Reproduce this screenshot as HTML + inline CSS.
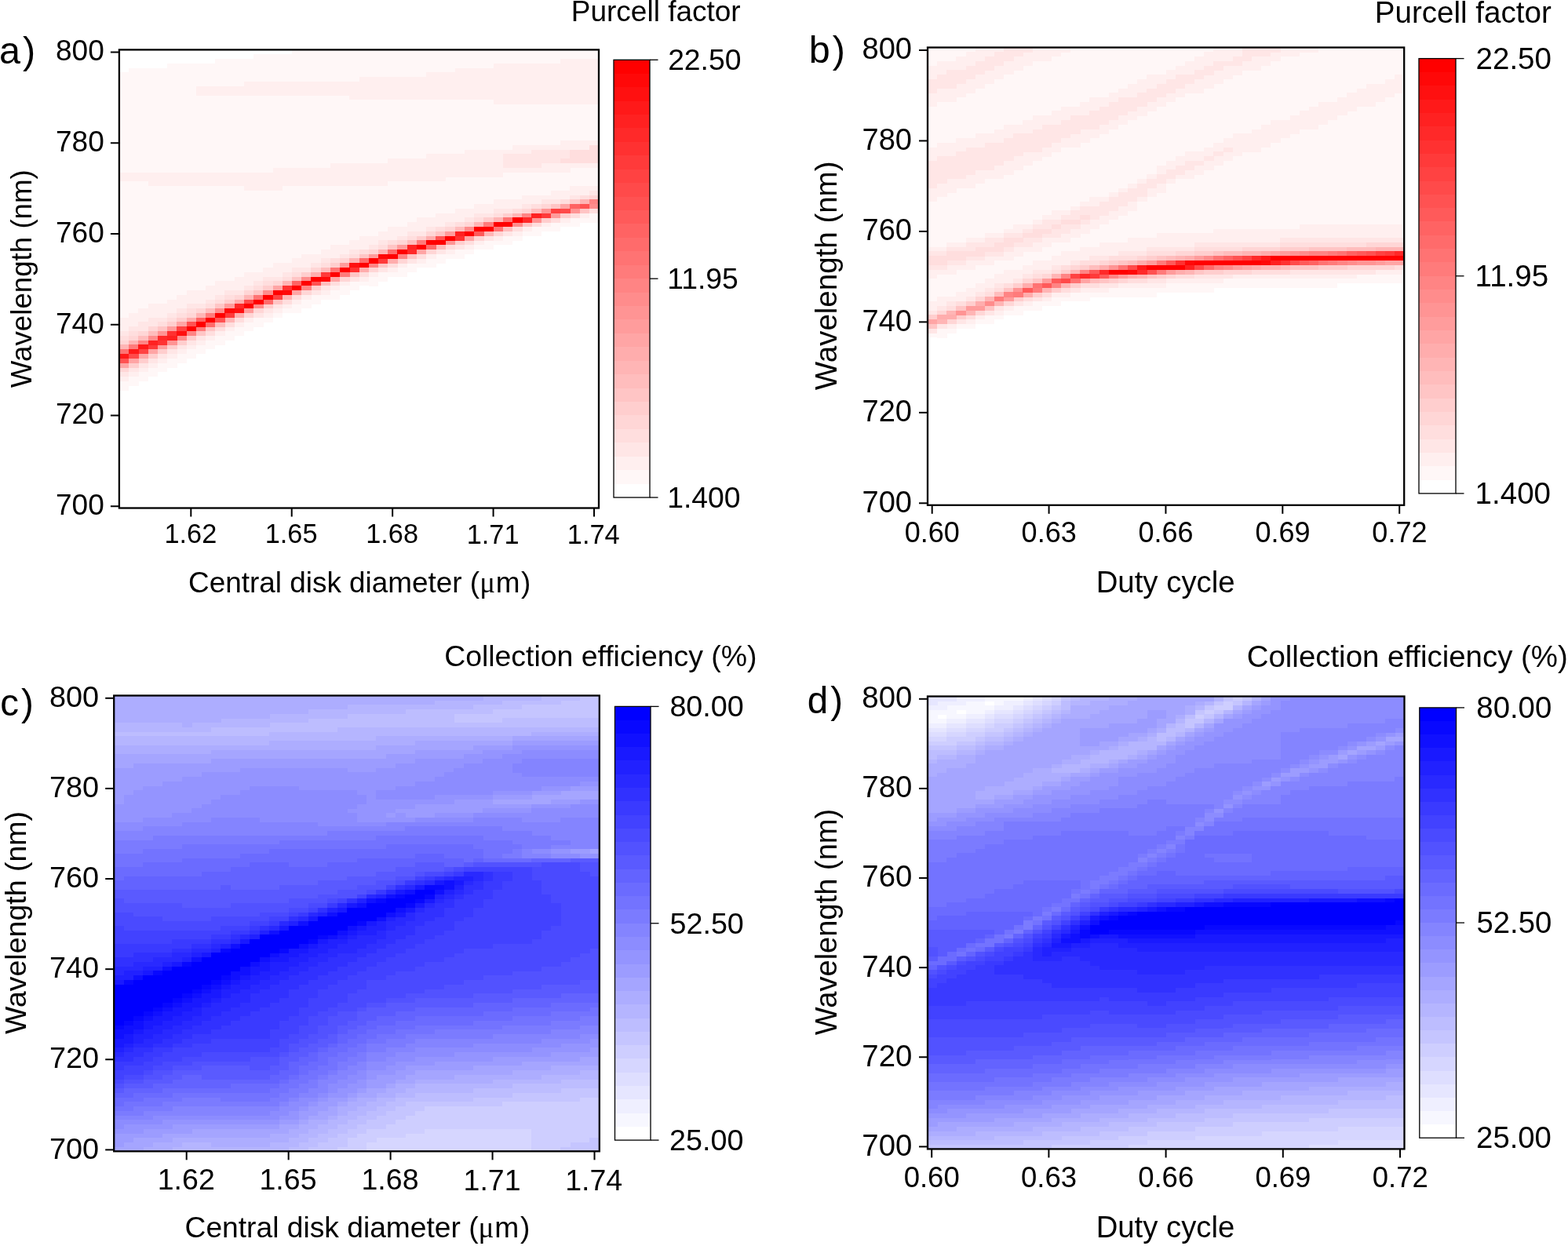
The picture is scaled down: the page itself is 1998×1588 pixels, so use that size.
<!DOCTYPE html><html><head><meta charset="utf-8"><title>Purcell factor and collection efficiency maps</title>
<style>html,body{margin:0;padding:0;background:#fff;overflow:hidden}svg{display:block}text{font-family:"Liberation Sans", Arial, Helvetica, sans-serif;fill:#000}</style></head><body>
<svg xmlns="http://www.w3.org/2000/svg" width="1998" height="1588" viewBox="0 0 1998 1588">
<rect width="1998" height="1588" fill="#fff"/>
<g shape-rendering="crispEdges">
<path fill="#fff7f7" d="M151.9 92.3h12.5v127.5h-12.5zM151.9 231.1h12.5v173.8h-12.5zM151.9 485.6h12.5v11.9h-12.5zM164.1 86.5h12.5v133.3h-12.5zM164.1 231.1h12.5v168.0h-12.5zM164.1 479.8h12.5v11.9h-12.5zM176.3 86.5h12.5v133.3h-12.5zM176.3 231.1h12.5v162.2h-12.5zM176.3 474.0h12.5v11.9h-12.5zM188.6 86.5h12.5v133.3h-12.5zM188.6 236.9h12.5v150.7h-12.5zM188.6 468.2h12.5v11.9h-12.5zM200.8 86.5h12.5v133.3h-12.5zM200.8 236.9h12.5v150.7h-12.5zM200.8 462.4h12.5v11.9h-12.5zM213.0 80.7h12.5v139.1h-12.5zM213.0 236.9h12.5v144.9h-12.5zM213.0 456.7h12.5v11.9h-12.5zM225.2 80.7h12.5v139.1h-12.5zM225.2 236.9h12.5v139.1h-12.5zM225.2 450.9h12.5v11.9h-12.5zM237.5 80.7h12.5v139.1h-12.5zM237.5 236.9h12.5v133.3h-12.5zM237.5 445.1h12.5v11.9h-12.5zM249.7 80.7h12.5v29.2h-12.5zM249.7 121.2h12.5v98.6h-12.5zM249.7 236.9h12.5v133.3h-12.5zM249.7 439.3h12.5v11.9h-12.5zM261.9 80.7h12.5v29.2h-12.5zM261.9 121.2h12.5v98.6h-12.5zM261.9 236.9h12.5v127.5h-12.5zM261.9 433.5h12.5v11.9h-12.5zM274.1 75.0h12.5v35.0h-12.5zM274.1 121.2h12.5v98.6h-12.5zM274.1 236.9h12.5v121.7h-12.5zM274.1 427.7h12.5v11.9h-12.5zM286.3 75.0h12.5v35.0h-12.5zM286.3 121.2h12.5v98.6h-12.5zM286.3 236.9h12.5v121.7h-12.5zM286.3 422.0h12.5v11.9h-12.5zM298.6 75.0h12.5v35.0h-12.5zM298.6 121.2h12.5v98.6h-12.5zM298.6 236.9h12.5v116.0h-12.5zM298.6 416.2h12.5v11.9h-12.5zM310.8 75.0h12.5v29.2h-12.5zM310.8 121.2h12.5v98.6h-12.5zM310.8 242.7h12.5v104.4h-12.5zM310.8 410.4h12.5v11.9h-12.5zM323.0 69.2h12.5v35.0h-12.5zM323.0 121.2h12.5v98.6h-12.5zM323.0 242.7h12.5v104.4h-12.5zM323.0 404.6h12.5v11.9h-12.5zM335.2 69.2h12.5v35.0h-12.5zM335.2 121.2h12.5v98.6h-12.5zM335.2 242.7h12.5v98.6h-12.5zM335.2 404.6h12.5v6.1h-12.5zM347.5 69.2h12.5v35.0h-12.5zM347.5 121.2h12.5v92.8h-12.5zM347.5 242.7h12.5v92.8h-12.5zM347.5 398.8h12.5v6.1h-12.5zM359.7 69.2h12.5v35.0h-12.5zM359.7 121.2h12.5v92.8h-12.5zM359.7 236.9h12.5v98.6h-12.5zM359.7 393.0h12.5v6.1h-12.5zM371.9 63.4h12.5v40.8h-12.5zM371.9 121.2h12.5v92.8h-12.5zM371.9 236.9h12.5v92.8h-12.5zM371.9 387.3h12.5v11.9h-12.5zM384.1 63.4h12.5v40.8h-12.5zM384.1 121.2h12.5v92.8h-12.5zM384.1 236.9h12.5v87.0h-12.5zM384.1 381.5h12.5v11.9h-12.5zM396.3 63.4h12.5v40.8h-12.5zM396.3 121.2h12.5v92.8h-12.5zM396.3 236.9h12.5v87.0h-12.5zM396.3 375.7h12.5v11.9h-12.5zM408.6 63.4h12.5v40.8h-12.5zM408.6 121.2h12.5v92.8h-12.5zM408.6 236.9h12.5v81.3h-12.5zM408.6 375.7h12.5v6.1h-12.5zM420.8 63.4h12.5v40.8h-12.5zM420.8 121.2h12.5v87.0h-12.5zM420.8 236.9h12.5v75.5h-12.5zM420.8 369.9h12.5v11.9h-12.5zM433.0 63.4h12.5v40.8h-12.5zM433.0 121.2h12.5v87.0h-12.5zM433.0 236.9h12.5v75.5h-12.5zM433.0 364.1h12.5v11.9h-12.5zM445.2 63.4h12.5v40.8h-12.5zM445.2 127.0h12.5v81.3h-12.5zM445.2 236.9h12.5v69.7h-12.5zM445.2 358.3h12.5v11.9h-12.5zM457.5 63.4h12.5v35.0h-12.5zM457.5 127.0h12.5v81.3h-12.5zM457.5 236.9h12.5v63.9h-12.5zM457.5 358.3h12.5v6.1h-12.5zM469.7 63.4h12.5v35.0h-12.5zM469.7 127.0h12.5v81.3h-12.5zM469.7 236.9h12.5v63.9h-12.5zM469.7 352.6h12.5v11.9h-12.5zM481.9 63.4h12.5v35.0h-12.5zM481.9 127.0h12.5v81.3h-12.5zM481.9 236.9h12.5v58.1h-12.5zM481.9 346.8h12.5v11.9h-12.5zM494.1 63.4h12.5v35.0h-12.5zM494.1 127.0h12.5v75.5h-12.5zM494.1 231.1h12.5v58.1h-12.5zM494.1 346.8h12.5v6.1h-12.5zM506.3 63.4h12.5v35.0h-12.5zM506.3 127.0h12.5v75.5h-12.5zM506.3 231.1h12.5v58.1h-12.5zM506.3 341.0h12.5v11.9h-12.5zM518.6 63.4h12.5v35.0h-12.5zM518.6 127.0h12.5v75.5h-12.5zM518.6 231.1h12.5v52.3h-12.5zM518.6 335.2h12.5v11.9h-12.5zM530.8 63.4h12.5v35.0h-12.5zM530.8 127.0h12.5v75.5h-12.5zM530.8 231.1h12.5v46.6h-12.5zM530.8 335.2h12.5v6.1h-12.5zM543.0 63.4h12.5v29.2h-12.5zM543.0 127.0h12.5v69.7h-12.5zM543.0 231.1h12.5v46.6h-12.5zM543.0 329.4h12.5v11.9h-12.5zM555.2 63.4h12.5v29.2h-12.5zM555.2 127.0h12.5v69.7h-12.5zM555.2 231.1h12.5v40.8h-12.5zM555.2 323.6h12.5v11.9h-12.5zM567.4 63.4h12.5v29.2h-12.5zM567.4 127.0h12.5v69.7h-12.5zM567.4 225.3h12.5v46.6h-12.5zM567.4 323.6h12.5v6.1h-12.5zM579.7 63.4h12.5v23.4h-12.5zM579.7 127.0h12.5v69.7h-12.5zM579.7 225.3h12.5v40.8h-12.5zM579.7 317.9h12.5v11.9h-12.5zM591.9 63.4h12.5v23.4h-12.5zM591.9 127.0h12.5v63.9h-12.5zM591.9 225.3h12.5v40.8h-12.5zM591.9 317.9h12.5v6.1h-12.5zM604.1 63.4h12.5v23.4h-12.5zM604.1 127.0h12.5v63.9h-12.5zM604.1 225.3h12.5v35.0h-12.5zM604.1 312.1h12.5v6.1h-12.5zM616.3 63.4h12.5v23.4h-12.5zM616.3 127.0h12.5v63.9h-12.5zM616.3 225.3h12.5v35.0h-12.5zM616.3 306.3h12.5v11.9h-12.5zM628.6 63.4h12.5v17.6h-12.5zM628.6 132.8h12.5v58.1h-12.5zM628.6 225.3h12.5v29.2h-12.5zM628.6 306.3h12.5v6.1h-12.5zM640.8 63.4h12.5v17.6h-12.5zM640.8 132.8h12.5v58.1h-12.5zM640.8 219.5h12.5v35.0h-12.5zM640.8 300.5h12.5v11.9h-12.5zM653.0 63.4h12.5v17.6h-12.5zM653.0 132.8h12.5v52.3h-12.5zM653.0 219.5h12.5v35.0h-12.5zM653.0 300.5h12.5v6.1h-12.5zM665.2 63.4h12.5v17.6h-12.5zM665.2 132.8h12.5v52.3h-12.5zM665.2 219.5h12.5v29.2h-12.5zM665.2 294.7h12.5v6.1h-12.5zM677.4 63.4h12.5v17.6h-12.5zM677.4 132.8h12.5v52.3h-12.5zM677.4 219.5h12.5v29.2h-12.5zM677.4 288.9h12.5v11.9h-12.5zM689.7 63.4h12.5v17.6h-12.5zM689.7 132.8h12.5v52.3h-12.5zM689.7 219.5h12.5v29.2h-12.5zM689.7 288.9h12.5v6.1h-12.5zM701.9 63.4h12.5v17.6h-12.5zM701.9 132.8h12.5v52.3h-12.5zM701.9 219.5h12.5v23.4h-12.5zM701.9 283.2h12.5v11.9h-12.5zM714.1 63.4h12.5v11.9h-12.5zM714.1 132.8h12.5v46.6h-12.5zM714.1 219.5h12.5v23.4h-12.5zM714.1 283.2h12.5v6.1h-12.5zM726.3 63.4h12.5v11.9h-12.5zM726.3 132.8h12.5v46.6h-12.5zM726.3 213.8h12.5v23.4h-12.5zM726.3 277.4h12.5v11.9h-12.5zM738.6 63.4h12.5v11.9h-12.5zM738.6 132.8h12.5v46.6h-12.5zM738.6 213.8h12.5v23.4h-12.5zM738.6 277.4h12.5v6.1h-12.5zM750.8 63.4h12.5v11.9h-12.5zM750.8 132.8h12.5v46.6h-12.5zM750.8 213.8h12.5v23.4h-12.5zM750.8 271.6h12.5v11.9h-12.5z"/>
<path fill="#ffefef" d="M151.9 219.5h12.5v11.9h-12.5zM151.9 404.6h12.5v17.6h-12.5zM151.9 479.8h12.5v6.1h-12.5zM164.1 219.5h12.5v11.9h-12.5zM164.1 398.8h12.5v17.6h-12.5zM164.1 474.0h12.5v6.1h-12.5zM176.3 219.5h12.5v11.9h-12.5zM176.3 393.0h12.5v17.6h-12.5zM176.3 468.2h12.5v6.1h-12.5zM188.6 219.5h12.5v17.6h-12.5zM188.6 387.3h12.5v17.6h-12.5zM188.6 462.4h12.5v6.1h-12.5zM200.8 219.5h12.5v17.6h-12.5zM200.8 387.3h12.5v17.6h-12.5zM200.8 456.7h12.5v6.1h-12.5zM213.0 219.5h12.5v17.6h-12.5zM213.0 381.5h12.5v17.6h-12.5zM213.0 450.9h12.5v6.1h-12.5zM225.2 219.5h12.5v17.6h-12.5zM225.2 375.7h12.5v17.6h-12.5zM225.2 445.1h12.5v6.1h-12.5zM237.5 219.5h12.5v17.6h-12.5zM237.5 369.9h12.5v17.6h-12.5zM237.5 439.3h12.5v6.1h-12.5zM249.7 109.7h12.5v11.9h-12.5zM249.7 219.5h12.5v17.6h-12.5zM249.7 369.9h12.5v17.6h-12.5zM249.7 433.5h12.5v6.1h-12.5zM261.9 109.7h12.5v11.9h-12.5zM261.9 219.5h12.5v17.6h-12.5zM261.9 364.1h12.5v17.6h-12.5zM261.9 427.7h12.5v6.1h-12.5zM274.1 109.7h12.5v11.9h-12.5zM274.1 219.5h12.5v17.6h-12.5zM274.1 358.3h12.5v17.6h-12.5zM274.1 422.0h12.5v6.1h-12.5zM286.3 109.7h12.5v11.9h-12.5zM286.3 219.5h12.5v17.6h-12.5zM286.3 358.3h12.5v11.9h-12.5zM286.3 416.2h12.5v6.1h-12.5zM298.6 109.7h12.5v11.9h-12.5zM298.6 219.5h12.5v17.6h-12.5zM298.6 352.6h12.5v17.6h-12.5zM298.6 410.4h12.5v6.1h-12.5zM310.8 103.9h12.5v17.6h-12.5zM310.8 219.5h12.5v23.4h-12.5zM310.8 346.8h12.5v17.6h-12.5zM310.8 404.6h12.5v6.1h-12.5zM323.0 103.9h12.5v17.6h-12.5zM323.0 219.5h12.5v23.4h-12.5zM323.0 346.8h12.5v11.9h-12.5zM335.2 103.9h12.5v17.6h-12.5zM335.2 219.5h12.5v23.4h-12.5zM335.2 341.0h12.5v11.9h-12.5zM335.2 398.8h12.5v6.1h-12.5zM347.5 103.9h12.5v17.6h-12.5zM347.5 213.8h12.5v29.2h-12.5zM347.5 335.2h12.5v17.6h-12.5zM347.5 393.0h12.5v6.1h-12.5zM359.7 103.9h12.5v17.6h-12.5zM359.7 213.8h12.5v23.4h-12.5zM359.7 335.2h12.5v11.9h-12.5zM359.7 387.3h12.5v6.1h-12.5zM371.9 103.9h12.5v17.6h-12.5zM371.9 213.8h12.5v23.4h-12.5zM371.9 329.4h12.5v11.9h-12.5zM371.9 381.5h12.5v6.1h-12.5zM384.1 103.9h12.5v17.6h-12.5zM384.1 213.8h12.5v23.4h-12.5zM384.1 323.6h12.5v17.6h-12.5zM384.1 375.7h12.5v6.1h-12.5zM396.3 103.9h12.5v17.6h-12.5zM396.3 213.8h12.5v23.4h-12.5zM396.3 323.6h12.5v11.9h-12.5zM408.6 103.9h12.5v17.6h-12.5zM408.6 213.8h12.5v23.4h-12.5zM408.6 317.9h12.5v11.9h-12.5zM408.6 369.9h12.5v6.1h-12.5zM420.8 103.9h12.5v17.6h-12.5zM420.8 208.0h12.5v29.2h-12.5zM420.8 312.1h12.5v17.6h-12.5zM420.8 364.1h12.5v6.1h-12.5zM433.0 103.9h12.5v17.6h-12.5zM433.0 208.0h12.5v29.2h-12.5zM433.0 312.1h12.5v11.9h-12.5zM433.0 358.3h12.5v6.1h-12.5zM445.2 103.9h12.5v23.4h-12.5zM445.2 208.0h12.5v29.2h-12.5zM445.2 306.3h12.5v11.9h-12.5zM457.5 98.1h12.5v29.2h-12.5zM457.5 208.0h12.5v29.2h-12.5zM457.5 300.5h12.5v17.6h-12.5zM457.5 352.6h12.5v6.1h-12.5zM469.7 98.1h12.5v29.2h-12.5zM469.7 208.0h12.5v29.2h-12.5zM469.7 300.5h12.5v11.9h-12.5zM469.7 346.8h12.5v6.1h-12.5zM481.9 98.1h12.5v29.2h-12.5zM481.9 208.0h12.5v29.2h-12.5zM481.9 294.7h12.5v11.9h-12.5zM494.1 98.1h12.5v29.2h-12.5zM494.1 202.2h12.5v29.2h-12.5zM494.1 288.9h12.5v17.6h-12.5zM494.1 341.0h12.5v6.1h-12.5zM506.3 98.1h12.5v29.2h-12.5zM506.3 202.2h12.5v29.2h-12.5zM506.3 288.9h12.5v11.9h-12.5zM506.3 335.2h12.5v6.1h-12.5zM518.6 98.1h12.5v29.2h-12.5zM518.6 202.2h12.5v29.2h-12.5zM518.6 283.2h12.5v11.9h-12.5zM530.8 98.1h12.5v29.2h-12.5zM530.8 202.2h12.5v29.2h-12.5zM530.8 277.4h12.5v17.6h-12.5zM530.8 329.4h12.5v6.1h-12.5zM543.0 92.3h12.5v35.0h-12.5zM543.0 196.4h12.5v35.0h-12.5zM543.0 277.4h12.5v11.9h-12.5zM543.0 323.6h12.5v6.1h-12.5zM555.2 92.3h12.5v35.0h-12.5zM555.2 196.4h12.5v35.0h-12.5zM555.2 271.6h12.5v17.6h-12.5zM567.4 92.3h12.5v35.0h-12.5zM567.4 196.4h12.5v29.2h-12.5zM567.4 271.6h12.5v11.9h-12.5zM567.4 317.9h12.5v6.1h-12.5zM579.7 86.5h12.5v40.8h-12.5zM579.7 196.4h12.5v29.2h-12.5zM579.7 265.8h12.5v17.6h-12.5zM591.9 86.5h12.5v40.8h-12.5zM591.9 190.6h12.5v35.0h-12.5zM591.9 265.8h12.5v11.9h-12.5zM591.9 312.1h12.5v6.1h-12.5zM604.1 86.5h12.5v40.8h-12.5zM604.1 190.6h12.5v35.0h-12.5zM604.1 260.0h12.5v11.9h-12.5zM604.1 306.3h12.5v6.1h-12.5zM616.3 86.5h12.5v40.8h-12.5zM616.3 190.6h12.5v35.0h-12.5zM616.3 260.0h12.5v11.9h-12.5zM628.6 80.7h12.5v52.3h-12.5zM628.6 190.6h12.5v35.0h-12.5zM628.6 254.2h12.5v11.9h-12.5zM628.6 300.5h12.5v6.1h-12.5zM640.8 80.7h12.5v52.3h-12.5zM640.8 190.6h12.5v6.1h-12.5zM640.8 213.8h12.5v6.1h-12.5zM640.8 254.2h12.5v11.9h-12.5zM653.0 80.7h12.5v52.3h-12.5zM653.0 184.8h12.5v11.9h-12.5zM653.0 213.8h12.5v6.1h-12.5zM653.0 254.2h12.5v11.9h-12.5zM653.0 294.7h12.5v6.1h-12.5zM665.2 80.7h12.5v52.3h-12.5zM665.2 184.8h12.5v11.9h-12.5zM665.2 213.8h12.5v6.1h-12.5zM665.2 248.5h12.5v11.9h-12.5zM665.2 288.9h12.5v6.1h-12.5zM677.4 80.7h12.5v52.3h-12.5zM677.4 184.8h12.5v6.1h-12.5zM677.4 213.8h12.5v6.1h-12.5zM677.4 248.5h12.5v11.9h-12.5zM689.7 80.7h12.5v52.3h-12.5zM689.7 184.8h12.5v6.1h-12.5zM689.7 208.0h12.5v11.9h-12.5zM689.7 248.5h12.5v6.1h-12.5zM689.7 283.2h12.5v6.1h-12.5zM701.9 80.7h12.5v52.3h-12.5zM701.9 184.8h12.5v6.1h-12.5zM701.9 208.0h12.5v11.9h-12.5zM701.9 242.7h12.5v11.9h-12.5zM714.1 75.0h12.5v58.1h-12.5zM714.1 179.1h12.5v11.9h-12.5zM714.1 208.0h12.5v11.9h-12.5zM714.1 242.7h12.5v11.9h-12.5zM714.1 277.4h12.5v6.1h-12.5zM726.3 75.0h12.5v58.1h-12.5zM726.3 179.1h12.5v11.9h-12.5zM726.3 208.0h12.5v6.1h-12.5zM726.3 236.9h12.5v11.9h-12.5zM738.6 75.0h12.5v58.1h-12.5zM738.6 179.1h12.5v11.9h-12.5zM738.6 208.0h12.5v6.1h-12.5zM738.6 236.9h12.5v11.9h-12.5zM738.6 271.6h12.5v6.1h-12.5zM750.8 75.0h12.5v58.1h-12.5zM750.8 179.1h12.5v6.1h-12.5zM750.8 208.0h12.5v6.1h-12.5zM750.8 236.9h12.5v6.1h-12.5z"/>
<path fill="#ffe6e6" d="M151.9 422.0h12.5v6.1h-12.5zM151.9 474.0h12.5v6.1h-12.5zM164.1 416.2h12.5v6.1h-12.5zM164.1 468.2h12.5v6.1h-12.5zM176.3 410.4h12.5v11.9h-12.5zM176.3 462.4h12.5v6.1h-12.5zM188.6 404.6h12.5v11.9h-12.5zM188.6 456.7h12.5v6.1h-12.5zM200.8 404.6h12.5v6.1h-12.5zM200.8 450.9h12.5v6.1h-12.5zM213.0 398.8h12.5v6.1h-12.5zM213.0 445.1h12.5v6.1h-12.5zM225.2 393.0h12.5v6.1h-12.5zM225.2 439.3h12.5v6.1h-12.5zM237.5 387.3h12.5v6.1h-12.5zM237.5 433.5h12.5v6.1h-12.5zM249.7 387.3h12.5v6.1h-12.5zM249.7 427.7h12.5v6.1h-12.5zM261.9 381.5h12.5v6.1h-12.5zM274.1 375.7h12.5v6.1h-12.5zM286.3 369.9h12.5v6.1h-12.5zM298.6 369.9h12.5v6.1h-12.5zM310.8 364.1h12.5v6.1h-12.5zM323.0 358.3h12.5v6.1h-12.5zM323.0 398.8h12.5v6.1h-12.5zM335.2 352.6h12.5v6.1h-12.5zM335.2 393.0h12.5v6.1h-12.5zM347.5 352.6h12.5v6.1h-12.5zM347.5 387.3h12.5v6.1h-12.5zM359.7 346.8h12.5v6.1h-12.5zM371.9 341.0h12.5v6.1h-12.5zM384.1 341.0h12.5v6.1h-12.5zM396.3 335.2h12.5v6.1h-12.5zM396.3 369.9h12.5v6.1h-12.5zM408.6 329.4h12.5v6.1h-12.5zM408.6 364.1h12.5v6.1h-12.5zM433.0 323.6h12.5v6.1h-12.5zM445.2 317.9h12.5v6.1h-12.5zM445.2 352.6h12.5v6.1h-12.5zM469.7 312.1h12.5v6.1h-12.5zM481.9 306.3h12.5v6.1h-12.5zM481.9 341.0h12.5v6.1h-12.5zM506.3 300.5h12.5v6.1h-12.5zM518.6 294.7h12.5v6.1h-12.5zM518.6 329.4h12.5v6.1h-12.5zM530.8 294.7h12.5v6.1h-12.5zM543.0 288.9h12.5v6.1h-12.5zM555.2 317.9h12.5v6.1h-12.5zM567.4 283.2h12.5v6.1h-12.5zM579.7 312.1h12.5v6.1h-12.5zM591.9 277.4h12.5v6.1h-12.5zM604.1 271.6h12.5v6.1h-12.5zM616.3 271.6h12.5v6.1h-12.5zM616.3 300.5h12.5v6.1h-12.5zM628.6 265.8h12.5v6.1h-12.5zM640.8 196.4h12.5v17.6h-12.5zM640.8 265.8h12.5v6.1h-12.5zM640.8 294.7h12.5v6.1h-12.5zM653.0 196.4h12.5v17.6h-12.5zM665.2 196.4h12.5v17.6h-12.5zM665.2 260.0h12.5v6.1h-12.5zM677.4 190.6h12.5v23.4h-12.5zM689.7 190.6h12.5v17.6h-12.5zM689.7 254.2h12.5v6.1h-12.5zM701.9 190.6h12.5v17.6h-12.5zM701.9 254.2h12.5v6.1h-12.5zM714.1 190.6h12.5v11.9h-12.5zM726.3 248.5h12.5v6.1h-12.5zM750.8 242.7h12.5v6.1h-12.5z"/>
<path fill="#ffdede" d="M151.9 427.7h12.5v6.1h-12.5zM164.1 422.0h12.5v6.1h-12.5zM200.8 410.4h12.5v6.1h-12.5zM213.0 404.6h12.5v6.1h-12.5zM225.2 398.8h12.5v6.1h-12.5zM237.5 393.0h12.5v6.1h-12.5zM261.9 387.3h12.5v6.1h-12.5zM261.9 422.0h12.5v6.1h-12.5zM274.1 381.5h12.5v6.1h-12.5zM274.1 416.2h12.5v6.1h-12.5zM286.3 375.7h12.5v6.1h-12.5zM286.3 410.4h12.5v6.1h-12.5zM298.6 404.6h12.5v6.1h-12.5zM323.0 364.1h12.5v6.1h-12.5zM335.2 358.3h12.5v6.1h-12.5zM359.7 352.6h12.5v6.1h-12.5zM359.7 381.5h12.5v6.1h-12.5zM371.9 346.8h12.5v6.1h-12.5zM371.9 375.7h12.5v6.1h-12.5zM408.6 335.2h12.5v6.1h-12.5zM420.8 329.4h12.5v6.1h-12.5zM420.8 358.3h12.5v6.1h-12.5zM445.2 323.6h12.5v6.1h-12.5zM457.5 317.9h12.5v6.1h-12.5zM457.5 346.8h12.5v6.1h-12.5zM481.9 312.1h12.5v6.1h-12.5zM494.1 306.3h12.5v6.1h-12.5zM494.1 335.2h12.5v6.1h-12.5zM518.6 300.5h12.5v6.1h-12.5zM530.8 323.6h12.5v6.1h-12.5zM555.2 288.9h12.5v6.1h-12.5zM567.4 312.1h12.5v6.1h-12.5zM579.7 283.2h12.5v6.1h-12.5zM591.9 306.3h12.5v6.1h-12.5zM604.1 277.4h12.5v6.1h-12.5zM628.6 271.6h12.5v6.1h-12.5zM653.0 265.8h12.5v6.1h-12.5zM653.0 288.9h12.5v6.1h-12.5zM677.4 260.0h12.5v6.1h-12.5zM677.4 283.2h12.5v6.1h-12.5zM701.9 277.4h12.5v6.1h-12.5zM714.1 202.2h12.5v6.1h-12.5zM714.1 254.2h12.5v6.1h-12.5zM726.3 190.6h12.5v17.6h-12.5zM726.3 271.6h12.5v6.1h-12.5zM738.6 190.6h12.5v17.6h-12.5zM738.6 248.5h12.5v6.1h-12.5zM750.8 184.8h12.5v23.4h-12.5zM750.8 265.8h12.5v6.1h-12.5z"/>
<path fill="#ffd6d6" d="M151.9 433.5h12.5v6.1h-12.5zM151.9 468.2h12.5v6.1h-12.5zM164.1 427.7h12.5v6.1h-12.5zM176.3 422.0h12.5v6.1h-12.5zM188.6 416.2h12.5v6.1h-12.5zM237.5 398.8h12.5v6.1h-12.5zM249.7 393.0h12.5v6.1h-12.5zM298.6 375.7h12.5v6.1h-12.5zM310.8 369.9h12.5v6.1h-12.5zM310.8 398.8h12.5v6.1h-12.5zM323.0 393.0h12.5v6.1h-12.5zM347.5 358.3h12.5v6.1h-12.5zM384.1 369.9h12.5v6.1h-12.5zM396.3 341.0h12.5v6.1h-12.5zM433.0 329.4h12.5v6.1h-12.5zM433.0 352.6h12.5v6.1h-12.5zM469.7 317.9h12.5v6.1h-12.5zM469.7 341.0h12.5v6.1h-12.5zM506.3 306.3h12.5v6.1h-12.5zM506.3 329.4h12.5v6.1h-12.5zM543.0 294.7h12.5v6.1h-12.5zM543.0 317.9h12.5v6.1h-12.5zM567.4 288.9h12.5v6.1h-12.5zM591.9 283.2h12.5v6.1h-12.5zM604.1 300.5h12.5v6.1h-12.5zM628.6 294.7h12.5v6.1h-12.5zM665.2 265.8h12.5v6.1h-12.5zM689.7 260.0h12.5v6.1h-12.5zM750.8 248.5h12.5v6.1h-12.5z"/>
<path fill="#ffcece" d="M164.1 462.4h12.5v6.1h-12.5zM176.3 456.7h12.5v6.1h-12.5zM188.6 450.9h12.5v6.1h-12.5zM200.8 445.1h12.5v6.1h-12.5zM213.0 410.4h12.5v6.1h-12.5zM213.0 439.3h12.5v6.1h-12.5zM225.2 404.6h12.5v6.1h-12.5zM225.2 433.5h12.5v6.1h-12.5zM237.5 427.7h12.5v6.1h-12.5zM286.3 381.5h12.5v6.1h-12.5zM335.2 364.1h12.5v6.1h-12.5zM335.2 387.3h12.5v6.1h-12.5zM384.1 346.8h12.5v6.1h-12.5zM396.3 364.1h12.5v6.1h-12.5zM420.8 335.2h12.5v6.1h-12.5zM530.8 300.5h12.5v6.1h-12.5zM579.7 306.3h12.5v6.1h-12.5zM616.3 277.4h12.5v6.1h-12.5zM640.8 271.6h12.5v6.1h-12.5zM689.7 277.4h12.5v6.1h-12.5zM714.1 271.6h12.5v6.1h-12.5zM726.3 254.2h12.5v6.1h-12.5z"/>
<path fill="#ffc5c5" d="M200.8 416.2h12.5v6.1h-12.5zM249.7 422.0h12.5v6.1h-12.5zM261.9 416.2h12.5v6.1h-12.5zM274.1 387.3h12.5v6.1h-12.5zM323.0 369.9h12.5v6.1h-12.5zM347.5 381.5h12.5v6.1h-12.5zM371.9 352.6h12.5v6.1h-12.5zM445.2 346.8h12.5v6.1h-12.5zM457.5 323.6h12.5v6.1h-12.5zM481.9 335.2h12.5v6.1h-12.5zM494.1 312.1h12.5v6.1h-12.5zM518.6 323.6h12.5v6.1h-12.5zM555.2 294.7h12.5v6.1h-12.5zM665.2 283.2h12.5v6.1h-12.5zM701.9 260.0h12.5v6.1h-12.5zM738.6 265.8h12.5v6.1h-12.5z"/>
<path fill="#ffbdbd" d="M176.3 427.7h12.5v6.1h-12.5zM188.6 422.0h12.5v6.1h-12.5zM261.9 393.0h12.5v6.1h-12.5zM274.1 410.4h12.5v6.1h-12.5zM408.6 341.0h12.5v6.1h-12.5zM408.6 358.3h12.5v6.1h-12.5zM518.6 306.3h12.5v6.1h-12.5zM555.2 312.1h12.5v6.1h-12.5zM579.7 288.9h12.5v6.1h-12.5zM640.8 288.9h12.5v6.1h-12.5zM677.4 265.8h12.5v6.1h-12.5z"/>
<path fill="#ffb5b5" d="M151.9 439.3h12.5v6.1h-12.5zM164.1 433.5h12.5v6.1h-12.5zM249.7 398.8h12.5v6.1h-12.5zM286.3 404.6h12.5v6.1h-12.5zM310.8 375.7h12.5v6.1h-12.5zM359.7 358.3h12.5v6.1h-12.5zM359.7 375.7h12.5v6.1h-12.5zM445.2 329.4h12.5v6.1h-12.5zM481.9 317.9h12.5v6.1h-12.5zM604.1 283.2h12.5v6.1h-12.5zM616.3 294.7h12.5v6.1h-12.5zM628.6 277.4h12.5v6.1h-12.5zM653.0 271.6h12.5v6.1h-12.5zM738.6 254.2h12.5v6.1h-12.5z"/>
<path fill="#ffadad" d="M237.5 404.6h12.5v6.1h-12.5zM298.6 381.5h12.5v6.1h-12.5zM298.6 398.8h12.5v6.1h-12.5zM396.3 346.8h12.5v6.1h-12.5zM457.5 341.0h12.5v6.1h-12.5zM494.1 329.4h12.5v6.1h-12.5zM543.0 300.5h12.5v6.1h-12.5z"/>
<path fill="#ffa5a5" d="M151.9 462.4h12.5v6.1h-12.5zM164.1 456.7h12.5v6.1h-12.5zM176.3 450.9h12.5v6.1h-12.5zM188.6 445.1h12.5v6.1h-12.5zM225.2 410.4h12.5v6.1h-12.5zM347.5 364.1h12.5v6.1h-12.5zM371.9 369.9h12.5v6.1h-12.5zM420.8 352.6h12.5v6.1h-12.5zM530.8 317.9h12.5v6.1h-12.5zM591.9 300.5h12.5v6.1h-12.5zM714.1 260.0h12.5v6.1h-12.5z"/>
<path fill="#ff9c9c" d="M200.8 439.3h12.5v6.1h-12.5zM213.0 416.2h12.5v6.1h-12.5zM286.3 387.3h12.5v6.1h-12.5zM310.8 393.0h12.5v6.1h-12.5zM433.0 335.2h12.5v6.1h-12.5zM469.7 323.6h12.5v6.1h-12.5zM506.3 312.1h12.5v6.1h-12.5zM567.4 294.7h12.5v6.1h-12.5zM701.9 271.6h12.5v6.1h-12.5z"/>
<path fill="#ff9494" d="M200.8 422.0h12.5v6.1h-12.5zM213.0 433.5h12.5v6.1h-12.5zM567.4 306.3h12.5v6.1h-12.5zM677.4 277.4h12.5v6.1h-12.5zM689.7 265.8h12.5v6.1h-12.5zM726.3 265.8h12.5v6.1h-12.5z"/>
<path fill="#ff8c8c" d="M188.6 427.7h12.5v6.1h-12.5zM225.2 427.7h12.5v6.1h-12.5zM274.1 393.0h12.5v6.1h-12.5zM323.0 387.3h12.5v6.1h-12.5zM335.2 369.9h12.5v6.1h-12.5zM384.1 352.6h12.5v6.1h-12.5zM591.9 288.9h12.5v6.1h-12.5zM653.0 283.2h12.5v6.1h-12.5zM750.8 260.0h12.5v6.1h-12.5z"/>
<path fill="#ff8484" d="M176.3 433.5h12.5v6.1h-12.5zM237.5 422.0h12.5v6.1h-12.5zM384.1 364.1h12.5v6.1h-12.5zM469.7 335.2h12.5v6.1h-12.5zM506.3 323.6h12.5v6.1h-12.5zM665.2 271.6h12.5v6.1h-12.5zM750.8 254.2h12.5v6.1h-12.5z"/>
<path fill="#ff7b7b" d="M164.1 439.3h12.5v6.1h-12.5zM249.7 416.2h12.5v6.1h-12.5zM261.9 398.8h12.5v6.1h-12.5zM433.0 346.8h12.5v6.1h-12.5zM530.8 306.3h12.5v6.1h-12.5zM616.3 283.2h12.5v6.1h-12.5z"/>
<path fill="#ff7373" d="M151.9 445.1h12.5v6.1h-12.5zM323.0 375.7h12.5v6.1h-12.5zM420.8 341.0h12.5v6.1h-12.5zM628.6 288.9h12.5v6.1h-12.5zM640.8 277.4h12.5v6.1h-12.5z"/>
<path fill="#ff6b6b" d="M261.9 410.4h12.5v6.1h-12.5zM335.2 381.5h12.5v6.1h-12.5zM457.5 329.4h12.5v6.1h-12.5zM494.1 317.9h12.5v6.1h-12.5zM543.0 312.1h12.5v6.1h-12.5z"/>
<path fill="#ff6363" d="M249.7 404.6h12.5v6.1h-12.5zM371.9 358.3h12.5v6.1h-12.5zM726.3 260.0h12.5v6.1h-12.5z"/>
<path fill="#ff5a5a" d="M604.1 294.7h12.5v6.1h-12.5z"/>
<path fill="#ff5252" d="M151.9 456.7h12.5v6.1h-12.5zM237.5 410.4h12.5v6.1h-12.5zM274.1 404.6h12.5v6.1h-12.5zM396.3 358.3h12.5v6.1h-12.5zM555.2 300.5h12.5v6.1h-12.5zM738.6 260.0h12.5v6.1h-12.5z"/>
<path fill="#ff4a4a" d="M164.1 450.9h12.5v6.1h-12.5zM310.8 381.5h12.5v6.1h-12.5zM714.1 265.8h12.5v6.1h-12.5z"/>
<path fill="#ff4242" d="M176.3 445.1h12.5v6.1h-12.5zM225.2 416.2h12.5v6.1h-12.5zM347.5 375.7h12.5v6.1h-12.5zM701.9 265.8h12.5v6.1h-12.5z"/>
<path fill="#ff3a3a" d="M188.6 439.3h12.5v6.1h-12.5zM286.3 398.8h12.5v6.1h-12.5zM408.6 346.8h12.5v6.1h-12.5zM481.9 329.4h12.5v6.1h-12.5zM689.7 271.6h12.5v6.1h-12.5z"/>
<path fill="#ff3131" d="M200.8 433.5h12.5v6.1h-12.5zM213.0 422.0h12.5v6.1h-12.5zM359.7 364.1h12.5v6.1h-12.5zM445.2 341.0h12.5v6.1h-12.5zM579.7 300.5h12.5v6.1h-12.5z"/>
<path fill="#ff2929" d="M200.8 427.7h12.5v6.1h-12.5zM298.6 387.3h12.5v6.1h-12.5zM518.6 317.9h12.5v6.1h-12.5zM665.2 277.4h12.5v6.1h-12.5z"/>
<path fill="#ff2121" d="M188.6 433.5h12.5v6.1h-12.5zM213.0 427.7h12.5v6.1h-12.5zM518.6 312.1h12.5v6.1h-12.5zM579.7 294.7h12.5v6.1h-12.5zM677.4 271.6h12.5v6.1h-12.5z"/>
<path fill="#ff1919" d="M151.9 450.9h12.5v6.1h-12.5zM164.1 445.1h12.5v6.1h-12.5zM176.3 439.3h12.5v6.1h-12.5z"/>
<path fill="#ff1010" d="M225.2 422.0h12.5v6.1h-12.5zM298.6 393.0h12.5v6.1h-12.5zM445.2 335.2h12.5v6.1h-12.5z"/>
<path fill="#ff0808" d="M286.3 393.0h12.5v6.1h-12.5zM359.7 369.9h12.5v6.1h-12.5zM408.6 352.6h12.5v6.1h-12.5zM481.9 323.6h12.5v6.1h-12.5z"/>
<path fill="#ff0000" d="M237.5 416.2h12.5v6.1h-12.5zM249.7 410.4h12.5v6.1h-12.5zM261.9 404.6h12.5v6.1h-12.5zM274.1 398.8h12.5v6.1h-12.5zM310.8 387.3h12.5v6.1h-12.5zM323.0 381.5h12.5v6.1h-12.5zM335.2 375.7h12.5v6.1h-12.5zM347.5 369.9h12.5v6.1h-12.5zM371.9 364.1h12.5v6.1h-12.5zM384.1 358.3h12.5v6.1h-12.5zM396.3 352.6h12.5v6.1h-12.5zM420.8 346.8h12.5v6.1h-12.5zM433.0 341.0h12.5v6.1h-12.5zM457.5 335.2h12.5v6.1h-12.5zM469.7 329.4h12.5v6.1h-12.5zM494.1 323.6h12.5v6.1h-12.5zM506.3 317.9h12.5v6.1h-12.5zM530.8 312.1h12.5v6.1h-12.5zM543.0 306.3h12.5v6.1h-12.5zM555.2 306.3h12.5v6.1h-12.5zM567.4 300.5h12.5v6.1h-12.5zM591.9 294.7h12.5v6.1h-12.5zM604.1 288.9h12.5v6.1h-12.5zM616.3 288.9h12.5v6.1h-12.5zM628.6 283.2h12.5v6.1h-12.5zM640.8 283.2h12.5v6.1h-12.5zM653.0 277.4h12.5v6.1h-12.5z"/>
</g>
<g shape-rendering="crispEdges">
<rect x="782.00" y="76.30" width="46.00" height="18.03" fill="#ff0000"/>
<rect x="782.00" y="93.73" width="46.00" height="18.03" fill="#ff0808"/>
<rect x="782.00" y="111.16" width="46.00" height="18.03" fill="#ff1010"/>
<rect x="782.00" y="128.58" width="46.00" height="18.03" fill="#ff1919"/>
<rect x="782.00" y="146.01" width="46.00" height="18.03" fill="#ff2121"/>
<rect x="782.00" y="163.44" width="46.00" height="18.03" fill="#ff2929"/>
<rect x="782.00" y="180.87" width="46.00" height="18.03" fill="#ff3131"/>
<rect x="782.00" y="198.30" width="46.00" height="18.03" fill="#ff3a3a"/>
<rect x="782.00" y="215.73" width="46.00" height="18.03" fill="#ff4242"/>
<rect x="782.00" y="233.15" width="46.00" height="18.03" fill="#ff4a4a"/>
<rect x="782.00" y="250.58" width="46.00" height="18.03" fill="#ff5252"/>
<rect x="782.00" y="268.01" width="46.00" height="18.03" fill="#ff5a5a"/>
<rect x="782.00" y="285.44" width="46.00" height="18.03" fill="#ff6363"/>
<rect x="782.00" y="302.87" width="46.00" height="18.03" fill="#ff6b6b"/>
<rect x="782.00" y="320.29" width="46.00" height="18.03" fill="#ff7373"/>
<rect x="782.00" y="337.72" width="46.00" height="18.03" fill="#ff7b7b"/>
<rect x="782.00" y="355.15" width="46.00" height="18.03" fill="#ff8484"/>
<rect x="782.00" y="372.58" width="46.00" height="18.03" fill="#ff8c8c"/>
<rect x="782.00" y="390.01" width="46.00" height="18.03" fill="#ff9494"/>
<rect x="782.00" y="407.43" width="46.00" height="18.03" fill="#ff9c9c"/>
<rect x="782.00" y="424.86" width="46.00" height="18.03" fill="#ffa5a5"/>
<rect x="782.00" y="442.29" width="46.00" height="18.03" fill="#ffadad"/>
<rect x="782.00" y="459.72" width="46.00" height="18.03" fill="#ffb5b5"/>
<rect x="782.00" y="477.15" width="46.00" height="18.03" fill="#ffbdbd"/>
<rect x="782.00" y="494.58" width="46.00" height="18.03" fill="#ffc5c5"/>
<rect x="782.00" y="512.00" width="46.00" height="18.03" fill="#ffcece"/>
<rect x="782.00" y="529.43" width="46.00" height="18.03" fill="#ffd6d6"/>
<rect x="782.00" y="546.86" width="46.00" height="18.03" fill="#ffdede"/>
<rect x="782.00" y="564.29" width="46.00" height="18.03" fill="#ffe6e6"/>
<rect x="782.00" y="581.72" width="46.00" height="18.03" fill="#ffefef"/>
<rect x="782.00" y="599.14" width="46.00" height="18.03" fill="#fff7f7"/>
<rect x="782.00" y="616.57" width="46.00" height="18.03" fill="#ffffff"/>
</g>
<rect x="782.00" y="76.30" width="46.00" height="557.70" fill="none" stroke="#000" stroke-width="1.3"/>
<line x1="828.00" y1="76.30" x2="838.50" y2="76.30" stroke="#000" stroke-width="1.3"/>
<line x1="828.00" y1="355.15" x2="838.50" y2="355.15" stroke="#000" stroke-width="1.3"/>
<line x1="828.00" y1="634.00" x2="838.50" y2="634.00" stroke="#000" stroke-width="1.3"/>
<text x="851.13" y="89.12" font-size="37.30">22.50</text>
<text x="850.20" y="367.97" font-size="37.30">11.95</text>
<text x="850.20" y="646.82" font-size="37.30">1.400</text>
<rect x="151.90" y="63.40" width="611.10" height="584.10" fill="none" stroke="#000" stroke-width="2.3"/>
<line x1="140.90" y1="66.50" x2="151.90" y2="66.50" stroke="#000" stroke-width="2"/>
<text x="70.99" y="77.42" font-size="37.00">800</text>
<line x1="140.90" y1="182.25" x2="151.90" y2="182.25" stroke="#000" stroke-width="2"/>
<text x="70.99" y="193.17" font-size="37.00">780</text>
<line x1="140.90" y1="298.00" x2="151.90" y2="298.00" stroke="#000" stroke-width="2"/>
<text x="70.99" y="308.92" font-size="37.00">760</text>
<line x1="140.90" y1="413.75" x2="151.90" y2="413.75" stroke="#000" stroke-width="2"/>
<text x="70.99" y="424.67" font-size="37.00">740</text>
<line x1="140.90" y1="529.50" x2="151.90" y2="529.50" stroke="#000" stroke-width="2"/>
<text x="70.99" y="540.42" font-size="37.00">720</text>
<line x1="140.90" y1="645.25" x2="151.90" y2="645.25" stroke="#000" stroke-width="2"/>
<text x="70.99" y="656.17" font-size="37.00">700</text>
<line x1="243.30" y1="647.50" x2="243.30" y2="658.50" stroke="#000" stroke-width="2"/>
<text x="209.51" y="692.46" font-size="34.30">1.62</text>
<line x1="371.72" y1="647.50" x2="371.72" y2="658.50" stroke="#000" stroke-width="2"/>
<text x="337.77" y="692.46" font-size="34.30">1.65</text>
<line x1="500.15" y1="647.50" x2="500.15" y2="658.50" stroke="#000" stroke-width="2"/>
<text x="466.24" y="692.46" font-size="34.30">1.68</text>
<line x1="628.57" y1="647.50" x2="628.57" y2="658.50" stroke="#000" stroke-width="2"/>
<text x="594.75" y="692.80" font-size="34.30">1.71</text>
<line x1="757.00" y1="647.50" x2="757.00" y2="658.50" stroke="#000" stroke-width="2"/>
<text x="722.83" y="692.80" font-size="34.30">1.74</text>
<text x="727.75" y="27.30" font-size="37.00">Purcell factor</text>
<text x="240.06" y="755.10" font-size="36.90">Central disk diameter (<tspan font-family="Liberation Serif, serif">μ</tspan><tspan dx="0.8">m</tspan><tspan dx="1.6">)</tspan></text>
<text x="0" y="0" font-size="36.70" transform="translate(39.70 494.18) rotate(-90)">Wavelength (nm)</text>
<text x="-1.06" y="80.60" font-size="48.50" letter-spacing="3">a)</text>
<g shape-rendering="crispEdges">
<path fill="#fff7f7" d="M1182.0 60.5h12.4v23.4h-12.4zM1182.0 135.6h12.4v52.3h-12.4zM1182.0 256.9h12.4v58.1h-12.4zM1182.0 355.0h12.4v29.2h-12.4zM1182.0 424.3h12.4v6.1h-12.4zM1194.1 60.5h12.4v17.6h-12.4zM1194.1 129.8h12.4v52.3h-12.4zM1194.1 251.1h12.4v63.8h-12.4zM1194.1 349.3h12.4v29.2h-12.4zM1194.1 418.6h12.4v11.9h-12.4zM1206.3 60.5h12.4v17.6h-12.4zM1206.3 129.8h12.4v52.3h-12.4zM1206.3 245.3h12.4v63.8h-12.4zM1206.3 349.3h12.4v29.2h-12.4zM1206.3 418.6h12.4v6.1h-12.4zM1218.4 60.5h12.4v11.9h-12.4zM1218.4 124.0h12.4v52.3h-12.4zM1218.4 239.5h12.4v69.6h-12.4zM1218.4 343.5h12.4v29.2h-12.4zM1218.4 412.8h12.4v6.1h-12.4zM1230.6 60.5h12.4v6.1h-12.4zM1230.6 118.3h12.4v58.1h-12.4zM1230.6 239.5h12.4v63.8h-12.4zM1230.6 343.5h12.4v23.4h-12.4zM1230.6 412.8h12.4v6.1h-12.4zM1242.7 112.5h12.4v58.1h-12.4zM1242.7 233.8h12.4v69.6h-12.4zM1242.7 337.7h12.4v23.4h-12.4zM1242.7 407.0h12.4v6.1h-12.4zM1254.9 106.7h12.4v63.8h-12.4zM1254.9 228.0h12.4v69.6h-12.4zM1254.9 337.7h12.4v17.6h-12.4zM1254.9 401.2h12.4v11.9h-12.4zM1267.0 100.9h12.4v63.8h-12.4zM1267.0 228.0h12.4v69.6h-12.4zM1267.0 331.9h12.4v17.6h-12.4zM1267.0 401.2h12.4v6.1h-12.4zM1279.2 95.2h12.4v63.8h-12.4zM1279.2 222.2h12.4v69.6h-12.4zM1279.2 331.9h12.4v11.9h-12.4zM1279.2 395.5h12.4v6.1h-12.4zM1291.3 89.4h12.4v69.6h-12.4zM1291.3 216.4h12.4v69.6h-12.4zM1291.3 326.2h12.4v17.6h-12.4zM1291.3 389.7h12.4v11.9h-12.4zM1303.4 83.6h12.4v69.6h-12.4zM1303.4 210.7h12.4v75.4h-12.4zM1303.4 320.4h12.4v17.6h-12.4zM1303.4 389.7h12.4v6.1h-12.4zM1315.6 77.8h12.4v69.6h-12.4zM1315.6 204.9h12.4v75.4h-12.4zM1315.6 320.4h12.4v11.9h-12.4zM1315.6 383.9h12.4v11.9h-12.4zM1327.7 77.8h12.4v69.6h-12.4zM1327.7 199.1h12.4v75.4h-12.4zM1327.7 314.6h12.4v17.6h-12.4zM1327.7 383.9h12.4v6.1h-12.4zM1339.9 72.1h12.4v69.6h-12.4zM1339.9 193.3h12.4v75.4h-12.4zM1339.9 308.8h12.4v17.6h-12.4zM1339.9 378.1h12.4v11.9h-12.4zM1352.0 66.3h12.4v69.6h-12.4zM1352.0 187.6h12.4v81.2h-12.4zM1352.0 308.8h12.4v11.9h-12.4zM1352.0 378.1h12.4v6.1h-12.4zM1364.2 60.5h12.4v75.4h-12.4zM1364.2 187.6h12.4v75.4h-12.4zM1364.2 303.1h12.4v17.6h-12.4zM1364.2 372.4h12.4v11.9h-12.4zM1376.3 60.5h12.4v69.6h-12.4zM1376.3 181.8h12.4v75.4h-12.4zM1376.3 297.3h12.4v17.6h-12.4zM1376.3 372.4h12.4v11.9h-12.4zM1388.4 60.5h12.4v63.8h-12.4zM1388.4 176.0h12.4v75.4h-12.4zM1388.4 291.5h12.4v23.4h-12.4zM1388.4 372.4h12.4v6.1h-12.4zM1400.6 60.5h12.4v63.8h-12.4zM1400.6 170.2h12.4v81.2h-12.4zM1400.6 285.7h12.4v23.4h-12.4zM1400.6 372.4h12.4v6.1h-12.4zM1412.7 60.5h12.4v58.1h-12.4zM1412.7 164.5h12.4v81.2h-12.4zM1412.7 280.0h12.4v29.2h-12.4zM1412.7 366.6h12.4v11.9h-12.4zM1424.9 60.5h12.4v52.3h-12.4zM1424.9 158.7h12.4v81.2h-12.4zM1424.9 274.2h12.4v35.0h-12.4zM1424.9 366.6h12.4v11.9h-12.4zM1437.0 60.5h12.4v46.5h-12.4zM1437.0 152.9h12.4v81.2h-12.4zM1437.0 268.4h12.4v35.0h-12.4zM1437.0 366.6h12.4v11.9h-12.4zM1449.2 60.5h12.4v40.7h-12.4zM1449.2 147.1h12.4v81.2h-12.4zM1449.2 256.9h12.4v46.5h-12.4zM1449.2 366.6h12.4v11.9h-12.4zM1461.3 60.5h12.4v35.0h-12.4zM1461.3 141.4h12.4v81.2h-12.4zM1461.3 251.1h12.4v52.3h-12.4zM1461.3 366.6h12.4v11.9h-12.4zM1473.5 60.5h12.4v35.0h-12.4zM1473.5 135.6h12.4v75.4h-12.4zM1473.5 245.3h12.4v52.3h-12.4zM1473.5 366.6h12.4v6.1h-12.4zM1485.6 60.5h12.4v29.2h-12.4zM1485.6 129.8h12.4v75.4h-12.4zM1485.6 233.8h12.4v63.8h-12.4zM1485.6 360.8h12.4v11.9h-12.4zM1497.7 60.5h12.4v23.4h-12.4zM1497.7 124.0h12.4v75.4h-12.4zM1497.7 228.0h12.4v69.6h-12.4zM1497.7 360.8h12.4v11.9h-12.4zM1509.9 60.5h12.4v17.6h-12.4zM1509.9 118.3h12.4v75.4h-12.4zM1509.9 228.0h12.4v69.6h-12.4zM1509.9 360.8h12.4v11.9h-12.4zM1522.0 60.5h12.4v11.9h-12.4zM1522.0 118.3h12.4v75.4h-12.4zM1522.0 222.2h12.4v75.4h-12.4zM1522.0 360.8h12.4v11.9h-12.4zM1534.2 60.5h12.4v6.1h-12.4zM1534.2 112.5h12.4v75.4h-12.4zM1534.2 216.4h12.4v81.2h-12.4zM1534.2 360.8h12.4v11.9h-12.4zM1546.3 106.7h12.4v75.4h-12.4zM1546.3 210.7h12.4v81.2h-12.4zM1546.3 360.8h12.4v6.1h-12.4zM1558.5 100.9h12.4v75.4h-12.4zM1558.5 204.9h12.4v86.9h-12.4zM1558.5 355.0h12.4v11.9h-12.4zM1570.6 95.2h12.4v75.4h-12.4zM1570.6 199.1h12.4v92.7h-12.4zM1570.6 355.0h12.4v11.9h-12.4zM1582.8 89.4h12.4v81.2h-12.4zM1582.8 193.3h12.4v98.5h-12.4zM1582.8 355.0h12.4v11.9h-12.4zM1594.9 89.4h12.4v75.4h-12.4zM1594.9 193.3h12.4v98.5h-12.4zM1594.9 355.0h12.4v11.9h-12.4zM1607.0 83.6h12.4v75.4h-12.4zM1607.0 187.6h12.4v104.3h-12.4zM1607.0 355.0h12.4v11.9h-12.4zM1619.2 77.8h12.4v75.4h-12.4zM1619.2 181.8h12.4v110.0h-12.4zM1619.2 355.0h12.4v11.9h-12.4zM1631.3 72.1h12.4v81.2h-12.4zM1631.3 176.0h12.4v115.8h-12.4zM1631.3 355.0h12.4v11.9h-12.4zM1643.5 72.1h12.4v75.4h-12.4zM1643.5 170.2h12.4v121.6h-12.4zM1643.5 355.0h12.4v11.9h-12.4zM1655.6 66.3h12.4v75.4h-12.4zM1655.6 164.5h12.4v121.6h-12.4zM1655.6 355.0h12.4v11.9h-12.4zM1667.8 66.3h12.4v69.6h-12.4zM1667.8 164.5h12.4v121.6h-12.4zM1667.8 355.0h12.4v11.9h-12.4zM1679.9 60.5h12.4v69.6h-12.4zM1679.9 158.7h12.4v127.4h-12.4zM1679.9 355.0h12.4v11.9h-12.4zM1692.0 60.5h12.4v69.6h-12.4zM1692.0 152.9h12.4v133.1h-12.4zM1692.0 355.0h12.4v11.9h-12.4zM1704.2 60.5h12.4v63.8h-12.4zM1704.2 147.1h12.4v138.9h-12.4zM1704.2 355.0h12.4v6.1h-12.4zM1716.3 60.5h12.4v58.1h-12.4zM1716.3 141.4h12.4v144.7h-12.4zM1716.3 355.0h12.4v6.1h-12.4zM1728.5 60.5h12.4v52.3h-12.4zM1728.5 135.6h12.4v150.5h-12.4zM1728.5 349.3h12.4v11.9h-12.4zM1740.6 60.5h12.4v46.5h-12.4zM1740.6 135.6h12.4v150.5h-12.4zM1740.6 349.3h12.4v11.9h-12.4zM1752.8 60.5h12.4v46.5h-12.4zM1752.8 129.8h12.4v156.2h-12.4zM1752.8 349.3h12.4v11.9h-12.4zM1764.9 60.5h12.4v40.7h-12.4zM1764.9 124.0h12.4v162.0h-12.4zM1764.9 349.3h12.4v11.9h-12.4zM1777.1 60.5h12.4v35.0h-12.4zM1777.1 118.3h12.4v167.8h-12.4zM1777.1 349.3h12.4v11.9h-12.4z"/>
<path fill="#ffefef" d="M1182.0 83.6h12.4v17.6h-12.4zM1182.0 118.3h12.4v17.6h-12.4zM1182.0 187.6h12.4v17.6h-12.4zM1182.0 239.5h12.4v17.6h-12.4zM1182.0 314.6h12.4v6.1h-12.4zM1182.0 343.5h12.4v11.9h-12.4zM1182.0 383.9h12.4v11.9h-12.4zM1194.1 77.8h12.4v17.6h-12.4zM1194.1 112.5h12.4v17.6h-12.4zM1194.1 181.8h12.4v17.6h-12.4zM1194.1 233.8h12.4v17.6h-12.4zM1194.1 314.6h12.4v6.1h-12.4zM1194.1 343.5h12.4v6.1h-12.4zM1194.1 378.1h12.4v11.9h-12.4zM1206.3 77.8h12.4v11.9h-12.4zM1206.3 112.5h12.4v17.6h-12.4zM1206.3 181.8h12.4v17.6h-12.4zM1206.3 228.0h12.4v17.6h-12.4zM1206.3 308.8h12.4v6.1h-12.4zM1206.3 337.7h12.4v11.9h-12.4zM1206.3 378.1h12.4v6.1h-12.4zM1206.3 412.8h12.4v6.1h-12.4zM1218.4 72.1h12.4v17.6h-12.4zM1218.4 106.7h12.4v17.6h-12.4zM1218.4 176.0h12.4v17.6h-12.4zM1218.4 228.0h12.4v11.9h-12.4zM1218.4 308.8h12.4v6.1h-12.4zM1218.4 337.7h12.4v6.1h-12.4zM1218.4 372.4h12.4v11.9h-12.4zM1230.6 66.3h12.4v17.6h-12.4zM1230.6 100.9h12.4v17.6h-12.4zM1230.6 176.0h12.4v11.9h-12.4zM1230.6 222.2h12.4v17.6h-12.4zM1230.6 303.1h12.4v6.1h-12.4zM1230.6 331.9h12.4v11.9h-12.4zM1230.6 366.6h12.4v11.9h-12.4zM1230.6 407.0h12.4v6.1h-12.4zM1242.7 60.5h12.4v17.6h-12.4zM1242.7 95.2h12.4v17.6h-12.4zM1242.7 170.2h12.4v17.6h-12.4zM1242.7 216.4h12.4v17.6h-12.4zM1242.7 303.1h12.4v6.1h-12.4zM1242.7 331.9h12.4v6.1h-12.4zM1242.7 360.8h12.4v11.9h-12.4zM1242.7 401.2h12.4v6.1h-12.4zM1254.9 60.5h12.4v11.9h-12.4zM1254.9 89.4h12.4v17.6h-12.4zM1254.9 170.2h12.4v11.9h-12.4zM1254.9 216.4h12.4v11.9h-12.4zM1254.9 297.3h12.4v6.1h-12.4zM1254.9 326.2h12.4v11.9h-12.4zM1254.9 355.0h12.4v11.9h-12.4zM1267.0 60.5h12.4v6.1h-12.4zM1267.0 83.6h12.4v17.6h-12.4zM1267.0 164.5h12.4v17.6h-12.4zM1267.0 210.7h12.4v17.6h-12.4zM1267.0 297.3h12.4v6.1h-12.4zM1267.0 326.2h12.4v6.1h-12.4zM1267.0 349.3h12.4v11.9h-12.4zM1267.0 395.5h12.4v6.1h-12.4zM1279.2 77.8h12.4v17.6h-12.4zM1279.2 158.7h12.4v17.6h-12.4zM1279.2 204.9h12.4v17.6h-12.4zM1279.2 291.5h12.4v6.1h-12.4zM1279.2 320.4h12.4v11.9h-12.4zM1279.2 343.5h12.4v17.6h-12.4zM1279.2 389.7h12.4v6.1h-12.4zM1291.3 72.1h12.4v17.6h-12.4zM1291.3 158.7h12.4v11.9h-12.4zM1291.3 199.1h12.4v17.6h-12.4zM1291.3 285.7h12.4v11.9h-12.4zM1291.3 314.6h12.4v11.9h-12.4zM1291.3 343.5h12.4v11.9h-12.4zM1303.4 66.3h12.4v17.6h-12.4zM1303.4 152.9h12.4v17.6h-12.4zM1303.4 193.3h12.4v17.6h-12.4zM1303.4 285.7h12.4v6.1h-12.4zM1303.4 314.6h12.4v6.1h-12.4zM1303.4 337.7h12.4v11.9h-12.4zM1303.4 383.9h12.4v6.1h-12.4zM1315.6 60.5h12.4v17.6h-12.4zM1315.6 147.1h12.4v17.6h-12.4zM1315.6 193.3h12.4v11.9h-12.4zM1315.6 280.0h12.4v6.1h-12.4zM1315.6 308.8h12.4v11.9h-12.4zM1315.6 331.9h12.4v11.9h-12.4zM1327.7 60.5h12.4v17.6h-12.4zM1327.7 147.1h12.4v11.9h-12.4zM1327.7 187.6h12.4v11.9h-12.4zM1327.7 274.2h12.4v6.1h-12.4zM1327.7 303.1h12.4v11.9h-12.4zM1327.7 331.9h12.4v11.9h-12.4zM1327.7 378.1h12.4v6.1h-12.4zM1339.9 60.5h12.4v11.9h-12.4zM1339.9 141.4h12.4v17.6h-12.4zM1339.9 181.8h12.4v11.9h-12.4zM1339.9 268.4h12.4v11.9h-12.4zM1339.9 303.1h12.4v6.1h-12.4zM1339.9 326.2h12.4v11.9h-12.4zM1339.9 372.4h12.4v6.1h-12.4zM1352.0 60.5h12.4v6.1h-12.4zM1352.0 135.6h12.4v17.6h-12.4zM1352.0 176.0h12.4v11.9h-12.4zM1352.0 268.4h12.4v6.1h-12.4zM1352.0 297.3h12.4v11.9h-12.4zM1352.0 320.4h12.4v17.6h-12.4zM1352.0 372.4h12.4v6.1h-12.4zM1364.2 135.6h12.4v11.9h-12.4zM1364.2 170.2h12.4v17.6h-12.4zM1364.2 262.6h12.4v6.1h-12.4zM1364.2 291.5h12.4v11.9h-12.4zM1364.2 320.4h12.4v11.9h-12.4zM1376.3 129.8h12.4v17.6h-12.4zM1376.3 164.5h12.4v17.6h-12.4zM1376.3 256.9h12.4v6.1h-12.4zM1376.3 285.7h12.4v11.9h-12.4zM1376.3 314.6h12.4v17.6h-12.4zM1376.3 366.6h12.4v6.1h-12.4zM1388.4 124.0h12.4v17.6h-12.4zM1388.4 164.5h12.4v11.9h-12.4zM1388.4 251.1h12.4v11.9h-12.4zM1388.4 280.0h12.4v11.9h-12.4zM1388.4 314.6h12.4v11.9h-12.4zM1388.4 366.6h12.4v6.1h-12.4zM1400.6 124.0h12.4v11.9h-12.4zM1400.6 158.7h12.4v11.9h-12.4zM1400.6 251.1h12.4v6.1h-12.4zM1400.6 274.2h12.4v11.9h-12.4zM1400.6 308.8h12.4v17.6h-12.4zM1400.6 366.6h12.4v6.1h-12.4zM1412.7 118.3h12.4v11.9h-12.4zM1412.7 152.9h12.4v11.9h-12.4zM1412.7 245.3h12.4v6.1h-12.4zM1412.7 268.4h12.4v11.9h-12.4zM1412.7 308.8h12.4v17.6h-12.4zM1424.9 112.5h12.4v11.9h-12.4zM1424.9 147.1h12.4v11.9h-12.4zM1424.9 239.5h12.4v6.1h-12.4zM1424.9 262.6h12.4v11.9h-12.4zM1424.9 308.8h12.4v11.9h-12.4zM1424.9 360.8h12.4v6.1h-12.4zM1437.0 106.7h12.4v17.6h-12.4zM1437.0 141.4h12.4v11.9h-12.4zM1437.0 233.8h12.4v6.1h-12.4zM1437.0 256.9h12.4v11.9h-12.4zM1437.0 303.1h12.4v17.6h-12.4zM1437.0 360.8h12.4v6.1h-12.4zM1449.2 100.9h12.4v17.6h-12.4zM1449.2 135.6h12.4v11.9h-12.4zM1449.2 228.0h12.4v6.1h-12.4zM1449.2 251.1h12.4v6.1h-12.4zM1449.2 303.1h12.4v17.6h-12.4zM1449.2 360.8h12.4v6.1h-12.4zM1461.3 95.2h12.4v17.6h-12.4zM1461.3 129.8h12.4v11.9h-12.4zM1461.3 222.2h12.4v6.1h-12.4zM1461.3 239.5h12.4v11.9h-12.4zM1461.3 303.1h12.4v11.9h-12.4zM1461.3 360.8h12.4v6.1h-12.4zM1473.5 95.2h12.4v11.9h-12.4zM1473.5 124.0h12.4v11.9h-12.4zM1473.5 210.7h12.4v11.9h-12.4zM1473.5 233.8h12.4v11.9h-12.4zM1473.5 297.3h12.4v17.6h-12.4zM1473.5 360.8h12.4v6.1h-12.4zM1485.6 89.4h12.4v11.9h-12.4zM1485.6 118.3h12.4v11.9h-12.4zM1485.6 204.9h12.4v11.9h-12.4zM1485.6 228.0h12.4v6.1h-12.4zM1485.6 297.3h12.4v17.6h-12.4zM1485.6 355.0h12.4v6.1h-12.4zM1497.7 83.6h12.4v11.9h-12.4zM1497.7 112.5h12.4v11.9h-12.4zM1497.7 199.1h12.4v11.9h-12.4zM1497.7 222.2h12.4v6.1h-12.4zM1497.7 297.3h12.4v17.6h-12.4zM1497.7 355.0h12.4v6.1h-12.4zM1509.9 77.8h12.4v17.6h-12.4zM1509.9 106.7h12.4v11.9h-12.4zM1509.9 193.3h12.4v11.9h-12.4zM1509.9 216.4h12.4v11.9h-12.4zM1509.9 297.3h12.4v17.6h-12.4zM1509.9 355.0h12.4v6.1h-12.4zM1522.0 72.1h12.4v17.6h-12.4zM1522.0 100.9h12.4v17.6h-12.4zM1522.0 193.3h12.4v11.9h-12.4zM1522.0 210.7h12.4v11.9h-12.4zM1522.0 297.3h12.4v11.9h-12.4zM1522.0 355.0h12.4v6.1h-12.4zM1534.2 66.3h12.4v17.6h-12.4zM1534.2 95.2h12.4v17.6h-12.4zM1534.2 187.6h12.4v11.9h-12.4zM1534.2 204.9h12.4v11.9h-12.4zM1534.2 297.3h12.4v11.9h-12.4zM1534.2 355.0h12.4v6.1h-12.4zM1546.3 60.5h12.4v17.6h-12.4zM1546.3 89.4h12.4v17.6h-12.4zM1546.3 181.8h12.4v11.9h-12.4zM1546.3 199.1h12.4v11.9h-12.4zM1546.3 291.5h12.4v17.6h-12.4zM1546.3 355.0h12.4v6.1h-12.4zM1558.5 60.5h12.4v17.6h-12.4zM1558.5 83.6h12.4v17.6h-12.4zM1558.5 176.0h12.4v11.9h-12.4zM1558.5 193.3h12.4v11.9h-12.4zM1558.5 291.5h12.4v17.6h-12.4zM1570.6 60.5h12.4v11.9h-12.4zM1570.6 83.6h12.4v11.9h-12.4zM1570.6 170.2h12.4v29.2h-12.4zM1570.6 291.5h12.4v17.6h-12.4zM1570.6 349.3h12.4v6.1h-12.4zM1582.8 77.8h12.4v11.9h-12.4zM1582.8 170.2h12.4v23.4h-12.4zM1582.8 291.5h12.4v17.6h-12.4zM1582.8 349.3h12.4v6.1h-12.4zM1594.9 72.1h12.4v17.6h-12.4zM1594.9 164.5h12.4v29.2h-12.4zM1594.9 291.5h12.4v17.6h-12.4zM1594.9 349.3h12.4v6.1h-12.4zM1607.0 72.1h12.4v11.9h-12.4zM1607.0 158.7h12.4v29.2h-12.4zM1607.0 291.5h12.4v17.6h-12.4zM1607.0 349.3h12.4v6.1h-12.4zM1619.2 66.3h12.4v11.9h-12.4zM1619.2 152.9h12.4v29.2h-12.4zM1619.2 291.5h12.4v17.6h-12.4zM1619.2 349.3h12.4v6.1h-12.4zM1631.3 60.5h12.4v11.9h-12.4zM1631.3 152.9h12.4v23.4h-12.4zM1631.3 291.5h12.4v11.9h-12.4zM1631.3 349.3h12.4v6.1h-12.4zM1643.5 60.5h12.4v11.9h-12.4zM1643.5 147.1h12.4v23.4h-12.4zM1643.5 291.5h12.4v11.9h-12.4zM1643.5 349.3h12.4v6.1h-12.4zM1655.6 60.5h12.4v6.1h-12.4zM1655.6 141.4h12.4v23.4h-12.4zM1655.6 285.7h12.4v17.6h-12.4zM1655.6 349.3h12.4v6.1h-12.4zM1667.8 60.5h12.4v6.1h-12.4zM1667.8 135.6h12.4v29.2h-12.4zM1667.8 285.7h12.4v17.6h-12.4zM1667.8 349.3h12.4v6.1h-12.4zM1679.9 129.8h12.4v29.2h-12.4zM1679.9 285.7h12.4v17.6h-12.4zM1679.9 349.3h12.4v6.1h-12.4zM1692.0 129.8h12.4v23.4h-12.4zM1692.0 285.7h12.4v17.6h-12.4zM1692.0 349.3h12.4v6.1h-12.4zM1704.2 124.0h12.4v23.4h-12.4zM1704.2 285.7h12.4v17.6h-12.4zM1704.2 349.3h12.4v6.1h-12.4zM1716.3 118.3h12.4v23.4h-12.4zM1716.3 285.7h12.4v17.6h-12.4zM1716.3 349.3h12.4v6.1h-12.4zM1728.5 112.5h12.4v23.4h-12.4zM1728.5 285.7h12.4v17.6h-12.4zM1740.6 106.7h12.4v29.2h-12.4zM1740.6 285.7h12.4v17.6h-12.4zM1752.8 106.7h12.4v23.4h-12.4zM1752.8 285.7h12.4v17.6h-12.4zM1752.8 343.5h12.4v6.1h-12.4zM1764.9 100.9h12.4v23.4h-12.4zM1764.9 285.7h12.4v17.6h-12.4zM1764.9 343.5h12.4v6.1h-12.4zM1777.1 95.2h12.4v23.4h-12.4zM1777.1 285.7h12.4v17.6h-12.4zM1777.1 343.5h12.4v6.1h-12.4z"/>
<path fill="#ffe6e6" d="M1182.0 100.9h12.4v17.6h-12.4zM1182.0 204.9h12.4v35.0h-12.4zM1182.0 320.4h12.4v6.1h-12.4zM1182.0 337.7h12.4v6.1h-12.4zM1182.0 395.5h12.4v6.1h-12.4zM1182.0 418.6h12.4v6.1h-12.4zM1194.1 95.2h12.4v17.6h-12.4zM1194.1 199.1h12.4v35.0h-12.4zM1194.1 320.4h12.4v6.1h-12.4zM1194.1 337.7h12.4v6.1h-12.4zM1194.1 389.7h12.4v6.1h-12.4zM1194.1 412.8h12.4v6.1h-12.4zM1206.3 89.4h12.4v23.4h-12.4zM1206.3 199.1h12.4v29.2h-12.4zM1206.3 314.6h12.4v6.1h-12.4zM1206.3 331.9h12.4v6.1h-12.4zM1206.3 383.9h12.4v6.1h-12.4zM1218.4 89.4h12.4v17.6h-12.4zM1218.4 193.3h12.4v35.0h-12.4zM1218.4 314.6h12.4v6.1h-12.4zM1218.4 331.9h12.4v6.1h-12.4zM1218.4 407.0h12.4v6.1h-12.4zM1230.6 83.6h12.4v17.6h-12.4zM1230.6 187.6h12.4v35.0h-12.4zM1230.6 308.8h12.4v11.9h-12.4zM1230.6 326.2h12.4v6.1h-12.4zM1230.6 378.1h12.4v6.1h-12.4zM1242.7 77.8h12.4v17.6h-12.4zM1242.7 187.6h12.4v29.2h-12.4zM1242.7 308.8h12.4v6.1h-12.4zM1242.7 326.2h12.4v6.1h-12.4zM1242.7 372.4h12.4v6.1h-12.4zM1254.9 72.1h12.4v17.6h-12.4zM1254.9 181.8h12.4v35.0h-12.4zM1254.9 303.1h12.4v11.9h-12.4zM1254.9 320.4h12.4v6.1h-12.4zM1254.9 366.6h12.4v6.1h-12.4zM1254.9 395.5h12.4v6.1h-12.4zM1267.0 66.3h12.4v17.6h-12.4zM1267.0 181.8h12.4v29.2h-12.4zM1267.0 303.1h12.4v6.1h-12.4zM1267.0 320.4h12.4v6.1h-12.4zM1267.0 360.8h12.4v6.1h-12.4zM1267.0 389.7h12.4v6.1h-12.4zM1279.2 60.5h12.4v17.6h-12.4zM1279.2 176.0h12.4v29.2h-12.4zM1279.2 297.3h12.4v6.1h-12.4zM1279.2 314.6h12.4v6.1h-12.4zM1291.3 60.5h12.4v11.9h-12.4zM1291.3 170.2h12.4v29.2h-12.4zM1291.3 297.3h12.4v6.1h-12.4zM1291.3 308.8h12.4v6.1h-12.4zM1291.3 355.0h12.4v6.1h-12.4zM1291.3 383.9h12.4v6.1h-12.4zM1303.4 60.5h12.4v6.1h-12.4zM1303.4 170.2h12.4v23.4h-12.4zM1303.4 291.5h12.4v6.1h-12.4zM1303.4 303.1h12.4v11.9h-12.4zM1303.4 349.3h12.4v6.1h-12.4zM1315.6 164.5h12.4v29.2h-12.4zM1315.6 285.7h12.4v6.1h-12.4zM1315.6 303.1h12.4v6.1h-12.4zM1315.6 343.5h12.4v6.1h-12.4zM1315.6 378.1h12.4v6.1h-12.4zM1327.7 158.7h12.4v29.2h-12.4zM1327.7 280.0h12.4v11.9h-12.4zM1327.7 297.3h12.4v6.1h-12.4zM1327.7 343.5h12.4v6.1h-12.4zM1339.9 158.7h12.4v23.4h-12.4zM1339.9 280.0h12.4v6.1h-12.4zM1339.9 291.5h12.4v11.9h-12.4zM1339.9 337.7h12.4v6.1h-12.4zM1352.0 152.9h12.4v23.4h-12.4zM1352.0 274.2h12.4v6.1h-12.4zM1352.0 285.7h12.4v11.9h-12.4zM1364.2 147.1h12.4v23.4h-12.4zM1364.2 268.4h12.4v11.9h-12.4zM1364.2 285.7h12.4v6.1h-12.4zM1364.2 331.9h12.4v6.1h-12.4zM1364.2 366.6h12.4v6.1h-12.4zM1376.3 147.1h12.4v17.6h-12.4zM1376.3 262.6h12.4v11.9h-12.4zM1376.3 280.0h12.4v6.1h-12.4zM1388.4 141.4h12.4v23.4h-12.4zM1388.4 262.6h12.4v17.6h-12.4zM1388.4 326.2h12.4v6.1h-12.4zM1400.6 135.6h12.4v23.4h-12.4zM1400.6 256.9h12.4v17.6h-12.4zM1400.6 326.2h12.4v6.1h-12.4zM1400.6 360.8h12.4v6.1h-12.4zM1412.7 129.8h12.4v23.4h-12.4zM1412.7 251.1h12.4v17.6h-12.4zM1412.7 360.8h12.4v6.1h-12.4zM1424.9 124.0h12.4v23.4h-12.4zM1424.9 245.3h12.4v17.6h-12.4zM1424.9 320.4h12.4v6.1h-12.4zM1437.0 124.0h12.4v17.6h-12.4zM1437.0 239.5h12.4v17.6h-12.4zM1437.0 320.4h12.4v6.1h-12.4zM1449.2 118.3h12.4v17.6h-12.4zM1449.2 233.8h12.4v17.6h-12.4zM1449.2 320.4h12.4v6.1h-12.4zM1461.3 112.5h12.4v17.6h-12.4zM1461.3 228.0h12.4v11.9h-12.4zM1461.3 314.6h12.4v6.1h-12.4zM1461.3 355.0h12.4v6.1h-12.4zM1473.5 106.7h12.4v17.6h-12.4zM1473.5 222.2h12.4v11.9h-12.4zM1473.5 314.6h12.4v6.1h-12.4zM1473.5 355.0h12.4v6.1h-12.4zM1485.6 100.9h12.4v17.6h-12.4zM1485.6 216.4h12.4v11.9h-12.4zM1485.6 314.6h12.4v6.1h-12.4zM1497.7 95.2h12.4v17.6h-12.4zM1497.7 210.7h12.4v11.9h-12.4zM1497.7 314.6h12.4v6.1h-12.4zM1509.9 95.2h12.4v11.9h-12.4zM1509.9 204.9h12.4v11.9h-12.4zM1509.9 314.6h12.4v6.1h-12.4zM1522.0 89.4h12.4v11.9h-12.4zM1522.0 204.9h12.4v6.1h-12.4zM1522.0 308.8h12.4v6.1h-12.4zM1522.0 349.3h12.4v6.1h-12.4zM1534.2 83.6h12.4v11.9h-12.4zM1534.2 199.1h12.4v6.1h-12.4zM1534.2 308.8h12.4v6.1h-12.4zM1534.2 349.3h12.4v6.1h-12.4zM1546.3 77.8h12.4v11.9h-12.4zM1546.3 193.3h12.4v6.1h-12.4zM1546.3 308.8h12.4v6.1h-12.4zM1546.3 349.3h12.4v6.1h-12.4zM1558.5 77.8h12.4v6.1h-12.4zM1558.5 187.6h12.4v6.1h-12.4zM1558.5 308.8h12.4v6.1h-12.4zM1558.5 349.3h12.4v6.1h-12.4zM1570.6 72.1h12.4v11.9h-12.4zM1570.6 308.8h12.4v6.1h-12.4zM1582.8 60.5h12.4v17.6h-12.4zM1582.8 308.8h12.4v6.1h-12.4zM1594.9 60.5h12.4v11.9h-12.4zM1594.9 308.8h12.4v6.1h-12.4zM1607.0 60.5h12.4v11.9h-12.4zM1607.0 308.8h12.4v6.1h-12.4zM1619.2 60.5h12.4v6.1h-12.4zM1619.2 308.8h12.4v6.1h-12.4zM1631.3 303.1h12.4v6.1h-12.4zM1643.5 303.1h12.4v6.1h-12.4zM1643.5 343.5h12.4v6.1h-12.4zM1655.6 303.1h12.4v6.1h-12.4zM1655.6 343.5h12.4v6.1h-12.4zM1667.8 303.1h12.4v6.1h-12.4zM1667.8 343.5h12.4v6.1h-12.4zM1679.9 303.1h12.4v6.1h-12.4zM1679.9 343.5h12.4v6.1h-12.4zM1692.0 303.1h12.4v6.1h-12.4zM1692.0 343.5h12.4v6.1h-12.4zM1704.2 303.1h12.4v6.1h-12.4zM1704.2 343.5h12.4v6.1h-12.4zM1716.3 303.1h12.4v6.1h-12.4zM1716.3 343.5h12.4v6.1h-12.4zM1728.5 303.1h12.4v6.1h-12.4zM1728.5 343.5h12.4v6.1h-12.4zM1740.6 303.1h12.4v6.1h-12.4zM1740.6 343.5h12.4v6.1h-12.4zM1752.8 303.1h12.4v6.1h-12.4zM1764.9 303.1h12.4v6.1h-12.4zM1777.1 303.1h12.4v6.1h-12.4z"/>
<path fill="#ffdede" d="M1182.0 326.2h12.4v11.9h-12.4zM1194.1 326.2h12.4v11.9h-12.4zM1206.3 320.4h12.4v11.9h-12.4zM1206.3 389.7h12.4v6.1h-12.4zM1218.4 320.4h12.4v11.9h-12.4zM1218.4 383.9h12.4v6.1h-12.4zM1230.6 320.4h12.4v6.1h-12.4zM1230.6 401.2h12.4v6.1h-12.4zM1242.7 314.6h12.4v11.9h-12.4zM1254.9 314.6h12.4v6.1h-12.4zM1254.9 372.4h12.4v6.1h-12.4zM1267.0 308.8h12.4v11.9h-12.4zM1267.0 366.6h12.4v6.1h-12.4zM1279.2 303.1h12.4v11.9h-12.4zM1279.2 360.8h12.4v6.1h-12.4zM1291.3 303.1h12.4v6.1h-12.4zM1303.4 297.3h12.4v6.1h-12.4zM1303.4 378.1h12.4v6.1h-12.4zM1315.6 291.5h12.4v11.9h-12.4zM1315.6 349.3h12.4v6.1h-12.4zM1327.7 291.5h12.4v6.1h-12.4zM1327.7 372.4h12.4v6.1h-12.4zM1339.9 285.7h12.4v6.1h-12.4zM1339.9 343.5h12.4v6.1h-12.4zM1352.0 280.0h12.4v6.1h-12.4zM1352.0 337.7h12.4v6.1h-12.4zM1352.0 366.6h12.4v6.1h-12.4zM1364.2 280.0h12.4v6.1h-12.4zM1376.3 274.2h12.4v6.1h-12.4zM1376.3 331.9h12.4v6.1h-12.4zM1376.3 360.8h12.4v6.1h-12.4zM1388.4 331.9h12.4v6.1h-12.4zM1388.4 360.8h12.4v6.1h-12.4zM1412.7 326.2h12.4v6.1h-12.4zM1424.9 326.2h12.4v6.1h-12.4zM1437.0 326.2h12.4v6.1h-12.4zM1437.0 355.0h12.4v6.1h-12.4zM1449.2 355.0h12.4v6.1h-12.4zM1461.3 320.4h12.4v6.1h-12.4zM1473.5 320.4h12.4v6.1h-12.4zM1485.6 320.4h12.4v6.1h-12.4zM1497.7 349.3h12.4v6.1h-12.4zM1509.9 349.3h12.4v6.1h-12.4zM1522.0 314.6h12.4v6.1h-12.4zM1534.2 314.6h12.4v6.1h-12.4zM1546.3 314.6h12.4v6.1h-12.4zM1558.5 314.6h12.4v6.1h-12.4zM1570.6 314.6h12.4v6.1h-12.4zM1594.9 343.5h12.4v6.1h-12.4zM1607.0 343.5h12.4v6.1h-12.4zM1619.2 343.5h12.4v6.1h-12.4zM1631.3 308.8h12.4v6.1h-12.4zM1631.3 343.5h12.4v6.1h-12.4zM1643.5 308.8h12.4v6.1h-12.4zM1655.6 308.8h12.4v6.1h-12.4zM1667.8 308.8h12.4v6.1h-12.4zM1679.9 308.8h12.4v6.1h-12.4zM1692.0 308.8h12.4v6.1h-12.4zM1704.2 308.8h12.4v6.1h-12.4zM1716.3 308.8h12.4v6.1h-12.4zM1728.5 308.8h12.4v6.1h-12.4zM1777.1 337.7h12.4v6.1h-12.4z"/>
<path fill="#ffd6d6" d="M1194.1 395.5h12.4v6.1h-12.4zM1206.3 407.0h12.4v6.1h-12.4zM1242.7 378.1h12.4v6.1h-12.4zM1242.7 395.5h12.4v6.1h-12.4zM1279.2 383.9h12.4v6.1h-12.4zM1303.4 355.0h12.4v6.1h-12.4zM1327.7 349.3h12.4v6.1h-12.4zM1364.2 337.7h12.4v6.1h-12.4zM1400.6 331.9h12.4v6.1h-12.4zM1424.9 355.0h12.4v6.1h-12.4zM1449.2 326.2h12.4v6.1h-12.4zM1485.6 349.3h12.4v6.1h-12.4zM1497.7 320.4h12.4v6.1h-12.4zM1509.9 320.4h12.4v6.1h-12.4zM1558.5 343.5h12.4v6.1h-12.4zM1570.6 343.5h12.4v6.1h-12.4zM1582.8 314.6h12.4v6.1h-12.4zM1582.8 343.5h12.4v6.1h-12.4zM1594.9 314.6h12.4v6.1h-12.4zM1607.0 314.6h12.4v6.1h-12.4zM1619.2 314.6h12.4v6.1h-12.4zM1716.3 337.7h12.4v6.1h-12.4zM1728.5 337.7h12.4v6.1h-12.4zM1740.6 308.8h12.4v6.1h-12.4zM1740.6 337.7h12.4v6.1h-12.4zM1752.8 308.8h12.4v6.1h-12.4zM1752.8 337.7h12.4v6.1h-12.4zM1764.9 308.8h12.4v6.1h-12.4zM1764.9 337.7h12.4v6.1h-12.4zM1777.1 308.8h12.4v6.1h-12.4z"/>
<path fill="#ffcece" d="M1182.0 401.2h12.4v6.1h-12.4zM1218.4 401.2h12.4v6.1h-12.4zM1230.6 383.9h12.4v6.1h-12.4zM1291.3 360.8h12.4v6.1h-12.4zM1291.3 378.1h12.4v6.1h-12.4zM1315.6 372.4h12.4v6.1h-12.4zM1339.9 366.6h12.4v6.1h-12.4zM1352.0 343.5h12.4v6.1h-12.4zM1364.2 360.8h12.4v6.1h-12.4zM1376.3 337.7h12.4v6.1h-12.4zM1412.7 331.9h12.4v6.1h-12.4zM1412.7 355.0h12.4v6.1h-12.4zM1461.3 326.2h12.4v6.1h-12.4zM1473.5 349.3h12.4v6.1h-12.4zM1522.0 320.4h12.4v6.1h-12.4zM1534.2 320.4h12.4v6.1h-12.4zM1534.2 343.5h12.4v6.1h-12.4zM1546.3 343.5h12.4v6.1h-12.4zM1631.3 314.6h12.4v6.1h-12.4zM1643.5 314.6h12.4v6.1h-12.4zM1655.6 314.6h12.4v6.1h-12.4zM1679.9 337.7h12.4v6.1h-12.4zM1692.0 337.7h12.4v6.1h-12.4zM1704.2 337.7h12.4v6.1h-12.4z"/>
<path fill="#ffc5c5" d="M1182.0 412.8h12.4v6.1h-12.4zM1218.4 389.7h12.4v6.1h-12.4zM1254.9 389.7h12.4v6.1h-12.4zM1279.2 366.6h12.4v6.1h-12.4zM1315.6 355.0h12.4v6.1h-12.4zM1400.6 355.0h12.4v6.1h-12.4zM1424.9 331.9h12.4v6.1h-12.4zM1461.3 349.3h12.4v6.1h-12.4zM1473.5 326.2h12.4v6.1h-12.4zM1522.0 343.5h12.4v6.1h-12.4zM1546.3 320.4h12.4v6.1h-12.4zM1643.5 337.7h12.4v6.1h-12.4zM1655.6 337.7h12.4v6.1h-12.4zM1667.8 314.6h12.4v6.1h-12.4zM1667.8 337.7h12.4v6.1h-12.4zM1679.9 314.6h12.4v6.1h-12.4zM1692.0 314.6h12.4v6.1h-12.4zM1704.2 314.6h12.4v6.1h-12.4z"/>
<path fill="#ffbdbd" d="M1267.0 372.4h12.4v6.1h-12.4zM1388.4 337.7h12.4v6.1h-12.4zM1388.4 355.0h12.4v6.1h-12.4zM1437.0 331.9h12.4v6.1h-12.4zM1485.6 326.2h12.4v6.1h-12.4zM1558.5 320.4h12.4v6.1h-12.4zM1570.6 320.4h12.4v6.1h-12.4zM1631.3 337.7h12.4v6.1h-12.4zM1716.3 314.6h12.4v6.1h-12.4zM1728.5 314.6h12.4v6.1h-12.4zM1740.6 314.6h12.4v6.1h-12.4z"/>
<path fill="#ffb5b5" d="M1194.1 407.0h12.4v6.1h-12.4zM1206.3 395.5h12.4v6.1h-12.4zM1230.6 395.5h12.4v6.1h-12.4zM1254.9 378.1h12.4v6.1h-12.4zM1267.0 383.9h12.4v6.1h-12.4zM1327.7 366.6h12.4v6.1h-12.4zM1339.9 349.3h12.4v6.1h-12.4zM1352.0 360.8h12.4v6.1h-12.4zM1364.2 343.5h12.4v6.1h-12.4zM1449.2 349.3h12.4v6.1h-12.4zM1497.7 326.2h12.4v6.1h-12.4zM1509.9 343.5h12.4v6.1h-12.4zM1582.8 320.4h12.4v6.1h-12.4zM1594.9 320.4h12.4v6.1h-12.4zM1607.0 337.7h12.4v6.1h-12.4zM1619.2 337.7h12.4v6.1h-12.4zM1752.8 314.6h12.4v6.1h-12.4zM1764.9 314.6h12.4v6.1h-12.4zM1777.1 314.6h12.4v6.1h-12.4z"/>
<path fill="#ffadad" d="M1194.1 401.2h12.4v6.1h-12.4zM1206.3 401.2h12.4v6.1h-12.4zM1242.7 383.9h12.4v6.1h-12.4zM1303.4 360.8h12.4v6.1h-12.4zM1303.4 372.4h12.4v6.1h-12.4zM1400.6 337.7h12.4v6.1h-12.4zM1437.0 349.3h12.4v6.1h-12.4zM1449.2 331.9h12.4v6.1h-12.4zM1497.7 343.5h12.4v6.1h-12.4zM1509.9 326.2h12.4v6.1h-12.4zM1594.9 337.7h12.4v6.1h-12.4zM1607.0 320.4h12.4v6.1h-12.4z"/>
<path fill="#ffa5a5" d="M1182.0 407.0h12.4v6.1h-12.4zM1376.3 355.0h12.4v6.1h-12.4zM1582.8 337.7h12.4v6.1h-12.4zM1619.2 320.4h12.4v6.1h-12.4zM1764.9 331.9h12.4v6.1h-12.4zM1777.1 331.9h12.4v6.1h-12.4z"/>
<path fill="#ff9c9c" d="M1230.6 389.7h12.4v6.1h-12.4zM1242.7 389.7h12.4v6.1h-12.4zM1279.2 378.1h12.4v6.1h-12.4zM1327.7 355.0h12.4v6.1h-12.4zM1424.9 349.3h12.4v6.1h-12.4zM1461.3 331.9h12.4v6.1h-12.4zM1485.6 343.5h12.4v6.1h-12.4zM1522.0 326.2h12.4v6.1h-12.4zM1570.6 337.7h12.4v6.1h-12.4zM1631.3 320.4h12.4v6.1h-12.4zM1752.8 331.9h12.4v6.1h-12.4z"/>
<path fill="#ff9494" d="M1218.4 395.5h12.4v6.1h-12.4zM1291.3 366.6h12.4v6.1h-12.4zM1412.7 337.7h12.4v6.1h-12.4zM1643.5 320.4h12.4v6.1h-12.4zM1728.5 331.9h12.4v6.1h-12.4zM1740.6 331.9h12.4v6.1h-12.4z"/>
<path fill="#ff8c8c" d="M1254.9 383.9h12.4v6.1h-12.4zM1534.2 326.2h12.4v6.1h-12.4zM1558.5 337.7h12.4v6.1h-12.4zM1655.6 320.4h12.4v6.1h-12.4zM1716.3 331.9h12.4v6.1h-12.4z"/>
<path fill="#ff8484" d="M1279.2 372.4h12.4v6.1h-12.4zM1339.9 360.8h12.4v6.1h-12.4zM1352.0 349.3h12.4v6.1h-12.4zM1376.3 343.5h12.4v6.1h-12.4zM1412.7 349.3h12.4v6.1h-12.4zM1546.3 337.7h12.4v6.1h-12.4zM1667.8 320.4h12.4v6.1h-12.4zM1679.9 320.4h12.4v6.1h-12.4zM1704.2 331.9h12.4v6.1h-12.4z"/>
<path fill="#ff7b7b" d="M1267.0 378.1h12.4v6.1h-12.4zM1291.3 372.4h12.4v6.1h-12.4zM1315.6 366.6h12.4v6.1h-12.4zM1473.5 331.9h12.4v6.1h-12.4zM1473.5 343.5h12.4v6.1h-12.4zM1692.0 320.4h12.4v6.1h-12.4zM1692.0 331.9h12.4v6.1h-12.4z"/>
<path fill="#ff7373" d="M1315.6 360.8h12.4v6.1h-12.4zM1364.2 355.0h12.4v6.1h-12.4zM1424.9 337.7h12.4v6.1h-12.4zM1546.3 326.2h12.4v6.1h-12.4zM1679.9 331.9h12.4v6.1h-12.4zM1704.2 320.4h12.4v6.1h-12.4z"/>
<path fill="#ff6b6b" d="M1534.2 337.7h12.4v6.1h-12.4z"/>
<path fill="#ff6363" d="M1558.5 326.2h12.4v6.1h-12.4zM1667.8 331.9h12.4v6.1h-12.4zM1716.3 320.4h12.4v6.1h-12.4z"/>
<path fill="#ff5a5a" d="M1303.4 366.6h12.4v6.1h-12.4zM1327.7 360.8h12.4v6.1h-12.4zM1339.9 355.0h12.4v6.1h-12.4zM1388.4 343.5h12.4v6.1h-12.4zM1400.6 349.3h12.4v6.1h-12.4zM1485.6 331.9h12.4v6.1h-12.4zM1655.6 331.9h12.4v6.1h-12.4zM1728.5 320.4h12.4v6.1h-12.4z"/>
<path fill="#ff5252" d="M1461.3 343.5h12.4v6.1h-12.4zM1570.6 326.2h12.4v6.1h-12.4zM1740.6 320.4h12.4v6.1h-12.4z"/>
<path fill="#ff4a4a" d="M1352.0 355.0h12.4v6.1h-12.4zM1437.0 337.7h12.4v6.1h-12.4zM1522.0 337.7h12.4v6.1h-12.4zM1643.5 331.9h12.4v6.1h-12.4z"/>
<path fill="#ff4242" d="M1364.2 349.3h12.4v6.1h-12.4zM1582.8 326.2h12.4v6.1h-12.4zM1752.8 320.4h12.4v6.1h-12.4z"/>
<path fill="#ff3a3a" d="M1388.4 349.3h12.4v6.1h-12.4zM1764.9 320.4h12.4v6.1h-12.4z"/>
<path fill="#ff3131" d="M1497.7 331.9h12.4v6.1h-12.4zM1631.3 331.9h12.4v6.1h-12.4z"/>
<path fill="#ff2929" d="M1376.3 349.3h12.4v6.1h-12.4zM1400.6 343.5h12.4v6.1h-12.4zM1449.2 343.5h12.4v6.1h-12.4zM1594.9 326.2h12.4v6.1h-12.4zM1777.1 320.4h12.4v6.1h-12.4z"/>
<path fill="#ff2121" d="M1509.9 337.7h12.4v6.1h-12.4zM1619.2 331.9h12.4v6.1h-12.4z"/>
<path fill="#ff1919" d="M1449.2 337.7h12.4v6.1h-12.4zM1607.0 326.2h12.4v6.1h-12.4z"/>
<path fill="#ff0808" d="M1437.0 343.5h12.4v6.1h-12.4zM1509.9 331.9h12.4v6.1h-12.4zM1607.0 331.9h12.4v6.1h-12.4z"/>
<path fill="#ff0000" d="M1412.7 343.5h12.4v6.1h-12.4zM1424.9 343.5h12.4v6.1h-12.4zM1461.3 337.7h12.4v6.1h-12.4zM1473.5 337.7h12.4v6.1h-12.4zM1485.6 337.7h12.4v6.1h-12.4zM1497.7 337.7h12.4v6.1h-12.4zM1522.0 331.9h12.4v6.1h-12.4zM1534.2 331.9h12.4v6.1h-12.4zM1546.3 331.9h12.4v6.1h-12.4zM1558.5 331.9h12.4v6.1h-12.4zM1570.6 331.9h12.4v6.1h-12.4zM1582.8 331.9h12.4v6.1h-12.4zM1594.9 331.9h12.4v6.1h-12.4zM1619.2 326.2h12.4v6.1h-12.4zM1631.3 326.2h12.4v6.1h-12.4zM1643.5 326.2h12.4v6.1h-12.4zM1655.6 326.2h12.4v6.1h-12.4zM1667.8 326.2h12.4v6.1h-12.4zM1679.9 326.2h12.4v6.1h-12.4zM1692.0 326.2h12.4v6.1h-12.4zM1704.2 326.2h12.4v6.1h-12.4zM1716.3 326.2h12.4v6.1h-12.4zM1728.5 326.2h12.4v6.1h-12.4zM1740.6 326.2h12.4v6.1h-12.4zM1752.8 326.2h12.4v6.1h-12.4zM1764.9 326.2h12.4v6.1h-12.4zM1777.1 326.2h12.4v6.1h-12.4z"/>
</g>
<g shape-rendering="crispEdges">
<rect x="1808.00" y="74.60" width="47.00" height="17.92" fill="#ff0000"/>
<rect x="1808.00" y="91.92" width="47.00" height="17.92" fill="#ff0808"/>
<rect x="1808.00" y="109.24" width="47.00" height="17.92" fill="#ff1010"/>
<rect x="1808.00" y="126.57" width="47.00" height="17.92" fill="#ff1919"/>
<rect x="1808.00" y="143.89" width="47.00" height="17.92" fill="#ff2121"/>
<rect x="1808.00" y="161.21" width="47.00" height="17.92" fill="#ff2929"/>
<rect x="1808.00" y="178.53" width="47.00" height="17.92" fill="#ff3131"/>
<rect x="1808.00" y="195.85" width="47.00" height="17.92" fill="#ff3a3a"/>
<rect x="1808.00" y="213.17" width="47.00" height="17.92" fill="#ff4242"/>
<rect x="1808.00" y="230.50" width="47.00" height="17.92" fill="#ff4a4a"/>
<rect x="1808.00" y="247.82" width="47.00" height="17.92" fill="#ff5252"/>
<rect x="1808.00" y="265.14" width="47.00" height="17.92" fill="#ff5a5a"/>
<rect x="1808.00" y="282.46" width="47.00" height="17.92" fill="#ff6363"/>
<rect x="1808.00" y="299.78" width="47.00" height="17.92" fill="#ff6b6b"/>
<rect x="1808.00" y="317.11" width="47.00" height="17.92" fill="#ff7373"/>
<rect x="1808.00" y="334.43" width="47.00" height="17.92" fill="#ff7b7b"/>
<rect x="1808.00" y="351.75" width="47.00" height="17.92" fill="#ff8484"/>
<rect x="1808.00" y="369.07" width="47.00" height="17.92" fill="#ff8c8c"/>
<rect x="1808.00" y="386.39" width="47.00" height="17.92" fill="#ff9494"/>
<rect x="1808.00" y="403.72" width="47.00" height="17.92" fill="#ff9c9c"/>
<rect x="1808.00" y="421.04" width="47.00" height="17.92" fill="#ffa5a5"/>
<rect x="1808.00" y="438.36" width="47.00" height="17.92" fill="#ffadad"/>
<rect x="1808.00" y="455.68" width="47.00" height="17.92" fill="#ffb5b5"/>
<rect x="1808.00" y="473.00" width="47.00" height="17.92" fill="#ffbdbd"/>
<rect x="1808.00" y="490.32" width="47.00" height="17.92" fill="#ffc5c5"/>
<rect x="1808.00" y="507.65" width="47.00" height="17.92" fill="#ffcece"/>
<rect x="1808.00" y="524.97" width="47.00" height="17.92" fill="#ffd6d6"/>
<rect x="1808.00" y="542.29" width="47.00" height="17.92" fill="#ffdede"/>
<rect x="1808.00" y="559.61" width="47.00" height="17.92" fill="#ffe6e6"/>
<rect x="1808.00" y="576.93" width="47.00" height="17.92" fill="#ffefef"/>
<rect x="1808.00" y="594.26" width="47.00" height="17.92" fill="#fff7f7"/>
<rect x="1808.00" y="611.58" width="47.00" height="17.92" fill="#ffffff"/>
</g>
<rect x="1808.00" y="74.60" width="47.00" height="554.30" fill="none" stroke="#000" stroke-width="1.3"/>
<line x1="1855.00" y1="74.60" x2="1865.50" y2="74.60" stroke="#000" stroke-width="1.3"/>
<line x1="1855.00" y1="351.75" x2="1865.50" y2="351.75" stroke="#000" stroke-width="1.3"/>
<line x1="1855.00" y1="628.90" x2="1865.50" y2="628.90" stroke="#000" stroke-width="1.3"/>
<text x="1880.58" y="87.83" font-size="38.50">22.50</text>
<text x="1879.61" y="364.98" font-size="38.50">11.95</text>
<text x="1879.61" y="642.13" font-size="38.50">1.400</text>
<rect x="1182.00" y="60.50" width="607.20" height="583.30" fill="none" stroke="#000" stroke-width="2.3"/>
<line x1="1171.00" y1="64.00" x2="1182.00" y2="64.00" stroke="#000" stroke-width="2"/>
<text x="1098.56" y="75.26" font-size="38.00">800</text>
<line x1="1171.00" y1="179.46" x2="1182.00" y2="179.46" stroke="#000" stroke-width="2"/>
<text x="1098.56" y="190.72" font-size="38.00">780</text>
<line x1="1171.00" y1="294.92" x2="1182.00" y2="294.92" stroke="#000" stroke-width="2"/>
<text x="1098.56" y="306.18" font-size="38.00">760</text>
<line x1="1171.00" y1="410.38" x2="1182.00" y2="410.38" stroke="#000" stroke-width="2"/>
<text x="1098.56" y="421.64" font-size="38.00">740</text>
<line x1="1171.00" y1="525.84" x2="1182.00" y2="525.84" stroke="#000" stroke-width="2"/>
<text x="1098.56" y="537.10" font-size="38.00">720</text>
<line x1="1171.00" y1="641.30" x2="1182.00" y2="641.30" stroke="#000" stroke-width="2"/>
<text x="1098.56" y="652.56" font-size="38.00">700</text>
<line x1="1187.70" y1="643.80" x2="1187.70" y2="654.80" stroke="#000" stroke-width="2"/>
<text x="1152.64" y="691.24" font-size="36.00">0.60</text>
<line x1="1336.58" y1="643.80" x2="1336.58" y2="654.80" stroke="#000" stroke-width="2"/>
<text x="1301.61" y="691.24" font-size="36.00">0.63</text>
<line x1="1485.45" y1="643.80" x2="1485.45" y2="654.80" stroke="#000" stroke-width="2"/>
<text x="1450.49" y="691.24" font-size="36.00">0.66</text>
<line x1="1634.32" y1="643.80" x2="1634.32" y2="654.80" stroke="#000" stroke-width="2"/>
<text x="1599.40" y="691.24" font-size="36.00">0.69</text>
<line x1="1783.20" y1="643.80" x2="1783.20" y2="654.80" stroke="#000" stroke-width="2"/>
<text x="1748.37" y="691.24" font-size="36.00">0.72</text>
<text x="1751.72" y="29.00" font-size="38.60">Purcell factor</text>
<text x="1396.63" y="755.20" font-size="38.40">Duty cycle</text>
<text x="0" y="0" font-size="38.50" transform="translate(1066.00 497.19) rotate(-90)">Wavelength (nm)</text>
<text x="1030.85" y="80.00" font-size="48.50" letter-spacing="3">b)</text>
<g shape-rendering="crispEdges">
<path fill="#d6d6ff" d="M466.9 1455.8h12.7v11.8h-12.7zM479.2 1450.0h12.7v17.6h-12.7zM491.6 1450.0h12.7v17.6h-12.7zM504.0 1450.0h12.7v17.6h-12.7zM516.4 1444.3h12.7v23.3h-12.7zM528.7 1444.3h12.7v23.3h-12.7zM541.1 1438.5h12.7v29.1h-12.7zM553.5 1438.5h12.7v29.1h-12.7zM565.8 1438.5h12.7v29.1h-12.7zM578.2 1438.5h12.7v29.1h-12.7zM590.6 1438.5h12.7v29.1h-12.7zM603.0 1438.5h12.7v29.1h-12.7zM615.3 1438.5h12.7v29.1h-12.7zM627.7 1438.5h12.7v29.1h-12.7zM640.1 1438.5h12.7v29.1h-12.7zM652.5 1438.5h12.7v29.1h-12.7zM664.8 1438.5h12.7v29.1h-12.7z"/>
<path fill="#ceceff" d="M429.8 1461.5h12.7v6.1h-12.7zM442.1 1450.0h12.7v17.6h-12.7zM454.5 1444.3h12.7v23.3h-12.7zM466.9 1438.5h12.7v17.6h-12.7zM479.2 1438.5h12.7v11.8h-12.7zM491.6 1432.8h12.7v17.6h-12.7zM504.0 1427.0h12.7v23.3h-12.7zM516.4 1421.3h12.7v23.3h-12.7zM528.7 1415.5h12.7v29.1h-12.7zM541.1 1409.8h12.7v29.1h-12.7zM553.5 1409.8h12.7v29.1h-12.7zM565.8 1409.8h12.7v29.1h-12.7zM578.2 1409.8h12.7v29.1h-12.7zM590.6 1409.8h12.7v29.1h-12.7zM603.0 1409.8h12.7v29.1h-12.7zM615.3 1409.8h12.7v29.1h-12.7zM627.7 1409.8h12.7v29.1h-12.7zM640.1 1404.0h12.7v34.8h-12.7zM652.5 1404.0h12.7v34.8h-12.7zM664.8 1404.0h12.7v34.8h-12.7zM677.2 1404.0h12.7v63.6h-12.7zM689.6 1404.0h12.7v63.6h-12.7zM701.9 1404.0h12.7v63.6h-12.7zM714.3 1404.0h12.7v57.8h-12.7zM726.7 1404.0h12.7v52.1h-12.7zM739.1 1398.3h12.7v57.8h-12.7zM751.4 1398.3h12.7v52.1h-12.7z"/>
<path fill="#c5c5ff" d="M392.6 1461.5h12.7v6.1h-12.7zM405.0 1455.8h12.7v11.8h-12.7zM417.4 1450.0h12.7v17.6h-12.7zM429.8 1444.3h12.7v17.6h-12.7zM442.1 1438.5h12.7v11.8h-12.7zM454.5 1432.8h12.7v11.8h-12.7zM466.9 1427.0h12.7v11.8h-12.7zM479.2 1421.3h12.7v17.6h-12.7zM491.6 1415.5h12.7v17.6h-12.7zM504.0 1409.8h12.7v17.6h-12.7zM516.4 1404.0h12.7v17.6h-12.7zM528.7 1404.0h12.7v11.8h-12.7zM541.1 1404.0h12.7v6.1h-12.7zM553.5 1404.0h12.7v6.1h-12.7zM565.8 1404.0h12.7v6.1h-12.7zM578.2 909.5h12.7v11.8h-12.7zM578.2 1404.0h12.7v6.1h-12.7zM590.6 909.5h12.7v11.8h-12.7zM590.6 1404.0h12.7v6.1h-12.7zM603.0 909.5h12.7v11.8h-12.7zM603.0 1398.3h12.7v11.8h-12.7zM615.3 909.5h12.7v11.8h-12.7zM615.3 1398.3h12.7v11.8h-12.7zM627.7 903.8h12.7v17.6h-12.7zM627.7 1398.3h12.7v11.8h-12.7zM640.1 903.8h12.7v11.8h-12.7zM640.1 1398.3h12.7v6.1h-12.7zM652.5 903.8h12.7v11.8h-12.7zM652.5 1392.5h12.7v11.8h-12.7zM664.8 898.0h12.7v17.6h-12.7zM664.8 1392.5h12.7v11.8h-12.7zM677.2 898.0h12.7v17.6h-12.7zM677.2 1392.5h12.7v11.8h-12.7zM689.6 898.0h12.7v17.6h-12.7zM689.6 1392.5h12.7v11.8h-12.7zM701.9 898.0h12.7v17.6h-12.7zM701.9 1392.5h12.7v11.8h-12.7zM714.3 892.3h12.7v23.3h-12.7zM714.3 1386.8h12.7v17.6h-12.7zM714.3 1461.5h12.7v6.1h-12.7zM726.7 892.3h12.7v23.3h-12.7zM726.7 1386.8h12.7v17.6h-12.7zM726.7 1455.8h12.7v11.8h-12.7zM739.1 886.5h12.7v29.1h-12.7zM739.1 1386.8h12.7v11.8h-12.7zM739.1 1455.8h12.7v11.8h-12.7zM751.4 886.5h12.7v29.1h-12.7zM751.4 1386.8h12.7v11.8h-12.7zM751.4 1450.0h12.7v17.6h-12.7z"/>
<path fill="#bdbdff" d="M145.2 932.5h12.7v6.1h-12.7zM157.6 932.5h12.7v6.1h-12.7zM169.9 932.5h12.7v6.1h-12.7zM182.3 932.5h12.7v6.1h-12.7zM194.7 932.5h12.7v6.1h-12.7zM207.1 932.5h12.7v6.1h-12.7zM219.4 932.5h12.7v6.1h-12.7zM231.8 932.5h12.7v6.1h-12.7zM244.2 932.5h12.7v6.1h-12.7zM256.5 932.5h12.7v6.1h-12.7zM268.9 926.8h12.7v11.8h-12.7zM281.3 926.8h12.7v11.8h-12.7zM293.7 926.8h12.7v11.8h-12.7zM306.0 926.8h12.7v11.8h-12.7zM318.4 926.8h12.7v11.8h-12.7zM330.8 926.8h12.7v11.8h-12.7zM343.2 921.0h12.7v11.8h-12.7zM355.5 921.0h12.7v11.8h-12.7zM367.9 921.0h12.7v11.8h-12.7zM367.9 1461.5h12.7v6.1h-12.7zM380.3 921.0h12.7v11.8h-12.7zM380.3 1455.8h12.7v11.8h-12.7zM392.6 915.3h12.7v17.6h-12.7zM392.6 1450.0h12.7v11.8h-12.7zM405.0 915.3h12.7v17.6h-12.7zM405.0 1444.3h12.7v11.8h-12.7zM417.4 915.3h12.7v17.6h-12.7zM417.4 1438.5h12.7v11.8h-12.7zM429.8 915.3h12.7v11.8h-12.7zM429.8 1432.8h12.7v11.8h-12.7zM442.1 909.5h12.7v17.6h-12.7zM442.1 1427.0h12.7v11.8h-12.7zM454.5 909.5h12.7v17.6h-12.7zM454.5 1421.3h12.7v11.8h-12.7zM466.9 909.5h12.7v17.6h-12.7zM466.9 1415.5h12.7v11.8h-12.7zM479.2 909.5h12.7v17.6h-12.7zM479.2 1409.8h12.7v11.8h-12.7zM491.6 909.5h12.7v17.6h-12.7zM491.6 1404.0h12.7v11.8h-12.7zM504.0 909.5h12.7v17.6h-12.7zM504.0 1398.3h12.7v11.8h-12.7zM516.4 903.8h12.7v23.3h-12.7zM516.4 1398.3h12.7v6.1h-12.7zM528.7 903.8h12.7v23.3h-12.7zM528.7 1392.5h12.7v11.8h-12.7zM541.1 903.8h12.7v23.3h-12.7zM541.1 1392.5h12.7v11.8h-12.7zM553.5 903.8h12.7v23.3h-12.7zM553.5 1392.5h12.7v11.8h-12.7zM565.8 903.8h12.7v23.3h-12.7zM565.8 1392.5h12.7v11.8h-12.7zM578.2 903.8h12.7v6.1h-12.7zM578.2 921.0h12.7v6.1h-12.7zM578.2 1392.5h12.7v11.8h-12.7zM590.6 903.8h12.7v6.1h-12.7zM590.6 921.0h12.7v6.1h-12.7zM590.6 1392.5h12.7v11.8h-12.7zM603.0 898.0h12.7v11.8h-12.7zM603.0 921.0h12.7v6.1h-12.7zM603.0 1386.8h12.7v11.8h-12.7zM615.3 898.0h12.7v11.8h-12.7zM615.3 921.0h12.7v6.1h-12.7zM615.3 1386.8h12.7v11.8h-12.7zM627.7 898.0h12.7v6.1h-12.7zM627.7 921.0h12.7v6.1h-12.7zM627.7 1386.8h12.7v11.8h-12.7zM640.1 892.3h12.7v11.8h-12.7zM640.1 915.3h12.7v11.8h-12.7zM640.1 1386.8h12.7v11.8h-12.7zM652.5 892.3h12.7v11.8h-12.7zM652.5 915.3h12.7v11.8h-12.7zM652.5 1381.0h12.7v11.8h-12.7zM664.8 892.3h12.7v6.1h-12.7zM664.8 915.3h12.7v11.8h-12.7zM664.8 1381.0h12.7v11.8h-12.7zM677.2 892.3h12.7v6.1h-12.7zM677.2 915.3h12.7v11.8h-12.7zM677.2 1381.0h12.7v11.8h-12.7zM689.6 886.5h12.7v11.8h-12.7zM689.6 915.3h12.7v11.8h-12.7zM689.6 1381.0h12.7v11.8h-12.7zM701.9 886.5h12.7v11.8h-12.7zM701.9 915.3h12.7v11.8h-12.7zM701.9 1381.0h12.7v11.8h-12.7zM714.3 886.5h12.7v6.1h-12.7zM714.3 915.3h12.7v11.8h-12.7zM714.3 1375.3h12.7v11.8h-12.7zM726.7 886.5h12.7v6.1h-12.7zM726.7 915.3h12.7v11.8h-12.7zM726.7 1375.3h12.7v11.8h-12.7zM739.1 915.3h12.7v11.8h-12.7zM739.1 1375.3h12.7v11.8h-12.7zM751.4 915.3h12.7v11.8h-12.7zM751.4 1375.3h12.7v11.8h-12.7z"/>
<path fill="#b5b5ff" d="M145.2 921.0h12.7v11.8h-12.7zM145.2 938.3h12.7v11.8h-12.7zM157.6 921.0h12.7v11.8h-12.7zM157.6 938.3h12.7v11.8h-12.7zM169.9 921.0h12.7v11.8h-12.7zM169.9 938.3h12.7v11.8h-12.7zM182.3 921.0h12.7v11.8h-12.7zM182.3 938.3h12.7v11.8h-12.7zM194.7 921.0h12.7v11.8h-12.7zM194.7 938.3h12.7v11.8h-12.7zM207.1 921.0h12.7v11.8h-12.7zM207.1 938.3h12.7v11.8h-12.7zM219.4 921.0h12.7v11.8h-12.7zM219.4 938.3h12.7v11.8h-12.7zM219.4 1461.5h12.7v6.1h-12.7zM231.8 926.8h12.7v6.1h-12.7zM231.8 938.3h12.7v11.8h-12.7zM231.8 1455.8h12.7v11.8h-12.7zM244.2 921.0h12.7v11.8h-12.7zM244.2 938.3h12.7v11.8h-12.7zM244.2 1455.8h12.7v11.8h-12.7zM256.5 921.0h12.7v11.8h-12.7zM256.5 938.3h12.7v11.8h-12.7zM256.5 1455.8h12.7v11.8h-12.7zM268.9 921.0h12.7v6.1h-12.7zM268.9 938.3h12.7v11.8h-12.7zM268.9 1461.5h12.7v6.1h-12.7zM281.3 915.3h12.7v11.8h-12.7zM281.3 938.3h12.7v11.8h-12.7zM281.3 1461.5h12.7v6.1h-12.7zM293.7 915.3h12.7v11.8h-12.7zM293.7 938.3h12.7v11.8h-12.7zM293.7 1461.5h12.7v6.1h-12.7zM306.0 915.3h12.7v11.8h-12.7zM306.0 938.3h12.7v11.8h-12.7zM306.0 1461.5h12.7v6.1h-12.7zM318.4 915.3h12.7v11.8h-12.7zM318.4 938.3h12.7v11.8h-12.7zM318.4 1461.5h12.7v6.1h-12.7zM330.8 915.3h12.7v11.8h-12.7zM330.8 938.3h12.7v11.8h-12.7zM330.8 1461.5h12.7v6.1h-12.7zM343.2 909.5h12.7v11.8h-12.7zM343.2 932.5h12.7v11.8h-12.7zM343.2 1455.8h12.7v11.8h-12.7zM355.5 909.5h12.7v11.8h-12.7zM355.5 932.5h12.7v11.8h-12.7zM355.5 1455.8h12.7v11.8h-12.7zM367.9 909.5h12.7v11.8h-12.7zM367.9 932.5h12.7v11.8h-12.7zM367.9 1450.0h12.7v11.8h-12.7zM380.3 909.5h12.7v11.8h-12.7zM380.3 932.5h12.7v11.8h-12.7zM380.3 1444.3h12.7v11.8h-12.7zM392.6 903.8h12.7v11.8h-12.7zM392.6 932.5h12.7v11.8h-12.7zM392.6 1438.5h12.7v11.8h-12.7zM405.0 903.8h12.7v11.8h-12.7zM405.0 932.5h12.7v11.8h-12.7zM405.0 1432.8h12.7v11.8h-12.7zM417.4 903.8h12.7v11.8h-12.7zM417.4 932.5h12.7v11.8h-12.7zM417.4 1427.0h12.7v11.8h-12.7zM429.8 903.8h12.7v11.8h-12.7zM429.8 926.8h12.7v17.6h-12.7zM429.8 1421.3h12.7v11.8h-12.7zM442.1 898.0h12.7v11.8h-12.7zM442.1 926.8h12.7v17.6h-12.7zM442.1 1415.5h12.7v11.8h-12.7zM454.5 898.0h12.7v11.8h-12.7zM454.5 926.8h12.7v17.6h-12.7zM454.5 1409.8h12.7v11.8h-12.7zM466.9 898.0h12.7v11.8h-12.7zM466.9 926.8h12.7v17.6h-12.7zM466.9 1404.0h12.7v11.8h-12.7zM479.2 898.0h12.7v11.8h-12.7zM479.2 926.8h12.7v11.8h-12.7zM479.2 1398.3h12.7v11.8h-12.7zM491.6 898.0h12.7v11.8h-12.7zM491.6 926.8h12.7v11.8h-12.7zM491.6 1398.3h12.7v6.1h-12.7zM504.0 898.0h12.7v11.8h-12.7zM504.0 926.8h12.7v11.8h-12.7zM504.0 1392.5h12.7v6.1h-12.7zM516.4 898.0h12.7v6.1h-12.7zM516.4 926.8h12.7v11.8h-12.7zM516.4 1386.8h12.7v11.8h-12.7zM528.7 898.0h12.7v6.1h-12.7zM528.7 926.8h12.7v11.8h-12.7zM528.7 1381.0h12.7v11.8h-12.7zM541.1 898.0h12.7v6.1h-12.7zM541.1 926.8h12.7v11.8h-12.7zM541.1 1381.0h12.7v11.8h-12.7zM553.5 892.3h12.7v11.8h-12.7zM553.5 926.8h12.7v11.8h-12.7zM553.5 1381.0h12.7v11.8h-12.7zM565.8 892.3h12.7v11.8h-12.7zM565.8 926.8h12.7v11.8h-12.7zM565.8 1381.0h12.7v11.8h-12.7zM578.2 892.3h12.7v11.8h-12.7zM578.2 926.8h12.7v11.8h-12.7zM578.2 1381.0h12.7v11.8h-12.7zM590.6 892.3h12.7v11.8h-12.7zM590.6 926.8h12.7v11.8h-12.7zM590.6 1381.0h12.7v11.8h-12.7zM603.0 892.3h12.7v6.1h-12.7zM603.0 926.8h12.7v11.8h-12.7zM603.0 1381.0h12.7v6.1h-12.7zM615.3 886.5h12.7v11.8h-12.7zM615.3 926.8h12.7v11.8h-12.7zM615.3 1381.0h12.7v6.1h-12.7zM627.7 886.5h12.7v11.8h-12.7zM627.7 926.8h12.7v11.8h-12.7zM627.7 1375.3h12.7v11.8h-12.7zM640.1 886.5h12.7v6.1h-12.7zM640.1 926.8h12.7v11.8h-12.7zM640.1 1375.3h12.7v11.8h-12.7zM652.5 886.5h12.7v6.1h-12.7zM652.5 926.8h12.7v11.8h-12.7zM652.5 1375.3h12.7v6.1h-12.7zM664.8 886.5h12.7v6.1h-12.7zM664.8 926.8h12.7v11.8h-12.7zM664.8 1375.3h12.7v6.1h-12.7zM677.2 886.5h12.7v6.1h-12.7zM677.2 926.8h12.7v6.1h-12.7zM677.2 1375.3h12.7v6.1h-12.7zM689.6 926.8h12.7v6.1h-12.7zM689.6 1369.5h12.7v11.8h-12.7zM701.9 926.8h12.7v6.1h-12.7zM701.9 1369.5h12.7v11.8h-12.7zM714.3 926.8h12.7v6.1h-12.7zM714.3 1369.5h12.7v6.1h-12.7zM726.7 926.8h12.7v6.1h-12.7zM726.7 1369.5h12.7v6.1h-12.7zM739.1 926.8h12.7v6.1h-12.7zM739.1 1363.8h12.7v11.8h-12.7zM751.4 926.8h12.7v6.1h-12.7zM751.4 1363.8h12.7v11.8h-12.7z"/>
<path fill="#adadff" d="M145.2 886.5h12.7v34.8h-12.7zM145.2 949.8h12.7v11.8h-12.7zM157.6 886.5h12.7v34.8h-12.7zM157.6 949.8h12.7v11.8h-12.7zM169.9 886.5h12.7v34.8h-12.7zM169.9 949.8h12.7v11.8h-12.7zM182.3 886.5h12.7v34.8h-12.7zM182.3 949.8h12.7v11.8h-12.7zM182.3 1461.5h12.7v6.1h-12.7zM194.7 886.5h12.7v34.8h-12.7zM194.7 949.8h12.7v11.8h-12.7zM194.7 1455.8h12.7v11.8h-12.7zM207.1 886.5h12.7v34.8h-12.7zM207.1 949.8h12.7v11.8h-12.7zM207.1 1455.8h12.7v11.8h-12.7zM219.4 886.5h12.7v34.8h-12.7zM219.4 949.8h12.7v11.8h-12.7zM219.4 1450.0h12.7v11.8h-12.7zM231.8 886.5h12.7v40.6h-12.7zM231.8 949.8h12.7v11.8h-12.7zM231.8 1450.0h12.7v6.1h-12.7zM244.2 886.5h12.7v34.8h-12.7zM244.2 949.8h12.7v11.8h-12.7zM244.2 1450.0h12.7v6.1h-12.7zM256.5 886.5h12.7v34.8h-12.7zM256.5 949.8h12.7v11.8h-12.7zM256.5 1450.0h12.7v6.1h-12.7zM268.9 886.5h12.7v34.8h-12.7zM268.9 949.8h12.7v6.1h-12.7zM268.9 1450.0h12.7v11.8h-12.7zM281.3 886.5h12.7v29.1h-12.7zM281.3 949.8h12.7v6.1h-12.7zM281.3 1450.0h12.7v11.8h-12.7zM293.7 886.5h12.7v29.1h-12.7zM293.7 949.8h12.7v6.1h-12.7zM293.7 1450.0h12.7v11.8h-12.7zM306.0 886.5h12.7v29.1h-12.7zM306.0 949.8h12.7v6.1h-12.7zM306.0 1450.0h12.7v11.8h-12.7zM318.4 886.5h12.7v29.1h-12.7zM318.4 949.8h12.7v6.1h-12.7zM318.4 1450.0h12.7v11.8h-12.7zM330.8 886.5h12.7v29.1h-12.7zM330.8 949.8h12.7v6.1h-12.7zM330.8 1450.0h12.7v11.8h-12.7zM343.2 886.5h12.7v23.3h-12.7zM343.2 944.0h12.7v11.8h-12.7zM343.2 1444.3h12.7v11.8h-12.7zM355.5 886.5h12.7v23.3h-12.7zM355.5 944.0h12.7v11.8h-12.7zM355.5 1444.3h12.7v11.8h-12.7zM367.9 886.5h12.7v23.3h-12.7zM367.9 944.0h12.7v11.8h-12.7zM367.9 1438.5h12.7v11.8h-12.7zM380.3 886.5h12.7v23.3h-12.7zM380.3 944.0h12.7v11.8h-12.7zM380.3 1432.8h12.7v11.8h-12.7zM392.6 886.5h12.7v17.6h-12.7zM392.6 944.0h12.7v11.8h-12.7zM392.6 1427.0h12.7v11.8h-12.7zM405.0 886.5h12.7v17.6h-12.7zM405.0 944.0h12.7v11.8h-12.7zM405.0 1427.0h12.7v6.1h-12.7zM417.4 886.5h12.7v17.6h-12.7zM417.4 944.0h12.7v11.8h-12.7zM417.4 1421.3h12.7v6.1h-12.7zM429.8 886.5h12.7v17.6h-12.7zM429.8 944.0h12.7v11.8h-12.7zM429.8 1409.8h12.7v11.8h-12.7zM442.1 886.5h12.7v11.8h-12.7zM442.1 944.0h12.7v11.8h-12.7zM442.1 1404.0h12.7v11.8h-12.7zM454.5 886.5h12.7v11.8h-12.7zM454.5 944.0h12.7v11.8h-12.7zM454.5 1398.3h12.7v11.8h-12.7zM466.9 886.5h12.7v11.8h-12.7zM466.9 944.0h12.7v11.8h-12.7zM466.9 1398.3h12.7v6.1h-12.7zM479.2 886.5h12.7v11.8h-12.7zM479.2 938.3h12.7v11.8h-12.7zM479.2 1392.5h12.7v6.1h-12.7zM491.6 886.5h12.7v11.8h-12.7zM491.6 938.3h12.7v11.8h-12.7zM491.6 1386.8h12.7v11.8h-12.7zM504.0 886.5h12.7v11.8h-12.7zM504.0 938.3h12.7v11.8h-12.7zM504.0 1381.0h12.7v11.8h-12.7zM516.4 886.5h12.7v11.8h-12.7zM516.4 938.3h12.7v11.8h-12.7zM516.4 1381.0h12.7v6.1h-12.7zM528.7 886.5h12.7v11.8h-12.7zM528.7 938.3h12.7v6.1h-12.7zM528.7 1375.3h12.7v6.1h-12.7zM541.1 886.5h12.7v11.8h-12.7zM541.1 938.3h12.7v6.1h-12.7zM541.1 1375.3h12.7v6.1h-12.7zM553.5 886.5h12.7v6.1h-12.7zM553.5 938.3h12.7v6.1h-12.7zM553.5 1375.3h12.7v6.1h-12.7zM565.8 886.5h12.7v6.1h-12.7zM565.8 938.3h12.7v6.1h-12.7zM565.8 1375.3h12.7v6.1h-12.7zM578.2 886.5h12.7v6.1h-12.7zM578.2 938.3h12.7v6.1h-12.7zM578.2 1369.5h12.7v11.8h-12.7zM590.6 886.5h12.7v6.1h-12.7zM590.6 938.3h12.7v6.1h-12.7zM590.6 1369.5h12.7v11.8h-12.7zM603.0 886.5h12.7v6.1h-12.7zM603.0 938.3h12.7v6.1h-12.7zM603.0 1369.5h12.7v11.8h-12.7zM615.3 938.3h12.7v6.1h-12.7zM615.3 1369.5h12.7v11.8h-12.7zM627.7 938.3h12.7v6.1h-12.7zM627.7 1369.5h12.7v6.1h-12.7zM640.1 938.3h12.7v6.1h-12.7zM640.1 1369.5h12.7v6.1h-12.7zM652.5 1363.8h12.7v11.8h-12.7zM664.8 1363.8h12.7v11.8h-12.7zM677.2 932.5h12.7v6.1h-12.7zM677.2 1363.8h12.7v11.8h-12.7zM689.6 932.5h12.7v6.1h-12.7zM689.6 1363.8h12.7v6.1h-12.7zM701.9 932.5h12.7v6.1h-12.7zM701.9 1358.0h12.7v11.8h-12.7zM714.3 932.5h12.7v6.1h-12.7zM714.3 1358.0h12.7v11.8h-12.7zM726.7 932.5h12.7v6.1h-12.7zM726.7 1358.0h12.7v11.8h-12.7zM739.1 932.5h12.7v6.1h-12.7zM739.1 1358.0h12.7v6.1h-12.7zM751.4 932.5h12.7v6.1h-12.7zM751.4 1358.0h12.7v6.1h-12.7z"/>
<path fill="#a5a5ff" d="M145.2 961.3h12.7v17.6h-12.7zM145.2 1461.5h12.7v6.1h-12.7zM157.6 961.3h12.7v17.6h-12.7zM157.6 1455.8h12.7v11.8h-12.7zM169.9 961.3h12.7v11.8h-12.7zM169.9 1450.0h12.7v17.6h-12.7zM182.3 961.3h12.7v11.8h-12.7zM182.3 1450.0h12.7v11.8h-12.7zM194.7 961.3h12.7v11.8h-12.7zM194.7 1450.0h12.7v6.1h-12.7zM207.1 961.3h12.7v11.8h-12.7zM207.1 1444.3h12.7v11.8h-12.7zM219.4 961.3h12.7v11.8h-12.7zM219.4 1444.3h12.7v6.1h-12.7zM231.8 961.3h12.7v11.8h-12.7zM231.8 1444.3h12.7v6.1h-12.7zM244.2 961.3h12.7v11.8h-12.7zM244.2 1438.5h12.7v11.8h-12.7zM256.5 961.3h12.7v11.8h-12.7zM256.5 1438.5h12.7v11.8h-12.7zM268.9 955.5h12.7v11.8h-12.7zM268.9 1438.5h12.7v11.8h-12.7zM281.3 955.5h12.7v11.8h-12.7zM281.3 1438.5h12.7v11.8h-12.7zM293.7 955.5h12.7v11.8h-12.7zM293.7 1438.5h12.7v11.8h-12.7zM306.0 955.5h12.7v11.8h-12.7zM306.0 1438.5h12.7v11.8h-12.7zM318.4 955.5h12.7v11.8h-12.7zM318.4 1438.5h12.7v11.8h-12.7zM330.8 955.5h12.7v11.8h-12.7zM330.8 1438.5h12.7v11.8h-12.7zM343.2 955.5h12.7v11.8h-12.7zM343.2 1438.5h12.7v6.1h-12.7zM355.5 955.5h12.7v11.8h-12.7zM355.5 1432.8h12.7v11.8h-12.7zM367.9 955.5h12.7v11.8h-12.7zM367.9 1432.8h12.7v6.1h-12.7zM380.3 955.5h12.7v11.8h-12.7zM380.3 1427.0h12.7v6.1h-12.7zM392.6 955.5h12.7v11.8h-12.7zM392.6 1421.3h12.7v6.1h-12.7zM405.0 955.5h12.7v11.8h-12.7zM405.0 1415.5h12.7v11.8h-12.7zM417.4 955.5h12.7v11.8h-12.7zM417.4 1409.8h12.7v11.8h-12.7zM429.8 955.5h12.7v11.8h-12.7zM429.8 1404.0h12.7v6.1h-12.7zM442.1 955.5h12.7v11.8h-12.7zM442.1 1398.3h12.7v6.1h-12.7zM454.5 955.5h12.7v11.8h-12.7zM454.5 1392.5h12.7v6.1h-12.7zM466.9 955.5h12.7v11.8h-12.7zM466.9 1386.8h12.7v11.8h-12.7zM479.2 949.8h12.7v17.6h-12.7zM479.2 1386.8h12.7v6.1h-12.7zM491.6 949.8h12.7v11.8h-12.7zM491.6 1381.0h12.7v6.1h-12.7zM504.0 949.8h12.7v11.8h-12.7zM504.0 1375.3h12.7v6.1h-12.7zM516.4 949.8h12.7v11.8h-12.7zM516.4 1369.5h12.7v11.8h-12.7zM528.7 944.0h12.7v11.8h-12.7zM528.7 1363.8h12.7v11.8h-12.7zM541.1 944.0h12.7v11.8h-12.7zM541.1 1363.8h12.7v11.8h-12.7zM553.5 944.0h12.7v11.8h-12.7zM553.5 1363.8h12.7v11.8h-12.7zM565.8 944.0h12.7v11.8h-12.7zM565.8 1363.8h12.7v11.8h-12.7zM578.2 944.0h12.7v11.8h-12.7zM578.2 1363.8h12.7v6.1h-12.7zM590.6 944.0h12.7v11.8h-12.7zM590.6 1363.8h12.7v6.1h-12.7zM603.0 944.0h12.7v6.1h-12.7zM603.0 1358.0h12.7v11.8h-12.7zM615.3 944.0h12.7v6.1h-12.7zM615.3 1358.0h12.7v11.8h-12.7zM627.7 944.0h12.7v6.1h-12.7zM627.7 1018.8h12.7v6.1h-12.7zM627.7 1358.0h12.7v11.8h-12.7zM640.1 944.0h12.7v6.1h-12.7zM640.1 1018.8h12.7v6.1h-12.7zM640.1 1358.0h12.7v11.8h-12.7zM652.5 938.3h12.7v6.1h-12.7zM652.5 1018.8h12.7v6.1h-12.7zM652.5 1358.0h12.7v6.1h-12.7zM664.8 938.3h12.7v6.1h-12.7zM664.8 1018.8h12.7v6.1h-12.7zM664.8 1352.3h12.7v11.8h-12.7zM677.2 938.3h12.7v6.1h-12.7zM677.2 1013.0h12.7v11.8h-12.7zM677.2 1352.3h12.7v11.8h-12.7zM689.6 938.3h12.7v6.1h-12.7zM689.6 1013.0h12.7v11.8h-12.7zM689.6 1352.3h12.7v11.8h-12.7zM701.9 938.3h12.7v6.1h-12.7zM701.9 1013.0h12.7v6.1h-12.7zM701.9 1352.3h12.7v6.1h-12.7zM714.3 938.3h12.7v6.1h-12.7zM714.3 1007.3h12.7v11.8h-12.7zM714.3 1352.3h12.7v6.1h-12.7zM726.7 938.3h12.7v6.1h-12.7zM726.7 1007.3h12.7v11.8h-12.7zM726.7 1352.3h12.7v6.1h-12.7zM739.1 938.3h12.7v6.1h-12.7zM739.1 1007.3h12.7v11.8h-12.7zM739.1 1346.5h12.7v11.8h-12.7zM751.4 938.3h12.7v6.1h-12.7zM751.4 1007.3h12.7v11.8h-12.7zM751.4 1082.0h12.7v6.1h-12.7zM751.4 1346.5h12.7v11.8h-12.7z"/>
<path fill="#9c9cff" d="M145.2 978.5h12.7v46.3h-12.7zM145.2 1444.3h12.7v17.6h-12.7zM157.6 978.5h12.7v34.8h-12.7zM157.6 1444.3h12.7v11.8h-12.7zM169.9 972.8h12.7v34.8h-12.7zM169.9 1444.3h12.7v6.1h-12.7zM182.3 972.8h12.7v29.1h-12.7zM182.3 1438.5h12.7v11.8h-12.7zM194.7 972.8h12.7v29.1h-12.7zM194.7 1438.5h12.7v11.8h-12.7zM207.1 972.8h12.7v23.3h-12.7zM207.1 1438.5h12.7v6.1h-12.7zM219.4 972.8h12.7v23.3h-12.7zM219.4 1432.8h12.7v11.8h-12.7zM231.8 972.8h12.7v17.6h-12.7zM231.8 1432.8h12.7v11.8h-12.7zM244.2 972.8h12.7v17.6h-12.7zM244.2 1432.8h12.7v6.1h-12.7zM256.5 972.8h12.7v11.8h-12.7zM256.5 1432.8h12.7v6.1h-12.7zM268.9 967.0h12.7v17.6h-12.7zM268.9 1432.8h12.7v6.1h-12.7zM281.3 967.0h12.7v17.6h-12.7zM281.3 1432.8h12.7v6.1h-12.7zM293.7 967.0h12.7v17.6h-12.7zM293.7 1432.8h12.7v6.1h-12.7zM306.0 967.0h12.7v11.8h-12.7zM306.0 1432.8h12.7v6.1h-12.7zM318.4 967.0h12.7v11.8h-12.7zM318.4 1432.8h12.7v6.1h-12.7zM330.8 967.0h12.7v11.8h-12.7zM330.8 1432.8h12.7v6.1h-12.7zM343.2 967.0h12.7v11.8h-12.7zM343.2 1432.8h12.7v6.1h-12.7zM355.5 967.0h12.7v11.8h-12.7zM355.5 1427.0h12.7v6.1h-12.7zM367.9 967.0h12.7v11.8h-12.7zM367.9 1427.0h12.7v6.1h-12.7zM380.3 967.0h12.7v11.8h-12.7zM380.3 1415.5h12.7v11.8h-12.7zM392.6 967.0h12.7v11.8h-12.7zM392.6 1409.8h12.7v11.8h-12.7zM405.0 967.0h12.7v11.8h-12.7zM405.0 1404.0h12.7v11.8h-12.7zM417.4 967.0h12.7v11.8h-12.7zM417.4 1398.3h12.7v11.8h-12.7zM429.8 967.0h12.7v11.8h-12.7zM429.8 1398.3h12.7v6.1h-12.7zM442.1 967.0h12.7v17.6h-12.7zM442.1 1392.5h12.7v6.1h-12.7zM454.5 967.0h12.7v17.6h-12.7zM454.5 1386.8h12.7v6.1h-12.7zM466.9 967.0h12.7v17.6h-12.7zM466.9 1375.3h12.7v11.8h-12.7zM479.2 967.0h12.7v11.8h-12.7zM479.2 1369.5h12.7v17.6h-12.7zM491.6 961.3h12.7v17.6h-12.7zM491.6 1036.0h12.7v6.1h-12.7zM491.6 1369.5h12.7v11.8h-12.7zM504.0 961.3h12.7v11.8h-12.7zM504.0 1030.3h12.7v6.1h-12.7zM504.0 1363.8h12.7v11.8h-12.7zM516.4 961.3h12.7v11.8h-12.7zM516.4 1030.3h12.7v11.8h-12.7zM516.4 1358.0h12.7v11.8h-12.7zM528.7 955.5h12.7v11.8h-12.7zM528.7 1024.5h12.7v17.6h-12.7zM528.7 1358.0h12.7v6.1h-12.7zM541.1 955.5h12.7v11.8h-12.7zM541.1 1024.5h12.7v17.6h-12.7zM541.1 1358.0h12.7v6.1h-12.7zM553.5 955.5h12.7v11.8h-12.7zM553.5 1024.5h12.7v11.8h-12.7zM553.5 1352.3h12.7v11.8h-12.7zM565.8 955.5h12.7v11.8h-12.7zM565.8 1024.5h12.7v11.8h-12.7zM565.8 1352.3h12.7v11.8h-12.7zM578.2 955.5h12.7v11.8h-12.7zM578.2 1018.8h12.7v17.6h-12.7zM578.2 1352.3h12.7v11.8h-12.7zM590.6 955.5h12.7v6.1h-12.7zM590.6 1018.8h12.7v17.6h-12.7zM590.6 1352.3h12.7v11.8h-12.7zM603.0 949.8h12.7v11.8h-12.7zM603.0 1018.8h12.7v17.6h-12.7zM603.0 1352.3h12.7v6.1h-12.7zM615.3 949.8h12.7v6.1h-12.7zM615.3 1018.8h12.7v11.8h-12.7zM615.3 1352.3h12.7v6.1h-12.7zM627.7 949.8h12.7v6.1h-12.7zM627.7 1013.0h12.7v6.1h-12.7zM627.7 1024.5h12.7v6.1h-12.7zM627.7 1346.5h12.7v11.8h-12.7zM640.1 949.8h12.7v6.1h-12.7zM640.1 1013.0h12.7v6.1h-12.7zM640.1 1024.5h12.7v6.1h-12.7zM640.1 1346.5h12.7v11.8h-12.7zM652.5 944.0h12.7v6.1h-12.7zM652.5 1013.0h12.7v6.1h-12.7zM652.5 1024.5h12.7v6.1h-12.7zM652.5 1346.5h12.7v11.8h-12.7zM664.8 944.0h12.7v6.1h-12.7zM664.8 1013.0h12.7v6.1h-12.7zM664.8 1024.5h12.7v6.1h-12.7zM664.8 1346.5h12.7v6.1h-12.7zM677.2 944.0h12.7v6.1h-12.7zM677.2 1007.3h12.7v6.1h-12.7zM677.2 1346.5h12.7v6.1h-12.7zM689.6 944.0h12.7v6.1h-12.7zM689.6 1007.3h12.7v6.1h-12.7zM689.6 1346.5h12.7v6.1h-12.7zM701.9 944.0h12.7v6.1h-12.7zM701.9 1007.3h12.7v6.1h-12.7zM701.9 1018.8h12.7v6.1h-12.7zM701.9 1340.8h12.7v11.8h-12.7zM714.3 944.0h12.7v6.1h-12.7zM714.3 1018.8h12.7v6.1h-12.7zM714.3 1340.8h12.7v11.8h-12.7zM726.7 944.0h12.7v6.1h-12.7zM726.7 1001.5h12.7v6.1h-12.7zM726.7 1018.8h12.7v6.1h-12.7zM726.7 1082.0h12.7v6.1h-12.7zM726.7 1340.8h12.7v11.8h-12.7zM739.1 944.0h12.7v6.1h-12.7zM739.1 1001.5h12.7v6.1h-12.7zM739.1 1082.0h12.7v6.1h-12.7zM739.1 1340.8h12.7v6.1h-12.7zM751.4 944.0h12.7v6.1h-12.7zM751.4 1001.5h12.7v6.1h-12.7zM751.4 1335.0h12.7v11.8h-12.7z"/>
<path fill="#9494ff" d="M145.2 1024.5h12.7v23.3h-12.7zM145.2 1438.5h12.7v6.1h-12.7zM157.6 1013.0h12.7v34.8h-12.7zM157.6 1432.8h12.7v11.8h-12.7zM169.9 1007.3h12.7v40.6h-12.7zM169.9 1432.8h12.7v11.8h-12.7zM182.3 1001.5h12.7v40.6h-12.7zM182.3 1432.8h12.7v6.1h-12.7zM194.7 1001.5h12.7v40.6h-12.7zM194.7 1432.8h12.7v6.1h-12.7zM207.1 995.8h12.7v46.3h-12.7zM207.1 1427.0h12.7v11.8h-12.7zM219.4 995.8h12.7v40.6h-12.7zM219.4 1427.0h12.7v6.1h-12.7zM231.8 990.0h12.7v46.3h-12.7zM231.8 1427.0h12.7v6.1h-12.7zM244.2 990.0h12.7v40.6h-12.7zM244.2 1427.0h12.7v6.1h-12.7zM256.5 984.3h12.7v40.6h-12.7zM256.5 1427.0h12.7v6.1h-12.7zM268.9 984.3h12.7v34.8h-12.7zM268.9 1427.0h12.7v6.1h-12.7zM281.3 984.3h12.7v29.1h-12.7zM281.3 1427.0h12.7v6.1h-12.7zM293.7 984.3h12.7v29.1h-12.7zM293.7 1427.0h12.7v6.1h-12.7zM306.0 978.5h12.7v29.1h-12.7zM306.0 1427.0h12.7v6.1h-12.7zM318.4 978.5h12.7v23.3h-12.7zM318.4 1427.0h12.7v6.1h-12.7zM330.8 978.5h12.7v23.3h-12.7zM330.8 1427.0h12.7v6.1h-12.7zM343.2 978.5h12.7v23.3h-12.7zM343.2 1427.0h12.7v6.1h-12.7zM355.5 978.5h12.7v23.3h-12.7zM355.5 1421.3h12.7v6.1h-12.7zM367.9 978.5h12.7v23.3h-12.7zM367.9 1415.5h12.7v11.8h-12.7zM380.3 978.5h12.7v29.1h-12.7zM380.3 1409.8h12.7v6.1h-12.7zM392.6 978.5h12.7v29.1h-12.7zM392.6 1404.0h12.7v6.1h-12.7zM405.0 978.5h12.7v29.1h-12.7zM405.0 1398.3h12.7v6.1h-12.7zM417.4 978.5h12.7v29.1h-12.7zM417.4 1392.5h12.7v6.1h-12.7zM429.8 978.5h12.7v29.1h-12.7zM429.8 1386.8h12.7v11.8h-12.7zM442.1 984.3h12.7v23.3h-12.7zM442.1 1030.3h12.7v6.1h-12.7zM442.1 1381.0h12.7v11.8h-12.7zM454.5 984.3h12.7v29.1h-12.7zM454.5 1024.5h12.7v23.3h-12.7zM454.5 1375.3h12.7v11.8h-12.7zM466.9 984.3h12.7v63.6h-12.7zM466.9 1363.8h12.7v11.8h-12.7zM479.2 978.5h12.7v29.1h-12.7zM479.2 1018.8h12.7v29.1h-12.7zM479.2 1363.8h12.7v6.1h-12.7zM491.6 978.5h12.7v29.1h-12.7zM491.6 1018.8h12.7v17.6h-12.7zM491.6 1041.8h12.7v6.1h-12.7zM491.6 1358.0h12.7v11.8h-12.7zM504.0 972.8h12.7v29.1h-12.7zM504.0 1018.8h12.7v11.8h-12.7zM504.0 1036.0h12.7v11.8h-12.7zM504.0 1352.3h12.7v11.8h-12.7zM516.4 972.8h12.7v29.1h-12.7zM516.4 1018.8h12.7v11.8h-12.7zM516.4 1041.8h12.7v6.1h-12.7zM516.4 1352.3h12.7v6.1h-12.7zM528.7 967.0h12.7v29.1h-12.7zM528.7 1018.8h12.7v6.1h-12.7zM528.7 1346.5h12.7v11.8h-12.7zM541.1 967.0h12.7v29.1h-12.7zM541.1 1018.8h12.7v6.1h-12.7zM541.1 1346.5h12.7v11.8h-12.7zM553.5 967.0h12.7v23.3h-12.7zM553.5 1013.0h12.7v11.8h-12.7zM553.5 1036.0h12.7v6.1h-12.7zM553.5 1346.5h12.7v6.1h-12.7zM565.8 967.0h12.7v17.6h-12.7zM565.8 1013.0h12.7v11.8h-12.7zM565.8 1036.0h12.7v6.1h-12.7zM565.8 1346.5h12.7v6.1h-12.7zM578.2 967.0h12.7v11.8h-12.7zM578.2 1013.0h12.7v6.1h-12.7zM578.2 1036.0h12.7v6.1h-12.7zM578.2 1340.8h12.7v11.8h-12.7zM590.6 961.3h12.7v11.8h-12.7zM590.6 1013.0h12.7v6.1h-12.7zM590.6 1036.0h12.7v6.1h-12.7zM590.6 1340.8h12.7v11.8h-12.7zM603.0 961.3h12.7v11.8h-12.7zM603.0 1013.0h12.7v6.1h-12.7zM603.0 1340.8h12.7v11.8h-12.7zM615.3 955.5h12.7v11.8h-12.7zM615.3 1013.0h12.7v6.1h-12.7zM615.3 1030.3h12.7v6.1h-12.7zM615.3 1340.8h12.7v11.8h-12.7zM627.7 955.5h12.7v11.8h-12.7zM627.7 1007.3h12.7v6.1h-12.7zM627.7 1030.3h12.7v6.1h-12.7zM627.7 1340.8h12.7v6.1h-12.7zM640.1 955.5h12.7v6.1h-12.7zM640.1 1007.3h12.7v6.1h-12.7zM640.1 1030.3h12.7v6.1h-12.7zM640.1 1340.8h12.7v6.1h-12.7zM652.5 949.8h12.7v11.8h-12.7zM652.5 1007.3h12.7v6.1h-12.7zM652.5 1030.3h12.7v6.1h-12.7zM652.5 1340.8h12.7v6.1h-12.7zM664.8 949.8h12.7v6.1h-12.7zM664.8 1007.3h12.7v6.1h-12.7zM664.8 1030.3h12.7v6.1h-12.7zM664.8 1340.8h12.7v6.1h-12.7zM677.2 949.8h12.7v6.1h-12.7zM677.2 1024.5h12.7v6.1h-12.7zM677.2 1335.0h12.7v11.8h-12.7zM689.6 949.8h12.7v6.1h-12.7zM689.6 1001.5h12.7v6.1h-12.7zM689.6 1024.5h12.7v6.1h-12.7zM689.6 1335.0h12.7v11.8h-12.7zM701.9 949.8h12.7v6.1h-12.7zM701.9 1001.5h12.7v6.1h-12.7zM701.9 1024.5h12.7v6.1h-12.7zM701.9 1082.0h12.7v6.1h-12.7zM701.9 1335.0h12.7v6.1h-12.7zM714.3 949.8h12.7v6.1h-12.7zM714.3 1001.5h12.7v6.1h-12.7zM714.3 1024.5h12.7v6.1h-12.7zM714.3 1082.0h12.7v6.1h-12.7zM714.3 1329.3h12.7v11.8h-12.7zM726.7 949.8h12.7v6.1h-12.7zM726.7 1329.3h12.7v11.8h-12.7zM739.1 949.8h12.7v6.1h-12.7zM739.1 995.8h12.7v6.1h-12.7zM739.1 1018.8h12.7v6.1h-12.7zM739.1 1087.8h12.7v6.1h-12.7zM739.1 1329.3h12.7v11.8h-12.7zM751.4 949.8h12.7v6.1h-12.7zM751.4 995.8h12.7v6.1h-12.7zM751.4 1018.8h12.7v6.1h-12.7zM751.4 1087.8h12.7v6.1h-12.7zM751.4 1323.5h12.7v11.8h-12.7z"/>
<path fill="#8c8cff" d="M145.2 1047.5h12.7v11.8h-12.7zM145.2 1427.0h12.7v11.8h-12.7zM157.6 1047.5h12.7v11.8h-12.7zM157.6 1427.0h12.7v6.1h-12.7zM169.9 1047.5h12.7v11.8h-12.7zM169.9 1427.0h12.7v6.1h-12.7zM182.3 1041.8h12.7v11.8h-12.7zM182.3 1427.0h12.7v6.1h-12.7zM194.7 1041.8h12.7v11.8h-12.7zM194.7 1421.3h12.7v11.8h-12.7zM207.1 1041.8h12.7v11.8h-12.7zM207.1 1421.3h12.7v6.1h-12.7zM219.4 1036.0h12.7v17.6h-12.7zM219.4 1421.3h12.7v6.1h-12.7zM231.8 1036.0h12.7v11.8h-12.7zM231.8 1421.3h12.7v6.1h-12.7zM244.2 1030.3h12.7v17.6h-12.7zM244.2 1421.3h12.7v6.1h-12.7zM256.5 1024.5h12.7v23.3h-12.7zM256.5 1421.3h12.7v6.1h-12.7zM268.9 1018.8h12.7v23.3h-12.7zM268.9 1421.3h12.7v6.1h-12.7zM281.3 1013.0h12.7v29.1h-12.7zM281.3 1421.3h12.7v6.1h-12.7zM293.7 1013.0h12.7v29.1h-12.7zM293.7 1421.3h12.7v6.1h-12.7zM306.0 1007.3h12.7v34.8h-12.7zM306.0 1421.3h12.7v6.1h-12.7zM318.4 1001.5h12.7v40.6h-12.7zM318.4 1421.3h12.7v6.1h-12.7zM330.8 1001.5h12.7v46.3h-12.7zM330.8 1421.3h12.7v6.1h-12.7zM343.2 1001.5h12.7v46.3h-12.7zM343.2 1415.5h12.7v11.8h-12.7zM355.5 1001.5h12.7v46.3h-12.7zM355.5 1409.8h12.7v11.8h-12.7zM367.9 1001.5h12.7v46.3h-12.7zM367.9 1404.0h12.7v11.8h-12.7zM380.3 1007.3h12.7v40.6h-12.7zM380.3 1398.3h12.7v11.8h-12.7zM392.6 1007.3h12.7v40.6h-12.7zM392.6 1398.3h12.7v6.1h-12.7zM405.0 1007.3h12.7v46.3h-12.7zM405.0 1392.5h12.7v6.1h-12.7zM417.4 1007.3h12.7v46.3h-12.7zM417.4 1381.0h12.7v11.8h-12.7zM429.8 1007.3h12.7v46.3h-12.7zM429.8 1375.3h12.7v11.8h-12.7zM442.1 1007.3h12.7v23.3h-12.7zM442.1 1036.0h12.7v17.6h-12.7zM442.1 1369.5h12.7v11.8h-12.7zM454.5 1013.0h12.7v11.8h-12.7zM454.5 1047.5h12.7v6.1h-12.7zM454.5 1363.8h12.7v11.8h-12.7zM466.9 1047.5h12.7v6.1h-12.7zM466.9 1352.3h12.7v11.8h-12.7zM479.2 1007.3h12.7v11.8h-12.7zM479.2 1047.5h12.7v6.1h-12.7zM479.2 1352.3h12.7v11.8h-12.7zM491.6 1007.3h12.7v11.8h-12.7zM491.6 1346.5h12.7v11.8h-12.7zM504.0 1001.5h12.7v17.6h-12.7zM504.0 1340.8h12.7v11.8h-12.7zM516.4 1001.5h12.7v17.6h-12.7zM516.4 1340.8h12.7v11.8h-12.7zM528.7 995.8h12.7v23.3h-12.7zM528.7 1041.8h12.7v6.1h-12.7zM528.7 1335.0h12.7v11.8h-12.7zM541.1 995.8h12.7v23.3h-12.7zM541.1 1041.8h12.7v6.1h-12.7zM541.1 1335.0h12.7v11.8h-12.7zM553.5 990.0h12.7v23.3h-12.7zM553.5 1041.8h12.7v6.1h-12.7zM553.5 1335.0h12.7v11.8h-12.7zM565.8 984.3h12.7v29.1h-12.7zM565.8 1041.8h12.7v6.1h-12.7zM565.8 1335.0h12.7v11.8h-12.7zM578.2 978.5h12.7v34.8h-12.7zM578.2 1041.8h12.7v6.1h-12.7zM578.2 1335.0h12.7v6.1h-12.7zM590.6 972.8h12.7v40.6h-12.7zM590.6 1041.8h12.7v6.1h-12.7zM590.6 1335.0h12.7v6.1h-12.7zM603.0 972.8h12.7v40.6h-12.7zM603.0 1036.0h12.7v6.1h-12.7zM603.0 1329.3h12.7v11.8h-12.7zM615.3 967.0h12.7v46.3h-12.7zM615.3 1036.0h12.7v6.1h-12.7zM615.3 1329.3h12.7v11.8h-12.7zM627.7 967.0h12.7v40.6h-12.7zM627.7 1036.0h12.7v6.1h-12.7zM627.7 1329.3h12.7v11.8h-12.7zM640.1 961.3h12.7v46.3h-12.7zM640.1 1036.0h12.7v6.1h-12.7zM640.1 1329.3h12.7v11.8h-12.7zM652.5 961.3h12.7v11.8h-12.7zM652.5 984.3h12.7v23.3h-12.7zM652.5 1036.0h12.7v6.1h-12.7zM652.5 1329.3h12.7v11.8h-12.7zM664.8 955.5h12.7v11.8h-12.7zM664.8 990.0h12.7v17.6h-12.7zM664.8 1036.0h12.7v11.8h-12.7zM664.8 1329.3h12.7v11.8h-12.7zM677.2 955.5h12.7v11.8h-12.7zM677.2 990.0h12.7v17.6h-12.7zM677.2 1030.3h12.7v17.6h-12.7zM677.2 1082.0h12.7v6.1h-12.7zM677.2 1329.3h12.7v6.1h-12.7zM689.6 955.5h12.7v11.8h-12.7zM689.6 990.0h12.7v11.8h-12.7zM689.6 1030.3h12.7v17.6h-12.7zM689.6 1082.0h12.7v6.1h-12.7zM689.6 1323.5h12.7v11.8h-12.7zM701.9 955.5h12.7v11.8h-12.7zM701.9 990.0h12.7v11.8h-12.7zM701.9 1030.3h12.7v17.6h-12.7zM701.9 1087.8h12.7v6.1h-12.7zM701.9 1323.5h12.7v11.8h-12.7zM714.3 955.5h12.7v11.8h-12.7zM714.3 990.0h12.7v11.8h-12.7zM714.3 1030.3h12.7v11.8h-12.7zM714.3 1087.8h12.7v6.1h-12.7zM714.3 1323.5h12.7v6.1h-12.7zM726.7 955.5h12.7v11.8h-12.7zM726.7 990.0h12.7v11.8h-12.7zM726.7 1024.5h12.7v17.6h-12.7zM726.7 1087.8h12.7v6.1h-12.7zM726.7 1323.5h12.7v6.1h-12.7zM739.1 955.5h12.7v11.8h-12.7zM739.1 990.0h12.7v6.1h-12.7zM739.1 1024.5h12.7v17.6h-12.7zM739.1 1317.8h12.7v11.8h-12.7zM751.4 955.5h12.7v11.8h-12.7zM751.4 990.0h12.7v6.1h-12.7zM751.4 1024.5h12.7v17.6h-12.7zM751.4 1317.8h12.7v6.1h-12.7z"/>
<path fill="#8484ff" d="M145.2 1059.0h12.7v11.8h-12.7zM145.2 1421.3h12.7v6.1h-12.7zM157.6 1059.0h12.7v11.8h-12.7zM157.6 1421.3h12.7v6.1h-12.7zM169.9 1059.0h12.7v11.8h-12.7zM169.9 1421.3h12.7v6.1h-12.7zM182.3 1053.3h12.7v17.6h-12.7zM182.3 1415.5h12.7v11.8h-12.7zM194.7 1053.3h12.7v11.8h-12.7zM194.7 1415.5h12.7v6.1h-12.7zM207.1 1053.3h12.7v11.8h-12.7zM207.1 1415.5h12.7v6.1h-12.7zM219.4 1053.3h12.7v11.8h-12.7zM219.4 1409.8h12.7v11.8h-12.7zM231.8 1047.5h12.7v17.6h-12.7zM231.8 1409.8h12.7v11.8h-12.7zM244.2 1047.5h12.7v17.6h-12.7zM244.2 1409.8h12.7v11.8h-12.7zM256.5 1047.5h12.7v17.6h-12.7zM256.5 1409.8h12.7v11.8h-12.7zM268.9 1041.8h12.7v23.3h-12.7zM268.9 1409.8h12.7v11.8h-12.7zM281.3 1041.8h12.7v23.3h-12.7zM281.3 1409.8h12.7v11.8h-12.7zM293.7 1041.8h12.7v23.3h-12.7zM293.7 1409.8h12.7v11.8h-12.7zM306.0 1041.8h12.7v23.3h-12.7zM306.0 1409.8h12.7v11.8h-12.7zM318.4 1041.8h12.7v23.3h-12.7zM318.4 1409.8h12.7v11.8h-12.7zM330.8 1047.5h12.7v17.6h-12.7zM330.8 1409.8h12.7v11.8h-12.7zM343.2 1047.5h12.7v17.6h-12.7zM343.2 1409.8h12.7v6.1h-12.7zM355.5 1047.5h12.7v17.6h-12.7zM355.5 1404.0h12.7v6.1h-12.7zM367.9 1047.5h12.7v17.6h-12.7zM367.9 1398.3h12.7v6.1h-12.7zM380.3 1047.5h12.7v17.6h-12.7zM380.3 1392.5h12.7v6.1h-12.7zM392.6 1047.5h12.7v17.6h-12.7zM392.6 1386.8h12.7v11.8h-12.7zM405.0 1053.3h12.7v11.8h-12.7zM405.0 1375.3h12.7v17.6h-12.7zM417.4 1053.3h12.7v6.1h-12.7zM417.4 1369.5h12.7v11.8h-12.7zM429.8 1053.3h12.7v6.1h-12.7zM429.8 1363.8h12.7v11.8h-12.7zM442.1 1053.3h12.7v6.1h-12.7zM442.1 1358.0h12.7v11.8h-12.7zM454.5 1053.3h12.7v6.1h-12.7zM454.5 1352.3h12.7v11.8h-12.7zM466.9 1053.3h12.7v6.1h-12.7zM466.9 1340.8h12.7v11.8h-12.7zM479.2 1053.3h12.7v6.1h-12.7zM479.2 1340.8h12.7v11.8h-12.7zM491.6 1047.5h12.7v11.8h-12.7zM491.6 1335.0h12.7v11.8h-12.7zM504.0 1047.5h12.7v11.8h-12.7zM504.0 1335.0h12.7v6.1h-12.7zM516.4 1047.5h12.7v6.1h-12.7zM516.4 1329.3h12.7v11.8h-12.7zM528.7 1047.5h12.7v6.1h-12.7zM528.7 1323.5h12.7v11.8h-12.7zM541.1 1047.5h12.7v6.1h-12.7zM541.1 1323.5h12.7v11.8h-12.7zM553.5 1047.5h12.7v6.1h-12.7zM553.5 1323.5h12.7v11.8h-12.7zM565.8 1047.5h12.7v6.1h-12.7zM565.8 1323.5h12.7v11.8h-12.7zM578.2 1047.5h12.7v6.1h-12.7zM578.2 1323.5h12.7v11.8h-12.7zM590.6 1047.5h12.7v6.1h-12.7zM590.6 1323.5h12.7v11.8h-12.7zM603.0 1041.8h12.7v11.8h-12.7zM603.0 1323.5h12.7v6.1h-12.7zM615.3 1041.8h12.7v11.8h-12.7zM615.3 1323.5h12.7v6.1h-12.7zM627.7 1041.8h12.7v11.8h-12.7zM627.7 1317.8h12.7v11.8h-12.7zM640.1 1041.8h12.7v17.6h-12.7zM640.1 1317.8h12.7v11.8h-12.7zM652.5 972.8h12.7v11.8h-12.7zM652.5 1041.8h12.7v17.6h-12.7zM652.5 1317.8h12.7v11.8h-12.7zM664.8 967.0h12.7v23.3h-12.7zM664.8 1047.5h12.7v11.8h-12.7zM664.8 1082.0h12.7v11.8h-12.7zM664.8 1317.8h12.7v11.8h-12.7zM677.2 967.0h12.7v23.3h-12.7zM677.2 1047.5h12.7v17.6h-12.7zM677.2 1087.8h12.7v6.1h-12.7zM677.2 1317.8h12.7v11.8h-12.7zM689.6 967.0h12.7v23.3h-12.7zM689.6 1047.5h12.7v17.6h-12.7zM689.6 1087.8h12.7v6.1h-12.7zM689.6 1317.8h12.7v6.1h-12.7zM701.9 967.0h12.7v23.3h-12.7zM701.9 1047.5h12.7v23.3h-12.7zM701.9 1076.3h12.7v6.1h-12.7zM701.9 1312.0h12.7v11.8h-12.7zM714.3 967.0h12.7v23.3h-12.7zM714.3 1041.8h12.7v29.1h-12.7zM714.3 1076.3h12.7v6.1h-12.7zM714.3 1312.0h12.7v11.8h-12.7zM726.7 967.0h12.7v23.3h-12.7zM726.7 1041.8h12.7v40.6h-12.7zM726.7 1312.0h12.7v11.8h-12.7zM739.1 967.0h12.7v23.3h-12.7zM739.1 1041.8h12.7v40.6h-12.7zM739.1 1306.3h12.7v11.8h-12.7zM751.4 967.0h12.7v23.3h-12.7zM751.4 1041.8h12.7v40.6h-12.7zM751.4 1306.3h12.7v11.8h-12.7z"/>
<path fill="#7b7bff" d="M145.2 1070.5h12.7v17.6h-12.7zM145.2 1415.5h12.7v6.1h-12.7zM157.6 1070.5h12.7v17.6h-12.7zM157.6 1415.5h12.7v6.1h-12.7zM169.9 1070.5h12.7v17.6h-12.7zM169.9 1409.8h12.7v11.8h-12.7zM182.3 1070.5h12.7v11.8h-12.7zM182.3 1409.8h12.7v6.1h-12.7zM194.7 1064.8h12.7v17.6h-12.7zM194.7 1409.8h12.7v6.1h-12.7zM207.1 1064.8h12.7v17.6h-12.7zM207.1 1404.0h12.7v11.8h-12.7zM219.4 1064.8h12.7v17.6h-12.7zM219.4 1404.0h12.7v6.1h-12.7zM231.8 1064.8h12.7v11.8h-12.7zM231.8 1398.3h12.7v11.8h-12.7zM244.2 1064.8h12.7v11.8h-12.7zM244.2 1398.3h12.7v11.8h-12.7zM256.5 1064.8h12.7v11.8h-12.7zM256.5 1398.3h12.7v11.8h-12.7zM268.9 1064.8h12.7v11.8h-12.7zM268.9 1398.3h12.7v11.8h-12.7zM281.3 1064.8h12.7v11.8h-12.7zM281.3 1404.0h12.7v6.1h-12.7zM293.7 1064.8h12.7v11.8h-12.7zM293.7 1404.0h12.7v6.1h-12.7zM306.0 1064.8h12.7v11.8h-12.7zM306.0 1404.0h12.7v6.1h-12.7zM318.4 1064.8h12.7v11.8h-12.7zM318.4 1404.0h12.7v6.1h-12.7zM330.8 1064.8h12.7v11.8h-12.7zM330.8 1404.0h12.7v6.1h-12.7zM343.2 1064.8h12.7v11.8h-12.7zM343.2 1398.3h12.7v11.8h-12.7zM355.5 1064.8h12.7v6.1h-12.7zM355.5 1392.5h12.7v11.8h-12.7zM367.9 1064.8h12.7v6.1h-12.7zM367.9 1386.8h12.7v11.8h-12.7zM380.3 1064.8h12.7v6.1h-12.7zM380.3 1381.0h12.7v11.8h-12.7zM392.6 1064.8h12.7v6.1h-12.7zM392.6 1375.3h12.7v11.8h-12.7zM405.0 1064.8h12.7v6.1h-12.7zM405.0 1369.5h12.7v6.1h-12.7zM417.4 1059.0h12.7v11.8h-12.7zM417.4 1363.8h12.7v6.1h-12.7zM429.8 1059.0h12.7v11.8h-12.7zM429.8 1352.3h12.7v11.8h-12.7zM442.1 1059.0h12.7v11.8h-12.7zM442.1 1346.5h12.7v11.8h-12.7zM454.5 1059.0h12.7v11.8h-12.7zM454.5 1340.8h12.7v11.8h-12.7zM466.9 1059.0h12.7v11.8h-12.7zM466.9 1329.3h12.7v11.8h-12.7zM479.2 1059.0h12.7v6.1h-12.7zM479.2 1329.3h12.7v11.8h-12.7zM491.6 1059.0h12.7v6.1h-12.7zM491.6 1323.5h12.7v11.8h-12.7zM504.0 1059.0h12.7v6.1h-12.7zM504.0 1323.5h12.7v11.8h-12.7zM516.4 1053.3h12.7v11.8h-12.7zM516.4 1317.8h12.7v11.8h-12.7zM528.7 1053.3h12.7v11.8h-12.7zM528.7 1317.8h12.7v6.1h-12.7zM541.1 1053.3h12.7v11.8h-12.7zM541.1 1317.8h12.7v6.1h-12.7zM553.5 1053.3h12.7v11.8h-12.7zM553.5 1312.0h12.7v11.8h-12.7zM565.8 1053.3h12.7v11.8h-12.7zM565.8 1312.0h12.7v11.8h-12.7zM578.2 1053.3h12.7v11.8h-12.7zM578.2 1312.0h12.7v11.8h-12.7zM590.6 1053.3h12.7v11.8h-12.7zM590.6 1312.0h12.7v11.8h-12.7zM603.0 1053.3h12.7v11.8h-12.7zM603.0 1312.0h12.7v11.8h-12.7zM615.3 1053.3h12.7v17.6h-12.7zM615.3 1312.0h12.7v11.8h-12.7zM627.7 1053.3h12.7v17.6h-12.7zM627.7 1312.0h12.7v6.1h-12.7zM640.1 1059.0h12.7v11.8h-12.7zM640.1 1087.8h12.7v6.1h-12.7zM640.1 1306.3h12.7v11.8h-12.7zM652.5 1059.0h12.7v17.6h-12.7zM652.5 1082.0h12.7v11.8h-12.7zM652.5 1306.3h12.7v11.8h-12.7zM664.8 1059.0h12.7v23.3h-12.7zM664.8 1306.3h12.7v11.8h-12.7zM677.2 1064.8h12.7v17.6h-12.7zM677.2 1306.3h12.7v11.8h-12.7zM689.6 1064.8h12.7v17.6h-12.7zM689.6 1306.3h12.7v11.8h-12.7zM701.9 1070.5h12.7v6.1h-12.7zM701.9 1300.5h12.7v11.8h-12.7zM714.3 1070.5h12.7v6.1h-12.7zM714.3 1300.5h12.7v11.8h-12.7zM726.7 1300.5h12.7v11.8h-12.7zM739.1 1294.8h12.7v11.8h-12.7zM751.4 1294.8h12.7v11.8h-12.7z"/>
<path fill="#7373ff" d="M145.2 1087.8h12.7v17.6h-12.7zM145.2 1409.8h12.7v6.1h-12.7zM157.6 1087.8h12.7v17.6h-12.7zM157.6 1404.0h12.7v11.8h-12.7zM169.9 1087.8h12.7v17.6h-12.7zM169.9 1404.0h12.7v6.1h-12.7zM182.3 1082.0h12.7v17.6h-12.7zM182.3 1398.3h12.7v11.8h-12.7zM194.7 1082.0h12.7v17.6h-12.7zM194.7 1398.3h12.7v11.8h-12.7zM207.1 1082.0h12.7v17.6h-12.7zM207.1 1398.3h12.7v6.1h-12.7zM219.4 1082.0h12.7v17.6h-12.7zM219.4 1392.5h12.7v11.8h-12.7zM231.8 1076.3h12.7v17.6h-12.7zM231.8 1392.5h12.7v6.1h-12.7zM244.2 1076.3h12.7v17.6h-12.7zM244.2 1392.5h12.7v6.1h-12.7zM256.5 1076.3h12.7v17.6h-12.7zM256.5 1392.5h12.7v6.1h-12.7zM268.9 1076.3h12.7v17.6h-12.7zM268.9 1392.5h12.7v6.1h-12.7zM281.3 1076.3h12.7v17.6h-12.7zM281.3 1392.5h12.7v11.8h-12.7zM293.7 1076.3h12.7v17.6h-12.7zM293.7 1392.5h12.7v11.8h-12.7zM306.0 1076.3h12.7v11.8h-12.7zM306.0 1392.5h12.7v11.8h-12.7zM318.4 1076.3h12.7v11.8h-12.7zM318.4 1392.5h12.7v11.8h-12.7zM330.8 1076.3h12.7v11.8h-12.7zM330.8 1392.5h12.7v11.8h-12.7zM343.2 1076.3h12.7v6.1h-12.7zM343.2 1386.8h12.7v11.8h-12.7zM355.5 1070.5h12.7v11.8h-12.7zM355.5 1381.0h12.7v11.8h-12.7zM367.9 1070.5h12.7v11.8h-12.7zM367.9 1375.3h12.7v11.8h-12.7zM380.3 1070.5h12.7v11.8h-12.7zM380.3 1369.5h12.7v11.8h-12.7zM392.6 1070.5h12.7v11.8h-12.7zM392.6 1363.8h12.7v11.8h-12.7zM405.0 1070.5h12.7v11.8h-12.7zM405.0 1358.0h12.7v11.8h-12.7zM417.4 1070.5h12.7v11.8h-12.7zM417.4 1346.5h12.7v17.6h-12.7zM429.8 1070.5h12.7v11.8h-12.7zM429.8 1340.8h12.7v11.8h-12.7zM442.1 1070.5h12.7v11.8h-12.7zM442.1 1335.0h12.7v11.8h-12.7zM454.5 1070.5h12.7v11.8h-12.7zM454.5 1329.3h12.7v11.8h-12.7zM466.9 1070.5h12.7v11.8h-12.7zM466.9 1323.5h12.7v6.1h-12.7zM479.2 1064.8h12.7v17.6h-12.7zM479.2 1317.8h12.7v11.8h-12.7zM491.6 1064.8h12.7v11.8h-12.7zM491.6 1317.8h12.7v6.1h-12.7zM504.0 1064.8h12.7v11.8h-12.7zM504.0 1312.0h12.7v11.8h-12.7zM516.4 1064.8h12.7v11.8h-12.7zM516.4 1312.0h12.7v6.1h-12.7zM528.7 1064.8h12.7v11.8h-12.7zM528.7 1306.3h12.7v11.8h-12.7zM541.1 1064.8h12.7v11.8h-12.7zM541.1 1306.3h12.7v11.8h-12.7zM553.5 1064.8h12.7v11.8h-12.7zM553.5 1306.3h12.7v6.1h-12.7zM565.8 1064.8h12.7v11.8h-12.7zM565.8 1306.3h12.7v6.1h-12.7zM578.2 1064.8h12.7v11.8h-12.7zM578.2 1306.3h12.7v6.1h-12.7zM590.6 1064.8h12.7v11.8h-12.7zM590.6 1306.3h12.7v6.1h-12.7zM603.0 1064.8h12.7v17.6h-12.7zM603.0 1300.5h12.7v11.8h-12.7zM615.3 1070.5h12.7v23.3h-12.7zM615.3 1300.5h12.7v11.8h-12.7zM627.7 1070.5h12.7v23.3h-12.7zM627.7 1300.5h12.7v11.8h-12.7zM640.1 1070.5h12.7v17.6h-12.7zM640.1 1300.5h12.7v6.1h-12.7zM652.5 1076.3h12.7v6.1h-12.7zM652.5 1294.8h12.7v11.8h-12.7zM664.8 1294.8h12.7v11.8h-12.7zM677.2 1294.8h12.7v11.8h-12.7zM689.6 1294.8h12.7v11.8h-12.7zM701.9 1289.0h12.7v11.8h-12.7zM714.3 1289.0h12.7v11.8h-12.7zM726.7 1289.0h12.7v11.8h-12.7zM739.1 1289.0h12.7v6.1h-12.7zM751.4 1283.3h12.7v11.8h-12.7z"/>
<path fill="#6b6bff" d="M145.2 1105.0h12.7v17.6h-12.7zM145.2 1398.3h12.7v11.8h-12.7zM157.6 1105.0h12.7v11.8h-12.7zM157.6 1398.3h12.7v6.1h-12.7zM169.9 1105.0h12.7v11.8h-12.7zM169.9 1392.5h12.7v11.8h-12.7zM182.3 1099.3h12.7v17.6h-12.7zM182.3 1392.5h12.7v6.1h-12.7zM194.7 1099.3h12.7v17.6h-12.7zM194.7 1392.5h12.7v6.1h-12.7zM207.1 1099.3h12.7v17.6h-12.7zM207.1 1386.8h12.7v11.8h-12.7zM219.4 1099.3h12.7v17.6h-12.7zM219.4 1386.8h12.7v6.1h-12.7zM231.8 1093.5h12.7v23.3h-12.7zM231.8 1386.8h12.7v6.1h-12.7zM244.2 1093.5h12.7v23.3h-12.7zM244.2 1386.8h12.7v6.1h-12.7zM256.5 1093.5h12.7v17.6h-12.7zM256.5 1386.8h12.7v6.1h-12.7zM268.9 1093.5h12.7v17.6h-12.7zM268.9 1386.8h12.7v6.1h-12.7zM281.3 1093.5h12.7v17.6h-12.7zM281.3 1386.8h12.7v6.1h-12.7zM293.7 1093.5h12.7v11.8h-12.7zM293.7 1381.0h12.7v11.8h-12.7zM306.0 1087.8h12.7v17.6h-12.7zM306.0 1381.0h12.7v11.8h-12.7zM318.4 1087.8h12.7v11.8h-12.7zM318.4 1381.0h12.7v11.8h-12.7zM330.8 1087.8h12.7v11.8h-12.7zM330.8 1381.0h12.7v11.8h-12.7zM343.2 1082.0h12.7v17.6h-12.7zM343.2 1381.0h12.7v6.1h-12.7zM355.5 1082.0h12.7v17.6h-12.7zM355.5 1375.3h12.7v6.1h-12.7zM367.9 1082.0h12.7v23.3h-12.7zM367.9 1369.5h12.7v6.1h-12.7zM380.3 1082.0h12.7v23.3h-12.7zM380.3 1358.0h12.7v11.8h-12.7zM392.6 1082.0h12.7v23.3h-12.7zM392.6 1352.3h12.7v11.8h-12.7zM405.0 1082.0h12.7v23.3h-12.7zM405.0 1340.8h12.7v17.6h-12.7zM417.4 1082.0h12.7v17.6h-12.7zM417.4 1335.0h12.7v11.8h-12.7zM429.8 1082.0h12.7v17.6h-12.7zM429.8 1329.3h12.7v11.8h-12.7zM442.1 1082.0h12.7v17.6h-12.7zM442.1 1323.5h12.7v11.8h-12.7zM454.5 1082.0h12.7v11.8h-12.7zM454.5 1317.8h12.7v11.8h-12.7zM466.9 1082.0h12.7v11.8h-12.7zM466.9 1312.0h12.7v11.8h-12.7zM479.2 1082.0h12.7v11.8h-12.7zM479.2 1306.3h12.7v11.8h-12.7zM491.6 1076.3h12.7v17.6h-12.7zM491.6 1306.3h12.7v11.8h-12.7zM504.0 1076.3h12.7v17.6h-12.7zM504.0 1300.5h12.7v11.8h-12.7zM516.4 1076.3h12.7v17.6h-12.7zM516.4 1300.5h12.7v11.8h-12.7zM528.7 1076.3h12.7v11.8h-12.7zM528.7 1294.8h12.7v11.8h-12.7zM541.1 1076.3h12.7v11.8h-12.7zM541.1 1294.8h12.7v11.8h-12.7zM553.5 1076.3h12.7v11.8h-12.7zM553.5 1294.8h12.7v11.8h-12.7zM565.8 1076.3h12.7v17.6h-12.7zM565.8 1294.8h12.7v11.8h-12.7zM578.2 1076.3h12.7v17.6h-12.7zM578.2 1294.8h12.7v11.8h-12.7zM590.6 1076.3h12.7v23.3h-12.7zM590.6 1294.8h12.7v11.8h-12.7zM603.0 1082.0h12.7v11.8h-12.7zM603.0 1294.8h12.7v6.1h-12.7zM615.3 1093.5h12.7v6.1h-12.7zM615.3 1289.0h12.7v11.8h-12.7zM627.7 1093.5h12.7v6.1h-12.7zM627.7 1289.0h12.7v11.8h-12.7zM640.1 1093.5h12.7v6.1h-12.7zM640.1 1289.0h12.7v11.8h-12.7zM652.5 1093.5h12.7v6.1h-12.7zM652.5 1283.3h12.7v11.8h-12.7zM664.8 1093.5h12.7v6.1h-12.7zM664.8 1283.3h12.7v11.8h-12.7zM677.2 1283.3h12.7v11.8h-12.7zM689.6 1283.3h12.7v11.8h-12.7zM701.9 1277.5h12.7v11.8h-12.7zM714.3 1277.5h12.7v11.8h-12.7zM726.7 1277.5h12.7v11.8h-12.7zM739.1 1277.5h12.7v11.8h-12.7zM751.4 1277.5h12.7v6.1h-12.7z"/>
<path fill="#6363ff" d="M145.2 1122.3h12.7v11.8h-12.7zM145.2 1392.5h12.7v6.1h-12.7zM157.6 1116.5h12.7v17.6h-12.7zM157.6 1386.8h12.7v11.8h-12.7zM169.9 1116.5h12.7v17.6h-12.7zM169.9 1386.8h12.7v6.1h-12.7zM182.3 1116.5h12.7v17.6h-12.7zM182.3 1386.8h12.7v6.1h-12.7zM194.7 1116.5h12.7v17.6h-12.7zM194.7 1381.0h12.7v11.8h-12.7zM207.1 1116.5h12.7v17.6h-12.7zM207.1 1381.0h12.7v6.1h-12.7zM219.4 1116.5h12.7v17.6h-12.7zM219.4 1375.3h12.7v11.8h-12.7zM231.8 1116.5h12.7v17.6h-12.7zM231.8 1369.5h12.7v17.6h-12.7zM244.2 1116.5h12.7v17.6h-12.7zM244.2 1369.5h12.7v17.6h-12.7zM256.5 1110.8h12.7v23.3h-12.7zM256.5 1375.3h12.7v11.8h-12.7zM268.9 1110.8h12.7v23.3h-12.7zM268.9 1375.3h12.7v11.8h-12.7zM281.3 1110.8h12.7v17.6h-12.7zM281.3 1375.3h12.7v11.8h-12.7zM293.7 1105.0h12.7v29.1h-12.7zM293.7 1375.3h12.7v6.1h-12.7zM306.0 1105.0h12.7v29.1h-12.7zM306.0 1375.3h12.7v6.1h-12.7zM318.4 1099.3h12.7v34.8h-12.7zM318.4 1375.3h12.7v6.1h-12.7zM330.8 1099.3h12.7v34.8h-12.7zM330.8 1375.3h12.7v6.1h-12.7zM343.2 1099.3h12.7v34.8h-12.7zM343.2 1369.5h12.7v11.8h-12.7zM355.5 1099.3h12.7v29.1h-12.7zM355.5 1363.8h12.7v11.8h-12.7zM367.9 1105.0h12.7v23.3h-12.7zM367.9 1352.3h12.7v17.6h-12.7zM380.3 1105.0h12.7v23.3h-12.7zM380.3 1346.5h12.7v11.8h-12.7zM392.6 1105.0h12.7v23.3h-12.7zM392.6 1340.8h12.7v11.8h-12.7zM405.0 1105.0h12.7v17.6h-12.7zM405.0 1335.0h12.7v6.1h-12.7zM417.4 1099.3h12.7v23.3h-12.7zM417.4 1329.3h12.7v6.1h-12.7zM429.8 1099.3h12.7v23.3h-12.7zM429.8 1317.8h12.7v11.8h-12.7zM442.1 1099.3h12.7v17.6h-12.7zM442.1 1312.0h12.7v11.8h-12.7zM454.5 1093.5h12.7v23.3h-12.7zM454.5 1306.3h12.7v11.8h-12.7zM466.9 1093.5h12.7v23.3h-12.7zM466.9 1300.5h12.7v11.8h-12.7zM479.2 1093.5h12.7v17.6h-12.7zM479.2 1294.8h12.7v11.8h-12.7zM491.6 1093.5h12.7v17.6h-12.7zM491.6 1294.8h12.7v11.8h-12.7zM504.0 1093.5h12.7v11.8h-12.7zM504.0 1289.0h12.7v11.8h-12.7zM516.4 1093.5h12.7v11.8h-12.7zM516.4 1289.0h12.7v11.8h-12.7zM528.7 1087.8h12.7v11.8h-12.7zM528.7 1283.3h12.7v11.8h-12.7zM541.1 1087.8h12.7v11.8h-12.7zM541.1 1283.3h12.7v11.8h-12.7zM553.5 1087.8h12.7v11.8h-12.7zM553.5 1283.3h12.7v11.8h-12.7zM565.8 1093.5h12.7v11.8h-12.7zM565.8 1283.3h12.7v11.8h-12.7zM578.2 1093.5h12.7v11.8h-12.7zM578.2 1283.3h12.7v11.8h-12.7zM590.6 1283.3h12.7v11.8h-12.7zM603.0 1093.5h12.7v6.1h-12.7zM603.0 1277.5h12.7v17.6h-12.7zM615.3 1277.5h12.7v11.8h-12.7zM627.7 1277.5h12.7v11.8h-12.7zM640.1 1277.5h12.7v11.8h-12.7zM652.5 1271.8h12.7v11.8h-12.7zM664.8 1271.8h12.7v11.8h-12.7zM677.2 1093.5h12.7v6.1h-12.7zM677.2 1271.8h12.7v11.8h-12.7zM689.6 1093.5h12.7v6.1h-12.7zM689.6 1271.8h12.7v11.8h-12.7zM701.9 1093.5h12.7v6.1h-12.7zM701.9 1271.8h12.7v6.1h-12.7zM714.3 1093.5h12.7v6.1h-12.7zM714.3 1266.0h12.7v11.8h-12.7zM726.7 1266.0h12.7v11.8h-12.7zM739.1 1266.0h12.7v11.8h-12.7zM751.4 1266.0h12.7v11.8h-12.7z"/>
<path fill="#5a5aff" d="M145.2 1133.8h12.7v11.8h-12.7zM145.2 1386.8h12.7v6.1h-12.7zM157.6 1133.8h12.7v17.6h-12.7zM157.6 1381.0h12.7v6.1h-12.7zM169.9 1133.8h12.7v17.6h-12.7zM169.9 1381.0h12.7v6.1h-12.7zM182.3 1133.8h12.7v17.6h-12.7zM182.3 1375.3h12.7v11.8h-12.7zM194.7 1133.8h12.7v17.6h-12.7zM194.7 1375.3h12.7v6.1h-12.7zM207.1 1133.8h12.7v17.6h-12.7zM207.1 1369.5h12.7v11.8h-12.7zM219.4 1133.8h12.7v17.6h-12.7zM219.4 1363.8h12.7v11.8h-12.7zM231.8 1133.8h12.7v23.3h-12.7zM231.8 1363.8h12.7v6.1h-12.7zM244.2 1133.8h12.7v23.3h-12.7zM244.2 1363.8h12.7v6.1h-12.7zM256.5 1133.8h12.7v23.3h-12.7zM256.5 1358.0h12.7v17.6h-12.7zM268.9 1133.8h12.7v23.3h-12.7zM268.9 1358.0h12.7v17.6h-12.7zM281.3 1128.0h12.7v29.1h-12.7zM281.3 1358.0h12.7v17.6h-12.7zM293.7 1133.8h12.7v17.6h-12.7zM293.7 1358.0h12.7v17.6h-12.7zM306.0 1133.8h12.7v17.6h-12.7zM306.0 1358.0h12.7v17.6h-12.7zM318.4 1133.8h12.7v17.6h-12.7zM318.4 1363.8h12.7v11.8h-12.7zM330.8 1133.8h12.7v17.6h-12.7zM330.8 1363.8h12.7v11.8h-12.7zM343.2 1133.8h12.7v17.6h-12.7zM343.2 1358.0h12.7v11.8h-12.7zM355.5 1128.0h12.7v23.3h-12.7zM355.5 1346.5h12.7v17.6h-12.7zM367.9 1128.0h12.7v17.6h-12.7zM367.9 1340.8h12.7v11.8h-12.7zM380.3 1128.0h12.7v17.6h-12.7zM380.3 1335.0h12.7v11.8h-12.7zM392.6 1128.0h12.7v17.6h-12.7zM392.6 1329.3h12.7v11.8h-12.7zM405.0 1122.3h12.7v17.6h-12.7zM405.0 1323.5h12.7v11.8h-12.7zM417.4 1122.3h12.7v17.6h-12.7zM417.4 1317.8h12.7v11.8h-12.7zM429.8 1122.3h12.7v11.8h-12.7zM429.8 1306.3h12.7v11.8h-12.7zM442.1 1116.5h12.7v17.6h-12.7zM442.1 1300.5h12.7v11.8h-12.7zM454.5 1116.5h12.7v11.8h-12.7zM454.5 1289.0h12.7v17.6h-12.7zM466.9 1116.5h12.7v11.8h-12.7zM466.9 1283.3h12.7v17.6h-12.7zM479.2 1110.8h12.7v11.8h-12.7zM479.2 1283.3h12.7v11.8h-12.7zM491.6 1110.8h12.7v11.8h-12.7zM491.6 1277.5h12.7v17.6h-12.7zM504.0 1105.0h12.7v11.8h-12.7zM504.0 1277.5h12.7v11.8h-12.7zM516.4 1105.0h12.7v11.8h-12.7zM516.4 1277.5h12.7v11.8h-12.7zM528.7 1099.3h12.7v11.8h-12.7zM528.7 1271.8h12.7v11.8h-12.7zM541.1 1099.3h12.7v11.8h-12.7zM541.1 1271.8h12.7v11.8h-12.7zM553.5 1099.3h12.7v11.8h-12.7zM553.5 1271.8h12.7v11.8h-12.7zM565.8 1271.8h12.7v11.8h-12.7zM578.2 1271.8h12.7v11.8h-12.7zM590.6 1099.3h12.7v6.1h-12.7zM590.6 1271.8h12.7v11.8h-12.7zM603.0 1266.0h12.7v11.8h-12.7zM615.3 1266.0h12.7v11.8h-12.7zM627.7 1266.0h12.7v11.8h-12.7zM640.1 1266.0h12.7v11.8h-12.7zM652.5 1260.3h12.7v11.8h-12.7zM664.8 1260.3h12.7v11.8h-12.7zM677.2 1260.3h12.7v11.8h-12.7zM689.6 1254.5h12.7v17.6h-12.7zM701.9 1254.5h12.7v17.6h-12.7zM714.3 1254.5h12.7v11.8h-12.7zM726.7 1093.5h12.7v6.1h-12.7zM726.7 1254.5h12.7v11.8h-12.7zM739.1 1093.5h12.7v6.1h-12.7zM739.1 1248.8h12.7v17.6h-12.7zM751.4 1093.5h12.7v6.1h-12.7zM751.4 1248.8h12.7v17.6h-12.7z"/>
<path fill="#5252ff" d="M145.2 1145.3h12.7v17.6h-12.7zM145.2 1381.0h12.7v6.1h-12.7zM157.6 1151.0h12.7v11.8h-12.7zM157.6 1375.3h12.7v6.1h-12.7zM169.9 1151.0h12.7v17.6h-12.7zM169.9 1375.3h12.7v6.1h-12.7zM182.3 1151.0h12.7v17.6h-12.7zM182.3 1369.5h12.7v6.1h-12.7zM194.7 1151.0h12.7v17.6h-12.7zM194.7 1363.8h12.7v11.8h-12.7zM207.1 1151.0h12.7v23.3h-12.7zM207.1 1363.8h12.7v6.1h-12.7zM219.4 1151.0h12.7v23.3h-12.7zM219.4 1358.0h12.7v6.1h-12.7zM231.8 1156.8h12.7v17.6h-12.7zM231.8 1358.0h12.7v6.1h-12.7zM244.2 1156.8h12.7v17.6h-12.7zM244.2 1352.3h12.7v11.8h-12.7zM256.5 1156.8h12.7v17.6h-12.7zM256.5 1352.3h12.7v6.1h-12.7zM268.9 1156.8h12.7v11.8h-12.7zM268.9 1352.3h12.7v6.1h-12.7zM281.3 1156.8h12.7v11.8h-12.7zM281.3 1352.3h12.7v6.1h-12.7zM293.7 1151.0h12.7v17.6h-12.7zM293.7 1352.3h12.7v6.1h-12.7zM306.0 1151.0h12.7v17.6h-12.7zM306.0 1352.3h12.7v6.1h-12.7zM318.4 1151.0h12.7v17.6h-12.7zM318.4 1346.5h12.7v17.6h-12.7zM330.8 1151.0h12.7v11.8h-12.7zM330.8 1346.5h12.7v17.6h-12.7zM343.2 1151.0h12.7v11.8h-12.7zM343.2 1346.5h12.7v11.8h-12.7zM355.5 1151.0h12.7v11.8h-12.7zM355.5 1340.8h12.7v6.1h-12.7zM367.9 1145.3h12.7v11.8h-12.7zM367.9 1329.3h12.7v11.8h-12.7zM380.3 1145.3h12.7v11.8h-12.7zM380.3 1323.5h12.7v11.8h-12.7zM392.6 1145.3h12.7v6.1h-12.7zM392.6 1317.8h12.7v11.8h-12.7zM405.0 1139.5h12.7v11.8h-12.7zM405.0 1306.3h12.7v17.6h-12.7zM417.4 1139.5h12.7v6.1h-12.7zM417.4 1294.8h12.7v23.3h-12.7zM429.8 1133.8h12.7v11.8h-12.7zM429.8 1289.0h12.7v17.6h-12.7zM442.1 1133.8h12.7v11.8h-12.7zM442.1 1289.0h12.7v11.8h-12.7zM454.5 1128.0h12.7v11.8h-12.7zM454.5 1283.3h12.7v6.1h-12.7zM466.9 1128.0h12.7v6.1h-12.7zM466.9 1277.5h12.7v6.1h-12.7zM479.2 1122.3h12.7v11.8h-12.7zM479.2 1277.5h12.7v6.1h-12.7zM491.6 1122.3h12.7v6.1h-12.7zM491.6 1271.8h12.7v6.1h-12.7zM504.0 1116.5h12.7v6.1h-12.7zM504.0 1271.8h12.7v6.1h-12.7zM516.4 1116.5h12.7v6.1h-12.7zM516.4 1266.0h12.7v11.8h-12.7zM528.7 1110.8h12.7v6.1h-12.7zM528.7 1266.0h12.7v6.1h-12.7zM541.1 1260.3h12.7v11.8h-12.7zM553.5 1260.3h12.7v11.8h-12.7zM565.8 1105.0h12.7v6.1h-12.7zM565.8 1254.5h12.7v17.6h-12.7zM578.2 1254.5h12.7v17.6h-12.7zM590.6 1248.8h12.7v23.3h-12.7zM603.0 1099.3h12.7v6.1h-12.7zM603.0 1248.8h12.7v17.6h-12.7zM615.3 1099.3h12.7v6.1h-12.7zM615.3 1243.0h12.7v23.3h-12.7zM627.7 1099.3h12.7v6.1h-12.7zM627.7 1243.0h12.7v23.3h-12.7zM640.1 1099.3h12.7v6.1h-12.7zM640.1 1243.0h12.7v23.3h-12.7zM652.5 1099.3h12.7v6.1h-12.7zM652.5 1237.3h12.7v23.3h-12.7zM664.8 1099.3h12.7v6.1h-12.7zM664.8 1237.3h12.7v23.3h-12.7zM677.2 1099.3h12.7v6.1h-12.7zM677.2 1237.3h12.7v23.3h-12.7zM689.6 1231.5h12.7v23.3h-12.7zM701.9 1231.5h12.7v23.3h-12.7zM714.3 1225.8h12.7v29.1h-12.7zM726.7 1220.0h12.7v34.8h-12.7zM739.1 1099.3h12.7v11.8h-12.7zM739.1 1214.3h12.7v34.8h-12.7zM751.4 1099.3h12.7v17.6h-12.7zM751.4 1208.5h12.7v40.6h-12.7z"/>
<path fill="#4a4aff" d="M145.2 1162.5h12.7v17.6h-12.7zM145.2 1375.3h12.7v6.1h-12.7zM157.6 1162.5h12.7v23.3h-12.7zM157.6 1369.5h12.7v6.1h-12.7zM169.9 1168.3h12.7v17.6h-12.7zM169.9 1369.5h12.7v6.1h-12.7zM182.3 1168.3h12.7v17.6h-12.7zM182.3 1363.8h12.7v6.1h-12.7zM194.7 1168.3h12.7v17.6h-12.7zM194.7 1358.0h12.7v6.1h-12.7zM207.1 1174.0h12.7v11.8h-12.7zM207.1 1352.3h12.7v11.8h-12.7zM219.4 1174.0h12.7v11.8h-12.7zM219.4 1352.3h12.7v6.1h-12.7zM231.8 1174.0h12.7v11.8h-12.7zM231.8 1346.5h12.7v11.8h-12.7zM244.2 1174.0h12.7v11.8h-12.7zM244.2 1346.5h12.7v6.1h-12.7zM256.5 1174.0h12.7v11.8h-12.7zM256.5 1340.8h12.7v11.8h-12.7zM268.9 1168.3h12.7v17.6h-12.7zM268.9 1340.8h12.7v11.8h-12.7zM281.3 1168.3h12.7v11.8h-12.7zM281.3 1340.8h12.7v11.8h-12.7zM293.7 1168.3h12.7v11.8h-12.7zM293.7 1340.8h12.7v11.8h-12.7zM306.0 1168.3h12.7v11.8h-12.7zM306.0 1340.8h12.7v11.8h-12.7zM318.4 1168.3h12.7v6.1h-12.7zM318.4 1340.8h12.7v6.1h-12.7zM330.8 1162.5h12.7v11.8h-12.7zM330.8 1340.8h12.7v6.1h-12.7zM343.2 1162.5h12.7v6.1h-12.7zM343.2 1335.0h12.7v11.8h-12.7zM355.5 1162.5h12.7v6.1h-12.7zM355.5 1323.5h12.7v17.6h-12.7zM367.9 1156.8h12.7v6.1h-12.7zM367.9 1317.8h12.7v11.8h-12.7zM380.3 1156.8h12.7v6.1h-12.7zM380.3 1306.3h12.7v17.6h-12.7zM392.6 1151.0h12.7v6.1h-12.7zM392.6 1294.8h12.7v23.3h-12.7zM405.0 1151.0h12.7v6.1h-12.7zM405.0 1289.0h12.7v17.6h-12.7zM417.4 1145.3h12.7v6.1h-12.7zM417.4 1283.3h12.7v11.8h-12.7zM429.8 1277.5h12.7v11.8h-12.7zM442.1 1266.0h12.7v23.3h-12.7zM454.5 1260.3h12.7v23.3h-12.7zM466.9 1133.8h12.7v6.1h-12.7zM466.9 1248.8h12.7v29.1h-12.7zM479.2 1248.8h12.7v29.1h-12.7zM491.6 1243.0h12.7v29.1h-12.7zM504.0 1122.3h12.7v6.1h-12.7zM504.0 1237.3h12.7v34.8h-12.7zM516.4 1237.3h12.7v29.1h-12.7zM528.7 1231.5h12.7v34.8h-12.7zM541.1 1110.8h12.7v6.1h-12.7zM541.1 1225.8h12.7v34.8h-12.7zM553.5 1110.8h12.7v6.1h-12.7zM553.5 1225.8h12.7v34.8h-12.7zM565.8 1220.0h12.7v34.8h-12.7zM578.2 1105.0h12.7v6.1h-12.7zM578.2 1214.3h12.7v40.6h-12.7zM590.6 1208.5h12.7v40.6h-12.7zM603.0 1208.5h12.7v40.6h-12.7zM615.3 1208.5h12.7v34.8h-12.7zM627.7 1202.8h12.7v40.6h-12.7zM640.1 1202.8h12.7v40.6h-12.7zM652.5 1202.8h12.7v34.8h-12.7zM664.8 1202.8h12.7v34.8h-12.7zM677.2 1105.0h12.7v17.6h-12.7zM677.2 1197.0h12.7v40.6h-12.7zM689.6 1099.3h12.7v40.6h-12.7zM689.6 1185.5h12.7v46.3h-12.7zM701.9 1099.3h12.7v52.1h-12.7zM701.9 1179.8h12.7v52.1h-12.7zM714.3 1099.3h12.7v126.8h-12.7zM726.7 1099.3h12.7v121.1h-12.7zM739.1 1110.8h12.7v103.8h-12.7zM751.4 1116.5h12.7v92.3h-12.7z"/>
<path fill="#4242ff" d="M145.2 1179.8h12.7v23.3h-12.7zM145.2 1363.8h12.7v11.8h-12.7zM157.6 1185.5h12.7v17.6h-12.7zM157.6 1358.0h12.7v11.8h-12.7zM169.9 1185.5h12.7v17.6h-12.7zM169.9 1358.0h12.7v11.8h-12.7zM182.3 1185.5h12.7v17.6h-12.7zM182.3 1352.3h12.7v11.8h-12.7zM194.7 1185.5h12.7v17.6h-12.7zM194.7 1346.5h12.7v11.8h-12.7zM207.1 1185.5h12.7v17.6h-12.7zM207.1 1340.8h12.7v11.8h-12.7zM219.4 1185.5h12.7v11.8h-12.7zM219.4 1335.0h12.7v17.6h-12.7zM231.8 1185.5h12.7v11.8h-12.7zM231.8 1335.0h12.7v11.8h-12.7zM244.2 1185.5h12.7v11.8h-12.7zM244.2 1329.3h12.7v17.6h-12.7zM256.5 1185.5h12.7v11.8h-12.7zM256.5 1329.3h12.7v11.8h-12.7zM268.9 1185.5h12.7v6.1h-12.7zM268.9 1323.5h12.7v17.6h-12.7zM281.3 1179.8h12.7v11.8h-12.7zM281.3 1323.5h12.7v17.6h-12.7zM293.7 1179.8h12.7v6.1h-12.7zM293.7 1323.5h12.7v17.6h-12.7zM306.0 1179.8h12.7v6.1h-12.7zM306.0 1323.5h12.7v17.6h-12.7zM318.4 1174.0h12.7v6.1h-12.7zM318.4 1323.5h12.7v17.6h-12.7zM330.8 1174.0h12.7v6.1h-12.7zM330.8 1323.5h12.7v17.6h-12.7zM343.2 1168.3h12.7v6.1h-12.7zM343.2 1312.0h12.7v23.3h-12.7zM355.5 1168.3h12.7v6.1h-12.7zM355.5 1300.5h12.7v23.3h-12.7zM367.9 1162.5h12.7v6.1h-12.7zM367.9 1294.8h12.7v23.3h-12.7zM380.3 1283.3h12.7v23.3h-12.7zM392.6 1156.8h12.7v6.1h-12.7zM392.6 1271.8h12.7v23.3h-12.7zM405.0 1260.3h12.7v29.1h-12.7zM417.4 1254.5h12.7v29.1h-12.7zM429.8 1145.3h12.7v6.1h-12.7zM429.8 1248.8h12.7v29.1h-12.7zM442.1 1243.0h12.7v23.3h-12.7zM454.5 1139.5h12.7v6.1h-12.7zM454.5 1237.3h12.7v23.3h-12.7zM466.9 1231.5h12.7v17.6h-12.7zM479.2 1225.8h12.7v23.3h-12.7zM491.6 1128.0h12.7v6.1h-12.7zM491.6 1220.0h12.7v23.3h-12.7zM504.0 1214.3h12.7v23.3h-12.7zM516.4 1208.5h12.7v29.1h-12.7zM528.7 1116.5h12.7v6.1h-12.7zM528.7 1202.8h12.7v29.1h-12.7zM541.1 1197.0h12.7v29.1h-12.7zM553.5 1191.3h12.7v34.8h-12.7zM565.8 1110.8h12.7v6.1h-12.7zM565.8 1185.5h12.7v34.8h-12.7zM578.2 1174.0h12.7v40.6h-12.7zM590.6 1105.0h12.7v6.1h-12.7zM590.6 1168.3h12.7v40.6h-12.7zM603.0 1105.0h12.7v6.1h-12.7zM603.0 1156.8h12.7v52.1h-12.7zM615.3 1105.0h12.7v6.1h-12.7zM615.3 1145.3h12.7v63.6h-12.7zM627.7 1105.0h12.7v6.1h-12.7zM627.7 1133.8h12.7v69.3h-12.7zM640.1 1105.0h12.7v6.1h-12.7zM640.1 1122.3h12.7v80.8h-12.7zM652.5 1105.0h12.7v98.1h-12.7zM664.8 1105.0h12.7v98.1h-12.7zM677.2 1122.3h12.7v75.1h-12.7zM689.6 1139.5h12.7v46.3h-12.7zM701.9 1151.0h12.7v29.1h-12.7z"/>
<path fill="#3a3aff" d="M145.2 1202.8h12.7v17.6h-12.7zM145.2 1352.3h12.7v11.8h-12.7zM157.6 1202.8h12.7v17.6h-12.7zM157.6 1352.3h12.7v6.1h-12.7zM169.9 1202.8h12.7v11.8h-12.7zM169.9 1346.5h12.7v11.8h-12.7zM182.3 1202.8h12.7v11.8h-12.7zM182.3 1340.8h12.7v11.8h-12.7zM194.7 1202.8h12.7v11.8h-12.7zM194.7 1335.0h12.7v11.8h-12.7zM207.1 1202.8h12.7v11.8h-12.7zM207.1 1335.0h12.7v6.1h-12.7zM219.4 1197.0h12.7v11.8h-12.7zM219.4 1329.3h12.7v6.1h-12.7zM231.8 1197.0h12.7v11.8h-12.7zM231.8 1323.5h12.7v11.8h-12.7zM244.2 1197.0h12.7v6.1h-12.7zM244.2 1317.8h12.7v11.8h-12.7zM256.5 1197.0h12.7v6.1h-12.7zM256.5 1317.8h12.7v11.8h-12.7zM268.9 1191.3h12.7v6.1h-12.7zM268.9 1312.0h12.7v11.8h-12.7zM281.3 1191.3h12.7v6.1h-12.7zM281.3 1306.3h12.7v17.6h-12.7zM293.7 1185.5h12.7v6.1h-12.7zM293.7 1300.5h12.7v23.3h-12.7zM306.0 1185.5h12.7v6.1h-12.7zM306.0 1294.8h12.7v29.1h-12.7zM318.4 1179.8h12.7v6.1h-12.7zM318.4 1289.0h12.7v34.8h-12.7zM330.8 1283.3h12.7v40.6h-12.7zM343.2 1174.0h12.7v6.1h-12.7zM343.2 1277.5h12.7v34.8h-12.7zM355.5 1271.8h12.7v29.1h-12.7zM367.9 1260.3h12.7v34.8h-12.7zM380.3 1162.5h12.7v6.1h-12.7zM380.3 1254.5h12.7v29.1h-12.7zM392.6 1248.8h12.7v23.3h-12.7zM405.0 1243.0h12.7v17.6h-12.7zM417.4 1151.0h12.7v6.1h-12.7zM417.4 1237.3h12.7v17.6h-12.7zM429.8 1231.5h12.7v17.6h-12.7zM442.1 1225.8h12.7v17.6h-12.7zM454.5 1220.0h12.7v17.6h-12.7zM466.9 1214.3h12.7v17.6h-12.7zM479.2 1133.8h12.7v6.1h-12.7zM479.2 1208.5h12.7v17.6h-12.7zM491.6 1202.8h12.7v17.6h-12.7zM504.0 1197.0h12.7v17.6h-12.7zM516.4 1122.3h12.7v6.1h-12.7zM516.4 1191.3h12.7v17.6h-12.7zM528.7 1179.8h12.7v23.3h-12.7zM541.1 1116.5h12.7v6.1h-12.7zM541.1 1174.0h12.7v23.3h-12.7zM553.5 1168.3h12.7v23.3h-12.7zM565.8 1156.8h12.7v29.1h-12.7zM578.2 1110.8h12.7v6.1h-12.7zM578.2 1145.3h12.7v29.1h-12.7zM590.6 1139.5h12.7v29.1h-12.7zM603.0 1133.8h12.7v23.3h-12.7zM615.3 1122.3h12.7v23.3h-12.7zM627.7 1110.8h12.7v23.3h-12.7zM640.1 1110.8h12.7v11.8h-12.7z"/>
<path fill="#3131ff" d="M145.2 1220.0h12.7v11.8h-12.7zM145.2 1346.5h12.7v6.1h-12.7zM157.6 1220.0h12.7v11.8h-12.7zM157.6 1340.8h12.7v11.8h-12.7zM169.9 1214.3h12.7v11.8h-12.7zM169.9 1335.0h12.7v11.8h-12.7zM182.3 1214.3h12.7v11.8h-12.7zM182.3 1335.0h12.7v6.1h-12.7zM194.7 1214.3h12.7v6.1h-12.7zM194.7 1329.3h12.7v6.1h-12.7zM207.1 1214.3h12.7v6.1h-12.7zM207.1 1323.5h12.7v11.8h-12.7zM219.4 1208.5h12.7v6.1h-12.7zM219.4 1317.8h12.7v11.8h-12.7zM231.8 1208.5h12.7v6.1h-12.7zM231.8 1312.0h12.7v11.8h-12.7zM244.2 1202.8h12.7v6.1h-12.7zM244.2 1306.3h12.7v11.8h-12.7zM256.5 1202.8h12.7v6.1h-12.7zM256.5 1300.5h12.7v17.6h-12.7zM268.9 1197.0h12.7v6.1h-12.7zM268.9 1294.8h12.7v17.6h-12.7zM281.3 1197.0h12.7v6.1h-12.7zM281.3 1289.0h12.7v17.6h-12.7zM293.7 1191.3h12.7v6.1h-12.7zM293.7 1283.3h12.7v17.6h-12.7zM306.0 1277.5h12.7v17.6h-12.7zM318.4 1185.5h12.7v6.1h-12.7zM318.4 1266.0h12.7v23.3h-12.7zM330.8 1179.8h12.7v6.1h-12.7zM330.8 1260.3h12.7v23.3h-12.7zM343.2 1254.5h12.7v23.3h-12.7zM355.5 1248.8h12.7v23.3h-12.7zM367.9 1168.3h12.7v6.1h-12.7zM367.9 1243.0h12.7v17.6h-12.7zM380.3 1237.3h12.7v17.6h-12.7zM392.6 1231.5h12.7v17.6h-12.7zM405.0 1156.8h12.7v6.1h-12.7zM405.0 1225.8h12.7v17.6h-12.7zM417.4 1220.0h12.7v17.6h-12.7zM429.8 1214.3h12.7v17.6h-12.7zM442.1 1145.3h12.7v6.1h-12.7zM442.1 1214.3h12.7v11.8h-12.7zM454.5 1208.5h12.7v11.8h-12.7zM466.9 1202.8h12.7v11.8h-12.7zM479.2 1197.0h12.7v11.8h-12.7zM491.6 1185.5h12.7v17.6h-12.7zM504.0 1128.0h12.7v6.1h-12.7zM504.0 1179.8h12.7v17.6h-12.7zM516.4 1174.0h12.7v17.6h-12.7zM528.7 1122.3h12.7v6.1h-12.7zM528.7 1162.5h12.7v17.6h-12.7zM541.1 1156.8h12.7v17.6h-12.7zM553.5 1116.5h12.7v6.1h-12.7zM553.5 1151.0h12.7v17.6h-12.7zM565.8 1145.3h12.7v11.8h-12.7zM578.2 1139.5h12.7v6.1h-12.7zM590.6 1128.0h12.7v11.8h-12.7zM603.0 1122.3h12.7v11.8h-12.7zM615.3 1110.8h12.7v11.8h-12.7z"/>
<path fill="#2929ff" d="M145.2 1231.5h12.7v11.8h-12.7zM145.2 1340.8h12.7v6.1h-12.7zM157.6 1231.5h12.7v6.1h-12.7zM157.6 1335.0h12.7v6.1h-12.7zM169.9 1225.8h12.7v11.8h-12.7zM169.9 1329.3h12.7v6.1h-12.7zM182.3 1225.8h12.7v6.1h-12.7zM182.3 1323.5h12.7v11.8h-12.7zM194.7 1220.0h12.7v11.8h-12.7zM194.7 1317.8h12.7v11.8h-12.7zM207.1 1220.0h12.7v6.1h-12.7zM207.1 1312.0h12.7v11.8h-12.7zM219.4 1214.3h12.7v11.8h-12.7zM219.4 1306.3h12.7v11.8h-12.7zM231.8 1214.3h12.7v6.1h-12.7zM231.8 1300.5h12.7v11.8h-12.7zM244.2 1208.5h12.7v6.1h-12.7zM244.2 1294.8h12.7v11.8h-12.7zM256.5 1208.5h12.7v6.1h-12.7zM256.5 1283.3h12.7v17.6h-12.7zM268.9 1202.8h12.7v6.1h-12.7zM268.9 1277.5h12.7v17.6h-12.7zM281.3 1271.8h12.7v17.6h-12.7zM293.7 1197.0h12.7v6.1h-12.7zM293.7 1266.0h12.7v17.6h-12.7zM306.0 1191.3h12.7v6.1h-12.7zM306.0 1260.3h12.7v17.6h-12.7zM318.4 1254.5h12.7v11.8h-12.7zM330.8 1248.8h12.7v11.8h-12.7zM343.2 1179.8h12.7v6.1h-12.7zM343.2 1243.0h12.7v11.8h-12.7zM355.5 1174.0h12.7v6.1h-12.7zM355.5 1237.3h12.7v11.8h-12.7zM367.9 1231.5h12.7v11.8h-12.7zM380.3 1168.3h12.7v6.1h-12.7zM380.3 1225.8h12.7v11.8h-12.7zM392.6 1162.5h12.7v6.1h-12.7zM392.6 1220.0h12.7v11.8h-12.7zM405.0 1214.3h12.7v11.8h-12.7zM417.4 1208.5h12.7v11.8h-12.7zM429.8 1151.0h12.7v6.1h-12.7zM429.8 1202.8h12.7v11.8h-12.7zM442.1 1197.0h12.7v17.6h-12.7zM454.5 1191.3h12.7v17.6h-12.7zM466.9 1139.5h12.7v6.1h-12.7zM466.9 1191.3h12.7v11.8h-12.7zM479.2 1185.5h12.7v11.8h-12.7zM491.6 1133.8h12.7v6.1h-12.7zM491.6 1174.0h12.7v11.8h-12.7zM504.0 1168.3h12.7v11.8h-12.7zM516.4 1128.0h12.7v6.1h-12.7zM516.4 1162.5h12.7v11.8h-12.7zM528.7 1156.8h12.7v6.1h-12.7zM541.1 1122.3h12.7v6.1h-12.7zM541.1 1151.0h12.7v6.1h-12.7zM553.5 1145.3h12.7v6.1h-12.7zM565.8 1116.5h12.7v6.1h-12.7zM565.8 1139.5h12.7v6.1h-12.7zM578.2 1133.8h12.7v6.1h-12.7zM590.6 1110.8h12.7v6.1h-12.7zM590.6 1122.3h12.7v6.1h-12.7zM603.0 1110.8h12.7v11.8h-12.7z"/>
<path fill="#2121ff" d="M145.2 1243.0h12.7v6.1h-12.7zM145.2 1335.0h12.7v6.1h-12.7zM157.6 1237.3h12.7v11.8h-12.7zM157.6 1329.3h12.7v6.1h-12.7zM169.9 1237.3h12.7v6.1h-12.7zM169.9 1317.8h12.7v11.8h-12.7zM182.3 1231.5h12.7v6.1h-12.7zM182.3 1312.0h12.7v11.8h-12.7zM194.7 1231.5h12.7v6.1h-12.7zM194.7 1306.3h12.7v11.8h-12.7zM207.1 1225.8h12.7v6.1h-12.7zM207.1 1300.5h12.7v11.8h-12.7zM219.4 1294.8h12.7v11.8h-12.7zM231.8 1220.0h12.7v6.1h-12.7zM231.8 1289.0h12.7v11.8h-12.7zM244.2 1214.3h12.7v6.1h-12.7zM244.2 1283.3h12.7v11.8h-12.7zM256.5 1277.5h12.7v6.1h-12.7zM268.9 1208.5h12.7v6.1h-12.7zM268.9 1271.8h12.7v6.1h-12.7zM281.3 1202.8h12.7v6.1h-12.7zM281.3 1260.3h12.7v11.8h-12.7zM293.7 1254.5h12.7v11.8h-12.7zM306.0 1248.8h12.7v11.8h-12.7zM318.4 1191.3h12.7v6.1h-12.7zM318.4 1243.0h12.7v11.8h-12.7zM330.8 1185.5h12.7v6.1h-12.7zM330.8 1237.3h12.7v11.8h-12.7zM343.2 1225.8h12.7v17.6h-12.7zM355.5 1225.8h12.7v11.8h-12.7zM367.9 1174.0h12.7v6.1h-12.7zM367.9 1220.0h12.7v11.8h-12.7zM380.3 1214.3h12.7v11.8h-12.7zM392.6 1208.5h12.7v11.8h-12.7zM405.0 1162.5h12.7v6.1h-12.7zM405.0 1202.8h12.7v11.8h-12.7zM417.4 1156.8h12.7v6.1h-12.7zM417.4 1197.0h12.7v11.8h-12.7zM429.8 1197.0h12.7v6.1h-12.7zM442.1 1191.3h12.7v6.1h-12.7zM454.5 1145.3h12.7v6.1h-12.7zM454.5 1185.5h12.7v6.1h-12.7zM466.9 1179.8h12.7v11.8h-12.7zM479.2 1139.5h12.7v6.1h-12.7zM479.2 1174.0h12.7v11.8h-12.7zM491.6 1168.3h12.7v6.1h-12.7zM553.5 1139.5h12.7v6.1h-12.7zM565.8 1133.8h12.7v6.1h-12.7zM578.2 1116.5h12.7v6.1h-12.7zM578.2 1128.0h12.7v6.1h-12.7zM590.6 1116.5h12.7v6.1h-12.7z"/>
<path fill="#1919ff" d="M145.2 1248.8h12.7v6.1h-12.7zM145.2 1323.5h12.7v11.8h-12.7zM157.6 1317.8h12.7v11.8h-12.7zM169.9 1312.0h12.7v6.1h-12.7zM182.3 1237.3h12.7v6.1h-12.7zM182.3 1300.5h12.7v11.8h-12.7zM194.7 1294.8h12.7v11.8h-12.7zM207.1 1289.0h12.7v11.8h-12.7zM219.4 1225.8h12.7v6.1h-12.7zM219.4 1283.3h12.7v11.8h-12.7zM231.8 1277.5h12.7v11.8h-12.7zM244.2 1271.8h12.7v11.8h-12.7zM256.5 1214.3h12.7v6.1h-12.7zM256.5 1266.0h12.7v11.8h-12.7zM268.9 1260.3h12.7v11.8h-12.7zM281.3 1254.5h12.7v6.1h-12.7zM293.7 1248.8h12.7v6.1h-12.7zM306.0 1197.0h12.7v6.1h-12.7zM306.0 1243.0h12.7v6.1h-12.7zM318.4 1231.5h12.7v11.8h-12.7zM330.8 1225.8h12.7v11.8h-12.7zM343.2 1220.0h12.7v6.1h-12.7zM355.5 1179.8h12.7v6.1h-12.7zM355.5 1214.3h12.7v11.8h-12.7zM367.9 1208.5h12.7v11.8h-12.7zM380.3 1208.5h12.7v6.1h-12.7zM392.6 1168.3h12.7v6.1h-12.7zM392.6 1202.8h12.7v6.1h-12.7zM405.0 1197.0h12.7v6.1h-12.7zM429.8 1156.8h12.7v6.1h-12.7zM429.8 1191.3h12.7v6.1h-12.7zM442.1 1151.0h12.7v6.1h-12.7zM442.1 1185.5h12.7v6.1h-12.7zM454.5 1179.8h12.7v6.1h-12.7zM466.9 1174.0h12.7v6.1h-12.7zM504.0 1133.8h12.7v6.1h-12.7zM504.0 1162.5h12.7v6.1h-12.7zM516.4 1156.8h12.7v6.1h-12.7zM528.7 1128.0h12.7v6.1h-12.7zM528.7 1151.0h12.7v6.1h-12.7zM541.1 1145.3h12.7v6.1h-12.7zM553.5 1122.3h12.7v6.1h-12.7zM578.2 1122.3h12.7v6.1h-12.7z"/>
<path fill="#1010ff" d="M145.2 1312.0h12.7v11.8h-12.7zM157.6 1306.3h12.7v11.8h-12.7zM169.9 1243.0h12.7v6.1h-12.7zM169.9 1300.5h12.7v11.8h-12.7zM182.3 1294.8h12.7v6.1h-12.7zM194.7 1289.0h12.7v6.1h-12.7zM207.1 1231.5h12.7v6.1h-12.7zM207.1 1283.3h12.7v6.1h-12.7zM219.4 1277.5h12.7v6.1h-12.7zM231.8 1271.8h12.7v6.1h-12.7zM244.2 1220.0h12.7v6.1h-12.7zM244.2 1266.0h12.7v6.1h-12.7zM256.5 1260.3h12.7v6.1h-12.7zM268.9 1254.5h12.7v6.1h-12.7zM281.3 1248.8h12.7v6.1h-12.7zM293.7 1202.8h12.7v6.1h-12.7zM293.7 1237.3h12.7v11.8h-12.7zM306.0 1231.5h12.7v11.8h-12.7zM318.4 1225.8h12.7v6.1h-12.7zM330.8 1220.0h12.7v6.1h-12.7zM343.2 1185.5h12.7v6.1h-12.7zM343.2 1214.3h12.7v6.1h-12.7zM380.3 1174.0h12.7v6.1h-12.7zM380.3 1202.8h12.7v6.1h-12.7zM417.4 1162.5h12.7v6.1h-12.7zM417.4 1191.3h12.7v6.1h-12.7zM429.8 1185.5h12.7v6.1h-12.7zM442.1 1179.8h12.7v6.1h-12.7zM454.5 1151.0h12.7v6.1h-12.7zM466.9 1145.3h12.7v6.1h-12.7zM479.2 1168.3h12.7v6.1h-12.7zM491.6 1139.5h12.7v6.1h-12.7zM491.6 1162.5h12.7v6.1h-12.7zM504.0 1156.8h12.7v6.1h-12.7zM516.4 1133.8h12.7v6.1h-12.7zM553.5 1133.8h12.7v6.1h-12.7zM565.8 1122.3h12.7v11.8h-12.7z"/>
<path fill="#0808ff" d="M145.2 1306.3h12.7v6.1h-12.7zM157.6 1248.8h12.7v6.1h-12.7zM157.6 1300.5h12.7v6.1h-12.7zM169.9 1294.8h12.7v6.1h-12.7zM182.3 1289.0h12.7v6.1h-12.7zM194.7 1237.3h12.7v6.1h-12.7zM194.7 1283.3h12.7v6.1h-12.7zM207.1 1277.5h12.7v6.1h-12.7zM219.4 1271.8h12.7v6.1h-12.7zM231.8 1225.8h12.7v6.1h-12.7zM231.8 1266.0h12.7v6.1h-12.7zM244.2 1260.3h12.7v6.1h-12.7zM256.5 1254.5h12.7v6.1h-12.7zM268.9 1248.8h12.7v6.1h-12.7zM281.3 1208.5h12.7v6.1h-12.7zM281.3 1243.0h12.7v6.1h-12.7zM355.5 1208.5h12.7v6.1h-12.7zM392.6 1197.0h12.7v6.1h-12.7zM405.0 1191.3h12.7v6.1h-12.7zM454.5 1174.0h12.7v6.1h-12.7zM479.2 1145.3h12.7v6.1h-12.7zM504.0 1139.5h12.7v6.1h-12.7zM516.4 1151.0h12.7v6.1h-12.7zM528.7 1145.3h12.7v6.1h-12.7zM541.1 1128.0h12.7v6.1h-12.7zM541.1 1139.5h12.7v6.1h-12.7zM553.5 1128.0h12.7v6.1h-12.7z"/>
<path fill="#0000ff" d="M145.2 1254.5h12.7v52.1h-12.7zM157.6 1254.5h12.7v46.3h-12.7zM169.9 1248.8h12.7v46.3h-12.7zM182.3 1243.0h12.7v46.3h-12.7zM194.7 1243.0h12.7v40.6h-12.7zM207.1 1237.3h12.7v40.6h-12.7zM219.4 1231.5h12.7v40.6h-12.7zM231.8 1231.5h12.7v34.8h-12.7zM244.2 1225.8h12.7v34.8h-12.7zM256.5 1220.0h12.7v34.8h-12.7zM268.9 1214.3h12.7v34.8h-12.7zM281.3 1214.3h12.7v29.1h-12.7zM293.7 1208.5h12.7v29.1h-12.7zM306.0 1202.8h12.7v29.1h-12.7zM318.4 1197.0h12.7v29.1h-12.7zM330.8 1191.3h12.7v29.1h-12.7zM343.2 1191.3h12.7v23.3h-12.7zM355.5 1185.5h12.7v23.3h-12.7zM367.9 1179.8h12.7v29.1h-12.7zM380.3 1179.8h12.7v23.3h-12.7zM392.6 1174.0h12.7v23.3h-12.7zM405.0 1168.3h12.7v23.3h-12.7zM417.4 1168.3h12.7v23.3h-12.7zM429.8 1162.5h12.7v23.3h-12.7zM442.1 1156.8h12.7v23.3h-12.7zM454.5 1156.8h12.7v17.6h-12.7zM466.9 1151.0h12.7v23.3h-12.7zM479.2 1151.0h12.7v17.6h-12.7zM491.6 1145.3h12.7v17.6h-12.7zM504.0 1145.3h12.7v11.8h-12.7zM516.4 1139.5h12.7v11.8h-12.7zM528.7 1133.8h12.7v11.8h-12.7zM541.1 1133.8h12.7v6.1h-12.7z"/>
</g>
<g shape-rendering="crispEdges">
<rect x="783.50" y="900.40" width="45.50" height="17.87" fill="#0000ff"/>
<rect x="783.50" y="917.67" width="45.50" height="17.87" fill="#0808ff"/>
<rect x="783.50" y="934.94" width="45.50" height="17.87" fill="#1010ff"/>
<rect x="783.50" y="952.22" width="45.50" height="17.87" fill="#1919ff"/>
<rect x="783.50" y="969.49" width="45.50" height="17.87" fill="#2121ff"/>
<rect x="783.50" y="986.76" width="45.50" height="17.87" fill="#2929ff"/>
<rect x="783.50" y="1004.03" width="45.50" height="17.87" fill="#3131ff"/>
<rect x="783.50" y="1021.30" width="45.50" height="17.87" fill="#3a3aff"/>
<rect x="783.50" y="1038.58" width="45.50" height="17.87" fill="#4242ff"/>
<rect x="783.50" y="1055.85" width="45.50" height="17.87" fill="#4a4aff"/>
<rect x="783.50" y="1073.12" width="45.50" height="17.87" fill="#5252ff"/>
<rect x="783.50" y="1090.39" width="45.50" height="17.87" fill="#5a5aff"/>
<rect x="783.50" y="1107.66" width="45.50" height="17.87" fill="#6363ff"/>
<rect x="783.50" y="1124.93" width="45.50" height="17.87" fill="#6b6bff"/>
<rect x="783.50" y="1142.21" width="45.50" height="17.87" fill="#7373ff"/>
<rect x="783.50" y="1159.48" width="45.50" height="17.87" fill="#7b7bff"/>
<rect x="783.50" y="1176.75" width="45.50" height="17.87" fill="#8484ff"/>
<rect x="783.50" y="1194.02" width="45.50" height="17.87" fill="#8c8cff"/>
<rect x="783.50" y="1211.29" width="45.50" height="17.87" fill="#9494ff"/>
<rect x="783.50" y="1228.57" width="45.50" height="17.87" fill="#9c9cff"/>
<rect x="783.50" y="1245.84" width="45.50" height="17.87" fill="#a5a5ff"/>
<rect x="783.50" y="1263.11" width="45.50" height="17.87" fill="#adadff"/>
<rect x="783.50" y="1280.38" width="45.50" height="17.87" fill="#b5b5ff"/>
<rect x="783.50" y="1297.65" width="45.50" height="17.87" fill="#bdbdff"/>
<rect x="783.50" y="1314.92" width="45.50" height="17.87" fill="#c5c5ff"/>
<rect x="783.50" y="1332.20" width="45.50" height="17.87" fill="#ceceff"/>
<rect x="783.50" y="1349.47" width="45.50" height="17.87" fill="#d6d6ff"/>
<rect x="783.50" y="1366.74" width="45.50" height="17.87" fill="#dedeff"/>
<rect x="783.50" y="1384.01" width="45.50" height="17.87" fill="#e6e6ff"/>
<rect x="783.50" y="1401.28" width="45.50" height="17.87" fill="#efefff"/>
<rect x="783.50" y="1418.56" width="45.50" height="17.87" fill="#f7f7ff"/>
<rect x="783.50" y="1435.83" width="45.50" height="17.87" fill="#ffffff"/>
</g>
<rect x="783.50" y="900.40" width="45.50" height="552.70" fill="none" stroke="#000" stroke-width="1.3"/>
<line x1="829.00" y1="900.40" x2="839.50" y2="900.40" stroke="#000" stroke-width="1.3"/>
<line x1="829.00" y1="1176.75" x2="839.50" y2="1176.75" stroke="#000" stroke-width="1.3"/>
<line x1="829.00" y1="1453.10" x2="839.50" y2="1453.10" stroke="#000" stroke-width="1.3"/>
<text x="853.40" y="913.36" font-size="37.70">80.00</text>
<text x="853.49" y="1189.71" font-size="37.70">52.50</text>
<text x="853.12" y="1466.06" font-size="37.70">25.00</text>
<rect x="145.20" y="886.50" width="618.60" height="580.80" fill="none" stroke="#000" stroke-width="2.3"/>
<line x1="134.20" y1="889.80" x2="145.20" y2="889.80" stroke="#000" stroke-width="2"/>
<text x="62.89" y="900.99" font-size="37.80">800</text>
<line x1="134.20" y1="1004.92" x2="145.20" y2="1004.92" stroke="#000" stroke-width="2"/>
<text x="62.89" y="1016.11" font-size="37.80">780</text>
<line x1="134.20" y1="1120.04" x2="145.20" y2="1120.04" stroke="#000" stroke-width="2"/>
<text x="62.89" y="1131.23" font-size="37.80">760</text>
<line x1="134.20" y1="1235.16" x2="145.20" y2="1235.16" stroke="#000" stroke-width="2"/>
<text x="62.89" y="1246.35" font-size="37.80">740</text>
<line x1="134.20" y1="1350.28" x2="145.20" y2="1350.28" stroke="#000" stroke-width="2"/>
<text x="62.89" y="1361.47" font-size="37.80">720</text>
<line x1="134.20" y1="1465.40" x2="145.20" y2="1465.40" stroke="#000" stroke-width="2"/>
<text x="62.89" y="1476.59" font-size="37.80">700</text>
<line x1="237.70" y1="1467.30" x2="237.70" y2="1478.30" stroke="#000" stroke-width="2"/>
<text x="200.76" y="1516.22" font-size="37.50">1.62</text>
<line x1="367.65" y1="1467.30" x2="367.65" y2="1478.30" stroke="#000" stroke-width="2"/>
<text x="330.52" y="1516.22" font-size="37.50">1.65</text>
<line x1="497.60" y1="1467.30" x2="497.60" y2="1478.30" stroke="#000" stroke-width="2"/>
<text x="460.52" y="1516.22" font-size="37.50">1.68</text>
<line x1="627.55" y1="1467.30" x2="627.55" y2="1478.30" stroke="#000" stroke-width="2"/>
<text x="590.57" y="1516.60" font-size="37.50">1.71</text>
<line x1="757.50" y1="1467.30" x2="757.50" y2="1478.30" stroke="#000" stroke-width="2"/>
<text x="720.14" y="1516.60" font-size="37.50">1.74</text>
<text x="566.13" y="848.90" font-size="37.40">Collection efficiency (%)</text>
<text x="235.54" y="1577.00" font-size="37.20">Central disk diameter (<tspan font-family="Liberation Serif, serif">μ</tspan><tspan dx="0.8">m</tspan><tspan dx="1.6">)</tspan></text>
<text x="0" y="0" font-size="37.50" transform="translate(33.20 1318.09) rotate(-90)">Wavelength (nm)</text>
<text x="0.28" y="911.50" font-size="47.50" letter-spacing="3">c)</text>
<g shape-rendering="crispEdges">
<path fill="#f7f7ff" d="M1182.0 904.6h12.5v17.4h-12.5zM1194.2 904.6h12.5v6.0h-12.5zM1194.2 916.1h12.5v6.0h-12.5zM1206.3 898.9h12.5v17.4h-12.5zM1218.5 898.9h12.5v6.0h-12.5zM1218.5 910.3h12.5v6.0h-12.5zM1230.6 893.2h12.5v17.4h-12.5zM1242.8 893.2h12.5v17.4h-12.5zM1254.9 887.5h12.5v6.0h-12.5zM1254.9 898.9h12.5v6.0h-12.5zM1267.0 887.5h12.5v11.7h-12.5zM1279.2 887.5h12.5v6.0h-12.5zM1291.3 887.5h12.5v6.0h-12.5z"/>
<path fill="#efefff" d="M1182.0 898.9h12.5v6.0h-12.5zM1182.0 921.8h12.5v6.0h-12.5zM1194.2 893.2h12.5v11.7h-12.5zM1194.2 921.8h12.5v6.0h-12.5zM1206.3 893.2h12.5v6.0h-12.5zM1206.3 916.1h12.5v6.0h-12.5zM1218.5 887.5h12.5v11.7h-12.5zM1218.5 916.1h12.5v6.0h-12.5zM1230.6 887.5h12.5v6.0h-12.5zM1230.6 910.3h12.5v6.0h-12.5zM1242.8 887.5h12.5v6.0h-12.5zM1242.8 910.3h12.5v6.0h-12.5zM1254.9 904.6h12.5v6.0h-12.5zM1267.0 898.9h12.5v6.0h-12.5zM1279.2 893.2h12.5v11.7h-12.5zM1291.3 893.2h12.5v6.0h-12.5zM1303.5 887.5h12.5v6.0h-12.5z"/>
<path fill="#e6e6ff" d="M1182.0 887.5h12.5v11.7h-12.5zM1182.0 927.5h12.5v6.0h-12.5zM1194.2 887.5h12.5v6.0h-12.5zM1194.2 927.5h12.5v6.0h-12.5zM1206.3 887.5h12.5v6.0h-12.5zM1206.3 921.8h12.5v6.0h-12.5zM1218.5 921.8h12.5v6.0h-12.5zM1230.6 916.1h12.5v6.0h-12.5zM1242.8 916.1h12.5v6.0h-12.5zM1254.9 910.3h12.5v6.0h-12.5zM1267.0 904.6h12.5v6.0h-12.5zM1279.2 904.6h12.5v6.0h-12.5zM1291.3 898.9h12.5v6.0h-12.5zM1303.5 893.2h12.5v6.0h-12.5zM1315.7 887.5h12.5v6.0h-12.5z"/>
<path fill="#dedeff" d="M1182.0 933.2h12.5v6.0h-12.5zM1194.2 933.2h12.5v6.0h-12.5zM1206.3 927.5h12.5v6.0h-12.5zM1218.5 927.5h12.5v6.0h-12.5zM1230.6 921.8h12.5v6.0h-12.5zM1242.8 921.8h12.5v6.0h-12.5zM1254.9 916.1h12.5v6.0h-12.5zM1267.0 910.3h12.5v6.0h-12.5zM1279.2 910.3h12.5v6.0h-12.5zM1291.3 904.6h12.5v6.0h-12.5zM1303.5 898.9h12.5v6.0h-12.5zM1315.7 893.2h12.5v6.0h-12.5zM1327.8 887.5h12.5v6.0h-12.5zM1668.0 1458.7h12.5v6.0h-12.5zM1680.2 1458.7h12.5v6.0h-12.5zM1692.3 1458.7h12.5v6.0h-12.5zM1704.5 1453.0h12.5v11.7h-12.5zM1716.6 1453.0h12.5v11.7h-12.5zM1728.8 1453.0h12.5v11.7h-12.5zM1740.9 1453.0h12.5v11.7h-12.5zM1753.1 1453.0h12.5v11.7h-12.5zM1765.2 1453.0h12.5v11.7h-12.5zM1777.3 1453.0h12.5v11.7h-12.5z"/>
<path fill="#d6d6ff" d="M1182.0 938.9h12.5v6.0h-12.5zM1194.2 938.9h12.5v6.0h-12.5zM1206.3 933.2h12.5v6.0h-12.5zM1218.5 933.2h12.5v6.0h-12.5zM1230.6 927.5h12.5v6.0h-12.5zM1242.8 927.5h12.5v6.0h-12.5zM1254.9 921.8h12.5v6.0h-12.5zM1267.0 916.1h12.5v6.0h-12.5zM1279.2 916.1h12.5v6.0h-12.5zM1291.3 910.3h12.5v6.0h-12.5zM1303.5 904.6h12.5v6.0h-12.5zM1315.7 898.9h12.5v6.0h-12.5zM1327.8 893.2h12.5v6.0h-12.5zM1340.0 887.5h12.5v6.0h-12.5zM1437.2 1458.7h12.5v6.0h-12.5zM1449.3 1458.7h12.5v6.0h-12.5zM1461.5 1453.0h12.5v11.7h-12.5zM1473.6 1453.0h12.5v11.7h-12.5zM1485.8 1453.0h12.5v11.7h-12.5zM1497.9 1453.0h12.5v11.7h-12.5zM1510.0 1453.0h12.5v11.7h-12.5zM1522.2 1447.3h12.5v17.4h-12.5zM1534.3 1447.3h12.5v17.4h-12.5zM1546.5 1447.3h12.5v17.4h-12.5zM1558.7 1447.3h12.5v17.4h-12.5zM1570.8 1447.3h12.5v17.4h-12.5zM1583.0 1447.3h12.5v17.4h-12.5zM1595.1 1447.3h12.5v17.4h-12.5zM1607.2 1441.6h12.5v23.1h-12.5zM1619.4 1441.6h12.5v23.1h-12.5zM1631.5 1441.6h12.5v23.1h-12.5zM1643.7 1441.6h12.5v23.1h-12.5zM1655.8 1441.6h12.5v23.1h-12.5zM1668.0 1441.6h12.5v17.4h-12.5zM1680.2 1441.6h12.5v17.4h-12.5zM1692.3 1441.6h12.5v17.4h-12.5zM1704.5 1435.8h12.5v17.4h-12.5zM1716.6 1435.8h12.5v17.4h-12.5zM1728.8 1435.8h12.5v17.4h-12.5zM1740.9 1435.8h12.5v17.4h-12.5zM1753.1 1435.8h12.5v17.4h-12.5zM1765.2 1435.8h12.5v17.4h-12.5zM1777.3 1435.8h12.5v17.4h-12.5z"/>
<path fill="#ceceff" d="M1182.0 944.6h12.5v6.0h-12.5zM1194.2 944.6h12.5v6.0h-12.5zM1206.3 938.9h12.5v11.7h-12.5zM1218.5 938.9h12.5v6.0h-12.5zM1230.6 933.2h12.5v11.7h-12.5zM1242.8 933.2h12.5v6.0h-12.5zM1254.9 927.5h12.5v6.0h-12.5zM1267.0 921.8h12.5v11.7h-12.5zM1279.2 921.8h12.5v6.0h-12.5zM1291.3 916.1h12.5v6.0h-12.5zM1303.5 910.3h12.5v6.0h-12.5zM1315.7 904.6h12.5v6.0h-12.5zM1327.8 898.9h12.5v6.0h-12.5zM1340.0 893.2h12.5v6.0h-12.5zM1340.0 1458.7h12.5v6.0h-12.5zM1352.1 1458.7h12.5v6.0h-12.5zM1364.2 1458.7h12.5v6.0h-12.5zM1376.4 1458.7h12.5v6.0h-12.5zM1388.5 1453.0h12.5v11.7h-12.5zM1400.7 1453.0h12.5v11.7h-12.5zM1412.8 1453.0h12.5v11.7h-12.5zM1425.0 1447.3h12.5v17.4h-12.5zM1437.2 1447.3h12.5v11.7h-12.5zM1449.3 1447.3h12.5v11.7h-12.5zM1461.5 1441.6h12.5v11.7h-12.5zM1473.6 1441.6h12.5v11.7h-12.5zM1485.8 1441.6h12.5v11.7h-12.5zM1497.9 1441.6h12.5v11.7h-12.5zM1510.0 1441.6h12.5v11.7h-12.5zM1522.2 910.3h12.5v6.0h-12.5zM1522.2 1435.8h12.5v11.7h-12.5zM1534.3 904.6h12.5v6.0h-12.5zM1534.3 1435.8h12.5v11.7h-12.5zM1546.5 898.9h12.5v6.0h-12.5zM1546.5 1435.8h12.5v11.7h-12.5zM1558.7 893.2h12.5v11.7h-12.5zM1558.7 1435.8h12.5v11.7h-12.5zM1570.8 887.5h12.5v6.0h-12.5zM1570.8 1430.1h12.5v17.4h-12.5zM1583.0 1430.1h12.5v17.4h-12.5zM1595.1 1430.1h12.5v17.4h-12.5zM1607.2 1430.1h12.5v11.7h-12.5zM1619.4 1430.1h12.5v11.7h-12.5zM1631.5 1430.1h12.5v11.7h-12.5zM1643.7 1430.1h12.5v11.7h-12.5zM1655.8 1430.1h12.5v11.7h-12.5zM1668.0 1424.4h12.5v17.4h-12.5zM1680.2 1424.4h12.5v17.4h-12.5zM1692.3 1424.4h12.5v17.4h-12.5zM1704.5 1424.4h12.5v11.7h-12.5zM1716.6 1424.4h12.5v11.7h-12.5zM1728.8 1424.4h12.5v11.7h-12.5zM1740.9 1424.4h12.5v11.7h-12.5zM1753.1 1424.4h12.5v11.7h-12.5zM1765.2 1424.4h12.5v11.7h-12.5zM1777.3 1424.4h12.5v11.7h-12.5z"/>
<path fill="#c5c5ff" d="M1182.0 950.3h12.5v6.0h-12.5zM1182.0 1458.7h12.5v6.0h-12.5zM1194.2 950.3h12.5v6.0h-12.5zM1194.2 1458.7h12.5v6.0h-12.5zM1206.3 950.3h12.5v6.0h-12.5zM1206.3 1458.7h12.5v6.0h-12.5zM1218.5 944.6h12.5v6.0h-12.5zM1218.5 1458.7h12.5v6.0h-12.5zM1230.6 944.6h12.5v6.0h-12.5zM1230.6 1458.7h12.5v6.0h-12.5zM1242.8 938.9h12.5v6.0h-12.5zM1242.8 1458.7h12.5v6.0h-12.5zM1254.9 933.2h12.5v6.0h-12.5zM1254.9 1458.7h12.5v6.0h-12.5zM1267.0 933.2h12.5v6.0h-12.5zM1267.0 1458.7h12.5v6.0h-12.5zM1279.2 927.5h12.5v6.0h-12.5zM1279.2 1458.7h12.5v6.0h-12.5zM1291.3 921.8h12.5v6.0h-12.5zM1291.3 1458.7h12.5v6.0h-12.5zM1303.5 916.1h12.5v6.0h-12.5zM1303.5 1453.0h12.5v11.7h-12.5zM1315.7 910.3h12.5v6.0h-12.5zM1315.7 1453.0h12.5v11.7h-12.5zM1327.8 904.6h12.5v6.0h-12.5zM1327.8 1453.0h12.5v11.7h-12.5zM1340.0 898.9h12.5v6.0h-12.5zM1340.0 1453.0h12.5v6.0h-12.5zM1352.1 887.5h12.5v6.0h-12.5zM1352.1 1447.3h12.5v11.7h-12.5zM1364.2 1447.3h12.5v11.7h-12.5zM1376.4 1447.3h12.5v11.7h-12.5zM1388.5 1447.3h12.5v6.0h-12.5zM1400.7 1441.6h12.5v11.7h-12.5zM1412.8 1441.6h12.5v11.7h-12.5zM1425.0 1441.6h12.5v6.0h-12.5zM1437.2 1435.8h12.5v11.7h-12.5zM1449.3 1435.8h12.5v11.7h-12.5zM1461.5 1435.8h12.5v6.0h-12.5zM1473.6 1430.1h12.5v11.7h-12.5zM1485.8 1430.1h12.5v11.7h-12.5zM1497.9 1430.1h12.5v11.7h-12.5zM1510.0 916.1h12.5v11.7h-12.5zM1510.0 1430.1h12.5v11.7h-12.5zM1522.2 904.6h12.5v6.0h-12.5zM1522.2 916.1h12.5v6.0h-12.5zM1522.2 1430.1h12.5v6.0h-12.5zM1534.3 898.9h12.5v6.0h-12.5zM1534.3 910.3h12.5v6.0h-12.5zM1534.3 1424.4h12.5v11.7h-12.5zM1546.5 893.2h12.5v6.0h-12.5zM1546.5 904.6h12.5v6.0h-12.5zM1546.5 1424.4h12.5v11.7h-12.5zM1558.7 887.5h12.5v6.0h-12.5zM1558.7 1424.4h12.5v11.7h-12.5zM1570.8 893.2h12.5v6.0h-12.5zM1570.8 1418.7h12.5v11.7h-12.5zM1583.0 887.5h12.5v6.0h-12.5zM1583.0 1418.7h12.5v11.7h-12.5zM1595.1 1418.7h12.5v11.7h-12.5zM1607.2 1418.7h12.5v11.7h-12.5zM1619.4 1418.7h12.5v11.7h-12.5zM1631.5 1418.7h12.5v11.7h-12.5zM1643.7 1418.7h12.5v11.7h-12.5zM1655.8 1418.7h12.5v11.7h-12.5zM1668.0 1418.7h12.5v6.0h-12.5zM1680.2 1418.7h12.5v6.0h-12.5zM1692.3 1413.0h12.5v11.7h-12.5zM1704.5 1413.0h12.5v11.7h-12.5zM1716.6 1413.0h12.5v11.7h-12.5zM1728.8 1413.0h12.5v11.7h-12.5zM1740.9 1413.0h12.5v11.7h-12.5zM1753.1 1413.0h12.5v11.7h-12.5zM1765.2 1413.0h12.5v11.7h-12.5zM1777.3 1413.0h12.5v11.7h-12.5z"/>
<path fill="#bdbdff" d="M1182.0 956.0h12.5v11.7h-12.5zM1182.0 1453.0h12.5v6.0h-12.5zM1194.2 956.0h12.5v6.0h-12.5zM1194.2 1453.0h12.5v6.0h-12.5zM1206.3 956.0h12.5v6.0h-12.5zM1206.3 1453.0h12.5v6.0h-12.5zM1218.5 950.3h12.5v6.0h-12.5zM1218.5 1453.0h12.5v6.0h-12.5zM1230.6 950.3h12.5v6.0h-12.5zM1230.6 1453.0h12.5v6.0h-12.5zM1242.8 944.6h12.5v6.0h-12.5zM1242.8 1453.0h12.5v6.0h-12.5zM1254.9 938.9h12.5v6.0h-12.5zM1254.9 1453.0h12.5v6.0h-12.5zM1267.0 938.9h12.5v6.0h-12.5zM1267.0 1447.3h12.5v11.7h-12.5zM1279.2 933.2h12.5v6.0h-12.5zM1279.2 1447.3h12.5v11.7h-12.5zM1291.3 927.5h12.5v6.0h-12.5zM1291.3 1447.3h12.5v11.7h-12.5zM1303.5 921.8h12.5v6.0h-12.5zM1303.5 1447.3h12.5v6.0h-12.5zM1315.7 916.1h12.5v6.0h-12.5zM1315.7 1447.3h12.5v6.0h-12.5zM1327.8 910.3h12.5v6.0h-12.5zM1327.8 1441.6h12.5v11.7h-12.5zM1340.0 904.6h12.5v6.0h-12.5zM1340.0 1441.6h12.5v11.7h-12.5zM1352.1 893.2h12.5v11.7h-12.5zM1352.1 1441.6h12.5v6.0h-12.5zM1364.2 887.5h12.5v6.0h-12.5zM1364.2 1441.6h12.5v6.0h-12.5zM1376.4 1435.8h12.5v11.7h-12.5zM1388.5 1435.8h12.5v11.7h-12.5zM1400.7 1435.8h12.5v6.0h-12.5zM1412.8 1430.1h12.5v11.7h-12.5zM1425.0 1430.1h12.5v11.7h-12.5zM1437.2 1430.1h12.5v6.0h-12.5zM1449.3 1430.1h12.5v6.0h-12.5zM1461.5 1424.4h12.5v11.7h-12.5zM1473.6 933.2h12.5v11.7h-12.5zM1473.6 1424.4h12.5v6.0h-12.5zM1485.8 927.5h12.5v11.7h-12.5zM1485.8 1424.4h12.5v6.0h-12.5zM1497.9 921.8h12.5v11.7h-12.5zM1497.9 1418.7h12.5v11.7h-12.5zM1510.0 910.3h12.5v6.0h-12.5zM1510.0 1418.7h12.5v11.7h-12.5zM1522.2 1418.7h12.5v11.7h-12.5zM1534.3 1413.0h12.5v11.7h-12.5zM1546.5 1413.0h12.5v11.7h-12.5zM1558.7 1413.0h12.5v11.7h-12.5zM1570.8 1413.0h12.5v6.0h-12.5zM1583.0 1413.0h12.5v6.0h-12.5zM1595.1 1413.0h12.5v6.0h-12.5zM1607.2 1407.3h12.5v11.7h-12.5zM1619.4 1407.3h12.5v11.7h-12.5zM1631.5 1407.3h12.5v11.7h-12.5zM1643.7 1407.3h12.5v11.7h-12.5zM1655.8 1407.3h12.5v11.7h-12.5zM1668.0 1407.3h12.5v11.7h-12.5zM1680.2 1407.3h12.5v11.7h-12.5zM1692.3 1407.3h12.5v6.0h-12.5zM1704.5 1401.6h12.5v11.7h-12.5zM1716.6 1401.6h12.5v11.7h-12.5zM1728.8 1401.6h12.5v11.7h-12.5zM1740.9 1401.6h12.5v11.7h-12.5zM1753.1 1401.6h12.5v11.7h-12.5zM1765.2 1395.9h12.5v17.4h-12.5zM1777.3 1395.9h12.5v17.4h-12.5z"/>
<path fill="#b5b5ff" d="M1182.0 967.5h12.5v6.0h-12.5zM1182.0 1447.3h12.5v6.0h-12.5zM1194.2 961.8h12.5v6.0h-12.5zM1194.2 1447.3h12.5v6.0h-12.5zM1206.3 961.8h12.5v6.0h-12.5zM1206.3 1447.3h12.5v6.0h-12.5zM1218.5 956.0h12.5v6.0h-12.5zM1218.5 1447.3h12.5v6.0h-12.5zM1230.6 956.0h12.5v6.0h-12.5zM1230.6 1447.3h12.5v6.0h-12.5zM1242.8 950.3h12.5v6.0h-12.5zM1242.8 1441.6h12.5v11.7h-12.5zM1254.9 944.6h12.5v6.0h-12.5zM1254.9 1441.6h12.5v11.7h-12.5zM1267.0 944.6h12.5v6.0h-12.5zM1267.0 1441.6h12.5v6.0h-12.5zM1279.2 938.9h12.5v6.0h-12.5zM1279.2 1441.6h12.5v6.0h-12.5zM1291.3 933.2h12.5v6.0h-12.5zM1291.3 1441.6h12.5v6.0h-12.5zM1303.5 927.5h12.5v6.0h-12.5zM1303.5 1441.6h12.5v6.0h-12.5zM1315.7 921.8h12.5v6.0h-12.5zM1315.7 1435.8h12.5v11.7h-12.5zM1327.8 916.1h12.5v6.0h-12.5zM1327.8 1435.8h12.5v6.0h-12.5zM1340.0 910.3h12.5v6.0h-12.5zM1340.0 978.9h12.5v6.0h-12.5zM1340.0 1435.8h12.5v6.0h-12.5zM1352.1 904.6h12.5v6.0h-12.5zM1352.1 973.2h12.5v11.7h-12.5zM1352.1 1430.1h12.5v11.7h-12.5zM1364.2 893.2h12.5v6.0h-12.5zM1364.2 973.2h12.5v11.7h-12.5zM1364.2 1430.1h12.5v11.7h-12.5zM1376.4 887.5h12.5v11.7h-12.5zM1376.4 967.5h12.5v11.7h-12.5zM1376.4 1430.1h12.5v6.0h-12.5zM1388.5 887.5h12.5v6.0h-12.5zM1388.5 961.8h12.5v11.7h-12.5zM1388.5 1430.1h12.5v6.0h-12.5zM1400.7 887.5h12.5v6.0h-12.5zM1400.7 956.0h12.5v17.4h-12.5zM1400.7 1424.4h12.5v11.7h-12.5zM1412.8 956.0h12.5v11.7h-12.5zM1412.8 1424.4h12.5v6.0h-12.5zM1425.0 950.3h12.5v17.4h-12.5zM1425.0 1424.4h12.5v6.0h-12.5zM1437.2 944.6h12.5v17.4h-12.5zM1437.2 1418.7h12.5v11.7h-12.5zM1449.3 944.6h12.5v11.7h-12.5zM1449.3 1418.7h12.5v11.7h-12.5zM1461.5 938.9h12.5v17.4h-12.5zM1461.5 1418.7h12.5v6.0h-12.5zM1473.6 944.6h12.5v6.0h-12.5zM1473.6 1413.0h12.5v11.7h-12.5zM1485.8 921.8h12.5v6.0h-12.5zM1485.8 938.9h12.5v6.0h-12.5zM1485.8 1413.0h12.5v11.7h-12.5zM1497.9 916.1h12.5v6.0h-12.5zM1497.9 933.2h12.5v6.0h-12.5zM1497.9 1413.0h12.5v6.0h-12.5zM1510.0 927.5h12.5v6.0h-12.5zM1510.0 1413.0h12.5v6.0h-12.5zM1522.2 898.9h12.5v6.0h-12.5zM1522.2 921.8h12.5v6.0h-12.5zM1522.2 1407.3h12.5v11.7h-12.5zM1534.3 893.2h12.5v6.0h-12.5zM1534.3 916.1h12.5v6.0h-12.5zM1534.3 1407.3h12.5v6.0h-12.5zM1546.5 887.5h12.5v6.0h-12.5zM1546.5 910.3h12.5v6.0h-12.5zM1546.5 1407.3h12.5v6.0h-12.5zM1558.7 904.6h12.5v6.0h-12.5zM1558.7 1401.6h12.5v11.7h-12.5zM1570.8 898.9h12.5v6.0h-12.5zM1570.8 1401.6h12.5v11.7h-12.5zM1583.0 893.2h12.5v6.0h-12.5zM1583.0 1401.6h12.5v11.7h-12.5zM1595.1 887.5h12.5v6.0h-12.5zM1595.1 1401.6h12.5v11.7h-12.5zM1607.2 1401.6h12.5v6.0h-12.5zM1619.4 1401.6h12.5v6.0h-12.5zM1631.5 1395.9h12.5v11.7h-12.5zM1643.7 1395.9h12.5v11.7h-12.5zM1655.8 1395.9h12.5v11.7h-12.5zM1668.0 1395.9h12.5v11.7h-12.5zM1680.2 1395.9h12.5v11.7h-12.5zM1692.3 1395.9h12.5v11.7h-12.5zM1704.5 1395.9h12.5v6.0h-12.5zM1716.6 1390.1h12.5v11.7h-12.5zM1728.8 1390.1h12.5v11.7h-12.5zM1740.9 1390.1h12.5v11.7h-12.5zM1753.1 1390.1h12.5v11.7h-12.5zM1765.2 1390.1h12.5v6.0h-12.5zM1777.3 1390.1h12.5v6.0h-12.5z"/>
<path fill="#adadff" d="M1182.0 973.2h12.5v17.4h-12.5zM1182.0 1441.6h12.5v6.0h-12.5zM1194.2 967.5h12.5v17.4h-12.5zM1194.2 1441.6h12.5v6.0h-12.5zM1206.3 967.5h12.5v11.7h-12.5zM1206.3 1441.6h12.5v6.0h-12.5zM1218.5 961.8h12.5v17.4h-12.5zM1218.5 1435.8h12.5v11.7h-12.5zM1230.6 961.8h12.5v11.7h-12.5zM1230.6 1435.8h12.5v11.7h-12.5zM1242.8 956.0h12.5v6.0h-12.5zM1242.8 1007.4h12.5v11.7h-12.5zM1242.8 1435.8h12.5v6.0h-12.5zM1254.9 950.3h12.5v6.0h-12.5zM1254.9 1001.7h12.5v17.4h-12.5zM1254.9 1435.8h12.5v6.0h-12.5zM1267.0 950.3h12.5v6.0h-12.5zM1267.0 1001.7h12.5v11.7h-12.5zM1267.0 1435.8h12.5v6.0h-12.5zM1279.2 944.6h12.5v6.0h-12.5zM1279.2 996.0h12.5v17.4h-12.5zM1279.2 1435.8h12.5v6.0h-12.5zM1291.3 938.9h12.5v6.0h-12.5zM1291.3 990.3h12.5v17.4h-12.5zM1291.3 1430.1h12.5v11.7h-12.5zM1303.5 933.2h12.5v6.0h-12.5zM1303.5 984.6h12.5v23.1h-12.5zM1303.5 1430.1h12.5v11.7h-12.5zM1315.7 927.5h12.5v6.0h-12.5zM1315.7 978.9h12.5v23.1h-12.5zM1315.7 1430.1h12.5v6.0h-12.5zM1327.8 921.8h12.5v6.0h-12.5zM1327.8 978.9h12.5v17.4h-12.5zM1327.8 1430.1h12.5v6.0h-12.5zM1340.0 916.1h12.5v6.0h-12.5zM1340.0 973.2h12.5v6.0h-12.5zM1340.0 984.6h12.5v11.7h-12.5zM1340.0 1424.4h12.5v11.7h-12.5zM1352.1 910.3h12.5v6.0h-12.5zM1352.1 967.5h12.5v6.0h-12.5zM1352.1 984.6h12.5v6.0h-12.5zM1352.1 1424.4h12.5v6.0h-12.5zM1364.2 898.9h12.5v17.4h-12.5zM1364.2 961.8h12.5v11.7h-12.5zM1364.2 1424.4h12.5v6.0h-12.5zM1376.4 898.9h12.5v17.4h-12.5zM1376.4 961.8h12.5v6.0h-12.5zM1376.4 978.9h12.5v6.0h-12.5zM1376.4 1418.7h12.5v11.7h-12.5zM1388.5 893.2h12.5v17.4h-12.5zM1388.5 956.0h12.5v6.0h-12.5zM1388.5 973.2h12.5v6.0h-12.5zM1388.5 1418.7h12.5v11.7h-12.5zM1400.7 893.2h12.5v11.7h-12.5zM1400.7 973.2h12.5v6.0h-12.5zM1400.7 1418.7h12.5v6.0h-12.5zM1412.8 887.5h12.5v11.7h-12.5zM1412.8 950.3h12.5v6.0h-12.5zM1412.8 967.5h12.5v6.0h-12.5zM1412.8 1418.7h12.5v6.0h-12.5zM1425.0 887.5h12.5v11.7h-12.5zM1425.0 944.6h12.5v6.0h-12.5zM1425.0 1413.0h12.5v11.7h-12.5zM1437.2 887.5h12.5v6.0h-12.5zM1437.2 961.8h12.5v6.0h-12.5zM1437.2 1413.0h12.5v6.0h-12.5zM1449.3 938.9h12.5v6.0h-12.5zM1449.3 956.0h12.5v6.0h-12.5zM1449.3 1413.0h12.5v6.0h-12.5zM1461.5 933.2h12.5v6.0h-12.5zM1461.5 1407.3h12.5v11.7h-12.5zM1473.6 927.5h12.5v6.0h-12.5zM1473.6 1407.3h12.5v6.0h-12.5zM1485.8 1407.3h12.5v6.0h-12.5zM1497.9 910.3h12.5v6.0h-12.5zM1497.9 1401.6h12.5v11.7h-12.5zM1510.0 898.9h12.5v11.7h-12.5zM1510.0 1401.6h12.5v11.7h-12.5zM1522.2 893.2h12.5v6.0h-12.5zM1522.2 1401.6h12.5v6.0h-12.5zM1534.3 1395.9h12.5v11.7h-12.5zM1546.5 1395.9h12.5v11.7h-12.5zM1558.7 1395.9h12.5v6.0h-12.5zM1570.8 1395.9h12.5v6.0h-12.5zM1583.0 1390.1h12.5v11.7h-12.5zM1595.1 1390.1h12.5v11.7h-12.5zM1607.2 1390.1h12.5v11.7h-12.5zM1619.4 1390.1h12.5v11.7h-12.5zM1631.5 1390.1h12.5v6.0h-12.5zM1643.7 1390.1h12.5v6.0h-12.5zM1655.8 1390.1h12.5v6.0h-12.5zM1668.0 1384.4h12.5v11.7h-12.5zM1680.2 1384.4h12.5v11.7h-12.5zM1692.3 1384.4h12.5v11.7h-12.5zM1704.5 1384.4h12.5v11.7h-12.5zM1716.6 1384.4h12.5v6.0h-12.5zM1728.8 1384.4h12.5v6.0h-12.5zM1740.9 1384.4h12.5v6.0h-12.5zM1753.1 1384.4h12.5v6.0h-12.5zM1765.2 1378.7h12.5v11.7h-12.5zM1777.3 1378.7h12.5v11.7h-12.5z"/>
<path fill="#a5a5ff" d="M1182.0 990.3h12.5v46.0h-12.5zM1182.0 1435.8h12.5v6.0h-12.5zM1194.2 984.6h12.5v51.7h-12.5zM1194.2 1430.1h12.5v11.7h-12.5zM1206.3 978.9h12.5v57.4h-12.5zM1206.3 1430.1h12.5v11.7h-12.5zM1218.5 978.9h12.5v51.7h-12.5zM1218.5 1430.1h12.5v6.0h-12.5zM1230.6 973.2h12.5v57.4h-12.5zM1230.6 1430.1h12.5v6.0h-12.5zM1242.8 961.8h12.5v46.0h-12.5zM1242.8 1018.9h12.5v6.0h-12.5zM1242.8 1430.1h12.5v6.0h-12.5zM1254.9 956.0h12.5v46.0h-12.5zM1254.9 1018.9h12.5v6.0h-12.5zM1254.9 1430.1h12.5v6.0h-12.5zM1267.0 956.0h12.5v46.0h-12.5zM1267.0 1013.2h12.5v6.0h-12.5zM1267.0 1424.4h12.5v11.7h-12.5zM1279.2 950.3h12.5v46.0h-12.5zM1279.2 1013.2h12.5v6.0h-12.5zM1279.2 1424.4h12.5v11.7h-12.5zM1291.3 944.6h12.5v46.0h-12.5zM1291.3 1007.4h12.5v6.0h-12.5zM1291.3 1424.4h12.5v6.0h-12.5zM1303.5 938.9h12.5v46.0h-12.5zM1303.5 1007.4h12.5v6.0h-12.5zM1303.5 1424.4h12.5v6.0h-12.5zM1315.7 933.2h12.5v46.0h-12.5zM1315.7 1001.7h12.5v6.0h-12.5zM1315.7 1424.4h12.5v6.0h-12.5zM1327.8 927.5h12.5v51.7h-12.5zM1327.8 996.0h12.5v6.0h-12.5zM1327.8 1418.7h12.5v11.7h-12.5zM1340.0 921.8h12.5v51.7h-12.5zM1340.0 996.0h12.5v6.0h-12.5zM1340.0 1418.7h12.5v6.0h-12.5zM1352.1 916.1h12.5v51.7h-12.5zM1352.1 990.3h12.5v6.0h-12.5zM1352.1 1418.7h12.5v6.0h-12.5zM1364.2 916.1h12.5v46.0h-12.5zM1364.2 984.6h12.5v6.0h-12.5zM1364.2 1413.0h12.5v11.7h-12.5zM1376.4 916.1h12.5v11.7h-12.5zM1376.4 950.3h12.5v11.7h-12.5zM1376.4 984.6h12.5v6.0h-12.5zM1376.4 1413.0h12.5v6.0h-12.5zM1388.5 910.3h12.5v17.4h-12.5zM1388.5 950.3h12.5v6.0h-12.5zM1388.5 978.9h12.5v6.0h-12.5zM1388.5 1407.3h12.5v11.7h-12.5zM1400.7 904.6h12.5v23.1h-12.5zM1400.7 944.6h12.5v11.7h-12.5zM1400.7 1407.3h12.5v11.7h-12.5zM1412.8 898.9h12.5v23.1h-12.5zM1412.8 944.6h12.5v6.0h-12.5zM1412.8 973.2h12.5v6.0h-12.5zM1412.8 1407.3h12.5v11.7h-12.5zM1425.0 898.9h12.5v23.1h-12.5zM1425.0 938.9h12.5v6.0h-12.5zM1425.0 967.5h12.5v6.0h-12.5zM1425.0 1407.3h12.5v6.0h-12.5zM1437.2 893.2h12.5v28.9h-12.5zM1437.2 933.2h12.5v11.7h-12.5zM1437.2 1401.6h12.5v11.7h-12.5zM1449.3 887.5h12.5v28.9h-12.5zM1449.3 933.2h12.5v6.0h-12.5zM1449.3 961.8h12.5v6.0h-12.5zM1449.3 1401.6h12.5v11.7h-12.5zM1461.5 887.5h12.5v17.4h-12.5zM1461.5 927.5h12.5v6.0h-12.5zM1461.5 956.0h12.5v6.0h-12.5zM1461.5 1401.6h12.5v6.0h-12.5zM1473.6 887.5h12.5v17.4h-12.5zM1473.6 916.1h12.5v11.7h-12.5zM1473.6 950.3h12.5v6.0h-12.5zM1473.6 1395.9h12.5v11.7h-12.5zM1485.8 887.5h12.5v34.6h-12.5zM1485.8 944.6h12.5v6.0h-12.5zM1485.8 1395.9h12.5v11.7h-12.5zM1497.9 887.5h12.5v23.1h-12.5zM1497.9 938.9h12.5v6.0h-12.5zM1497.9 1395.9h12.5v6.0h-12.5zM1510.0 887.5h12.5v11.7h-12.5zM1510.0 933.2h12.5v6.0h-12.5zM1510.0 1390.1h12.5v11.7h-12.5zM1522.2 887.5h12.5v6.0h-12.5zM1522.2 927.5h12.5v6.0h-12.5zM1522.2 1390.1h12.5v11.7h-12.5zM1534.3 887.5h12.5v6.0h-12.5zM1534.3 921.8h12.5v6.0h-12.5zM1534.3 1390.1h12.5v6.0h-12.5zM1546.5 916.1h12.5v6.0h-12.5zM1546.5 1384.4h12.5v11.7h-12.5zM1558.7 910.3h12.5v6.0h-12.5zM1558.7 1384.4h12.5v11.7h-12.5zM1570.8 904.6h12.5v6.0h-12.5zM1570.8 1384.4h12.5v11.7h-12.5zM1583.0 898.9h12.5v6.0h-12.5zM1583.0 1384.4h12.5v6.0h-12.5zM1595.1 893.2h12.5v6.0h-12.5zM1595.1 1384.4h12.5v6.0h-12.5zM1607.2 887.5h12.5v6.0h-12.5zM1607.2 1378.7h12.5v11.7h-12.5zM1619.4 1378.7h12.5v11.7h-12.5zM1631.5 1378.7h12.5v11.7h-12.5zM1643.7 1378.7h12.5v11.7h-12.5zM1655.8 1378.7h12.5v11.7h-12.5zM1668.0 1378.7h12.5v6.0h-12.5zM1680.2 1378.7h12.5v6.0h-12.5zM1692.3 1378.7h12.5v6.0h-12.5zM1704.5 961.8h12.5v6.0h-12.5zM1704.5 1373.0h12.5v11.7h-12.5zM1716.6 956.0h12.5v6.0h-12.5zM1716.6 1373.0h12.5v11.7h-12.5zM1728.8 950.3h12.5v6.0h-12.5zM1728.8 1373.0h12.5v11.7h-12.5zM1740.9 950.3h12.5v6.0h-12.5zM1740.9 1373.0h12.5v11.7h-12.5zM1753.1 944.6h12.5v6.0h-12.5zM1753.1 1373.0h12.5v11.7h-12.5zM1765.2 938.9h12.5v6.0h-12.5zM1765.2 1373.0h12.5v6.0h-12.5zM1777.3 938.9h12.5v6.0h-12.5zM1777.3 1373.0h12.5v6.0h-12.5z"/>
<path fill="#9c9cff" d="M1182.0 1036.0h12.5v11.7h-12.5zM1182.0 1424.4h12.5v11.7h-12.5zM1194.2 1036.0h12.5v6.0h-12.5zM1194.2 1424.4h12.5v6.0h-12.5zM1206.3 1036.0h12.5v6.0h-12.5zM1206.3 1424.4h12.5v6.0h-12.5zM1218.5 1030.3h12.5v6.0h-12.5zM1218.5 1424.4h12.5v6.0h-12.5zM1230.6 1030.3h12.5v6.0h-12.5zM1230.6 1418.7h12.5v11.7h-12.5zM1242.8 1024.6h12.5v6.0h-12.5zM1242.8 1418.7h12.5v11.7h-12.5zM1254.9 1024.6h12.5v6.0h-12.5zM1254.9 1418.7h12.5v11.7h-12.5zM1267.0 1018.9h12.5v11.7h-12.5zM1267.0 1418.7h12.5v6.0h-12.5zM1279.2 1018.9h12.5v6.0h-12.5zM1279.2 1418.7h12.5v6.0h-12.5zM1291.3 1013.2h12.5v11.7h-12.5zM1291.3 1418.7h12.5v6.0h-12.5zM1303.5 1013.2h12.5v6.0h-12.5zM1303.5 1413.0h12.5v11.7h-12.5zM1315.7 1007.4h12.5v6.0h-12.5zM1315.7 1413.0h12.5v11.7h-12.5zM1327.8 1001.7h12.5v11.7h-12.5zM1327.8 1413.0h12.5v6.0h-12.5zM1340.0 1001.7h12.5v6.0h-12.5zM1340.0 1407.3h12.5v11.7h-12.5zM1352.1 996.0h12.5v11.7h-12.5zM1352.1 1407.3h12.5v11.7h-12.5zM1364.2 990.3h12.5v11.7h-12.5zM1364.2 1407.3h12.5v6.0h-12.5zM1376.4 927.5h12.5v23.1h-12.5zM1376.4 990.3h12.5v6.0h-12.5zM1376.4 1401.6h12.5v11.7h-12.5zM1388.5 927.5h12.5v23.1h-12.5zM1388.5 984.6h12.5v6.0h-12.5zM1388.5 1401.6h12.5v6.0h-12.5zM1400.7 927.5h12.5v17.4h-12.5zM1400.7 978.9h12.5v6.0h-12.5zM1400.7 1395.9h12.5v11.7h-12.5zM1412.8 921.8h12.5v23.1h-12.5zM1412.8 978.9h12.5v6.0h-12.5zM1412.8 1395.9h12.5v11.7h-12.5zM1425.0 921.8h12.5v17.4h-12.5zM1425.0 973.2h12.5v6.0h-12.5zM1425.0 1395.9h12.5v11.7h-12.5zM1437.2 921.8h12.5v11.7h-12.5zM1437.2 967.5h12.5v11.7h-12.5zM1437.2 1395.9h12.5v6.0h-12.5zM1449.3 916.1h12.5v17.4h-12.5zM1449.3 967.5h12.5v6.0h-12.5zM1449.3 1390.1h12.5v11.7h-12.5zM1461.5 904.6h12.5v23.1h-12.5zM1461.5 961.8h12.5v6.0h-12.5zM1461.5 1390.1h12.5v11.7h-12.5zM1473.6 904.6h12.5v11.7h-12.5zM1473.6 956.0h12.5v6.0h-12.5zM1473.6 1390.1h12.5v6.0h-12.5zM1485.8 950.3h12.5v6.0h-12.5zM1485.8 1390.1h12.5v6.0h-12.5zM1497.9 944.6h12.5v6.0h-12.5zM1497.9 1384.4h12.5v11.7h-12.5zM1510.0 938.9h12.5v6.0h-12.5zM1510.0 1384.4h12.5v6.0h-12.5zM1522.2 933.2h12.5v6.0h-12.5zM1522.2 1384.4h12.5v6.0h-12.5zM1534.3 927.5h12.5v6.0h-12.5zM1534.3 1378.7h12.5v11.7h-12.5zM1546.5 1378.7h12.5v6.0h-12.5zM1558.7 1378.7h12.5v6.0h-12.5zM1570.8 910.3h12.5v6.0h-12.5zM1570.8 1373.0h12.5v11.7h-12.5zM1583.0 904.6h12.5v6.0h-12.5zM1583.0 1373.0h12.5v11.7h-12.5zM1595.1 898.9h12.5v6.0h-12.5zM1595.1 1373.0h12.5v11.7h-12.5zM1607.2 893.2h12.5v6.0h-12.5zM1607.2 996.0h12.5v6.0h-12.5zM1607.2 1373.0h12.5v6.0h-12.5zM1619.4 990.3h12.5v6.0h-12.5zM1619.4 1373.0h12.5v6.0h-12.5zM1631.5 984.6h12.5v6.0h-12.5zM1631.5 1373.0h12.5v6.0h-12.5zM1643.7 978.9h12.5v11.7h-12.5zM1643.7 1373.0h12.5v6.0h-12.5zM1655.8 978.9h12.5v6.0h-12.5zM1655.8 1367.3h12.5v11.7h-12.5zM1668.0 973.2h12.5v6.0h-12.5zM1668.0 1367.3h12.5v11.7h-12.5zM1680.2 967.5h12.5v11.7h-12.5zM1680.2 1367.3h12.5v11.7h-12.5zM1692.3 961.8h12.5v11.7h-12.5zM1692.3 1367.3h12.5v11.7h-12.5zM1704.5 956.0h12.5v6.0h-12.5zM1704.5 1367.3h12.5v6.0h-12.5zM1716.6 1367.3h12.5v6.0h-12.5zM1728.8 956.0h12.5v6.0h-12.5zM1728.8 1367.3h12.5v6.0h-12.5zM1740.9 944.6h12.5v6.0h-12.5zM1740.9 1367.3h12.5v6.0h-12.5zM1753.1 950.3h12.5v6.0h-12.5zM1753.1 1367.3h12.5v6.0h-12.5zM1765.2 944.6h12.5v6.0h-12.5zM1765.2 1361.6h12.5v11.7h-12.5zM1777.3 933.2h12.5v6.0h-12.5zM1777.3 1361.6h12.5v11.7h-12.5z"/>
<path fill="#9494ff" d="M1182.0 1047.4h12.5v6.0h-12.5zM1182.0 1418.7h12.5v6.0h-12.5zM1194.2 1041.7h12.5v11.7h-12.5zM1194.2 1418.7h12.5v6.0h-12.5zM1206.3 1041.7h12.5v6.0h-12.5zM1206.3 1413.0h12.5v11.7h-12.5zM1218.5 1036.0h12.5v11.7h-12.5zM1218.5 1413.0h12.5v11.7h-12.5zM1230.6 1036.0h12.5v6.0h-12.5zM1230.6 1413.0h12.5v6.0h-12.5zM1242.8 1030.3h12.5v11.7h-12.5zM1242.8 1413.0h12.5v6.0h-12.5zM1254.9 1030.3h12.5v6.0h-12.5zM1254.9 1413.0h12.5v6.0h-12.5zM1267.0 1030.3h12.5v6.0h-12.5zM1267.0 1413.0h12.5v6.0h-12.5zM1279.2 1024.6h12.5v11.7h-12.5zM1279.2 1407.3h12.5v11.7h-12.5zM1291.3 1024.6h12.5v6.0h-12.5zM1291.3 1407.3h12.5v11.7h-12.5zM1303.5 1018.9h12.5v11.7h-12.5zM1303.5 1407.3h12.5v6.0h-12.5zM1315.7 1013.2h12.5v11.7h-12.5zM1315.7 1407.3h12.5v6.0h-12.5zM1327.8 1013.2h12.5v11.7h-12.5zM1327.8 1401.6h12.5v11.7h-12.5zM1340.0 1007.4h12.5v11.7h-12.5zM1340.0 1401.6h12.5v6.0h-12.5zM1352.1 1007.4h12.5v11.7h-12.5zM1352.1 1395.9h12.5v11.7h-12.5zM1364.2 1001.7h12.5v11.7h-12.5zM1364.2 1395.9h12.5v11.7h-12.5zM1376.4 996.0h12.5v17.4h-12.5zM1376.4 1395.9h12.5v6.0h-12.5zM1388.5 990.3h12.5v17.4h-12.5zM1388.5 1390.1h12.5v11.7h-12.5zM1400.7 984.6h12.5v23.1h-12.5zM1400.7 1390.1h12.5v6.0h-12.5zM1412.8 984.6h12.5v17.4h-12.5zM1412.8 1390.1h12.5v6.0h-12.5zM1425.0 978.9h12.5v11.7h-12.5zM1425.0 1384.4h12.5v11.7h-12.5zM1437.2 978.9h12.5v11.7h-12.5zM1437.2 1384.4h12.5v11.7h-12.5zM1449.3 973.2h12.5v11.7h-12.5zM1449.3 1384.4h12.5v6.0h-12.5zM1461.5 967.5h12.5v17.4h-12.5zM1461.5 1384.4h12.5v6.0h-12.5zM1473.6 961.8h12.5v17.4h-12.5zM1473.6 1378.7h12.5v11.7h-12.5zM1485.8 956.0h12.5v17.4h-12.5zM1485.8 1378.7h12.5v11.7h-12.5zM1497.9 950.3h12.5v11.7h-12.5zM1497.9 1378.7h12.5v6.0h-12.5zM1510.0 944.6h12.5v11.7h-12.5zM1510.0 1373.0h12.5v11.7h-12.5zM1522.2 938.9h12.5v11.7h-12.5zM1522.2 1373.0h12.5v11.7h-12.5zM1534.3 933.2h12.5v11.7h-12.5zM1534.3 1373.0h12.5v6.0h-12.5zM1546.5 921.8h12.5v17.4h-12.5zM1546.5 1030.3h12.5v6.0h-12.5zM1546.5 1367.3h12.5v11.7h-12.5zM1558.7 916.1h12.5v17.4h-12.5zM1558.7 1024.6h12.5v6.0h-12.5zM1558.7 1367.3h12.5v11.7h-12.5zM1570.8 916.1h12.5v11.7h-12.5zM1570.8 1013.2h12.5v6.0h-12.5zM1570.8 1367.3h12.5v6.0h-12.5zM1583.0 910.3h12.5v11.7h-12.5zM1583.0 1007.4h12.5v6.0h-12.5zM1583.0 1367.3h12.5v6.0h-12.5zM1595.1 904.6h12.5v11.7h-12.5zM1595.1 1001.7h12.5v6.0h-12.5zM1595.1 1367.3h12.5v6.0h-12.5zM1607.2 898.9h12.5v11.7h-12.5zM1607.2 1001.7h12.5v6.0h-12.5zM1607.2 1367.3h12.5v6.0h-12.5zM1619.4 887.5h12.5v17.4h-12.5zM1619.4 996.0h12.5v6.0h-12.5zM1619.4 1361.6h12.5v11.7h-12.5zM1631.5 887.5h12.5v6.0h-12.5zM1631.5 990.3h12.5v6.0h-12.5zM1631.5 1361.6h12.5v11.7h-12.5zM1643.7 1361.6h12.5v11.7h-12.5zM1655.8 973.2h12.5v6.0h-12.5zM1655.8 1361.6h12.5v6.0h-12.5zM1668.0 967.5h12.5v6.0h-12.5zM1668.0 978.9h12.5v6.0h-12.5zM1668.0 1361.6h12.5v6.0h-12.5zM1680.2 961.8h12.5v6.0h-12.5zM1680.2 1361.6h12.5v6.0h-12.5zM1692.3 1361.6h12.5v6.0h-12.5zM1704.5 967.5h12.5v6.0h-12.5zM1704.5 1361.6h12.5v6.0h-12.5zM1716.6 950.3h12.5v6.0h-12.5zM1716.6 961.8h12.5v6.0h-12.5zM1716.6 1361.6h12.5v6.0h-12.5zM1728.8 944.6h12.5v6.0h-12.5zM1728.8 1361.6h12.5v6.0h-12.5zM1740.9 956.0h12.5v6.0h-12.5zM1740.9 1361.6h12.5v6.0h-12.5zM1753.1 938.9h12.5v6.0h-12.5zM1753.1 1361.6h12.5v6.0h-12.5zM1765.2 933.2h12.5v6.0h-12.5zM1765.2 1355.9h12.5v6.0h-12.5zM1777.3 944.6h12.5v6.0h-12.5zM1777.3 1355.9h12.5v6.0h-12.5z"/>
<path fill="#8c8cff" d="M1182.0 1053.1h12.5v6.0h-12.5zM1182.0 1413.0h12.5v6.0h-12.5zM1194.2 1053.1h12.5v6.0h-12.5zM1194.2 1407.3h12.5v11.7h-12.5zM1206.3 1047.4h12.5v11.7h-12.5zM1206.3 1407.3h12.5v6.0h-12.5zM1218.5 1047.4h12.5v6.0h-12.5zM1218.5 1407.3h12.5v6.0h-12.5zM1230.6 1041.7h12.5v11.7h-12.5zM1230.6 1407.3h12.5v6.0h-12.5zM1242.8 1041.7h12.5v6.0h-12.5zM1242.8 1407.3h12.5v6.0h-12.5zM1254.9 1036.0h12.5v11.7h-12.5zM1254.9 1401.6h12.5v11.7h-12.5zM1267.0 1036.0h12.5v6.0h-12.5zM1267.0 1401.6h12.5v11.7h-12.5zM1279.2 1036.0h12.5v6.0h-12.5zM1279.2 1401.6h12.5v6.0h-12.5zM1291.3 1030.3h12.5v11.7h-12.5zM1291.3 1401.6h12.5v6.0h-12.5zM1303.5 1030.3h12.5v11.7h-12.5zM1303.5 1401.6h12.5v6.0h-12.5zM1315.7 1024.6h12.5v11.7h-12.5zM1315.7 1395.9h12.5v11.7h-12.5zM1327.8 1024.6h12.5v11.7h-12.5zM1327.8 1395.9h12.5v6.0h-12.5zM1340.0 1018.9h12.5v11.7h-12.5zM1340.0 1390.1h12.5v11.7h-12.5zM1352.1 1018.9h12.5v11.7h-12.5zM1352.1 1390.1h12.5v6.0h-12.5zM1364.2 1013.2h12.5v11.7h-12.5zM1364.2 1390.1h12.5v6.0h-12.5zM1376.4 1013.2h12.5v11.7h-12.5zM1376.4 1384.4h12.5v11.7h-12.5zM1388.5 1007.4h12.5v17.4h-12.5zM1388.5 1384.4h12.5v6.0h-12.5zM1400.7 1007.4h12.5v11.7h-12.5zM1400.7 1384.4h12.5v6.0h-12.5zM1412.8 1001.7h12.5v17.4h-12.5zM1412.8 1378.7h12.5v11.7h-12.5zM1425.0 990.3h12.5v23.1h-12.5zM1425.0 1378.7h12.5v6.0h-12.5zM1437.2 990.3h12.5v23.1h-12.5zM1437.2 1378.7h12.5v6.0h-12.5zM1449.3 984.6h12.5v23.1h-12.5zM1449.3 1378.7h12.5v6.0h-12.5zM1461.5 984.6h12.5v17.4h-12.5zM1461.5 1373.0h12.5v11.7h-12.5zM1473.6 978.9h12.5v23.1h-12.5zM1473.6 1373.0h12.5v6.0h-12.5zM1485.8 973.2h12.5v23.1h-12.5zM1485.8 1373.0h12.5v6.0h-12.5zM1497.9 961.8h12.5v28.9h-12.5zM1497.9 1367.3h12.5v11.7h-12.5zM1510.0 956.0h12.5v28.9h-12.5zM1510.0 1367.3h12.5v6.0h-12.5zM1522.2 950.3h12.5v28.9h-12.5zM1522.2 1047.4h12.5v6.0h-12.5zM1522.2 1367.3h12.5v6.0h-12.5zM1534.3 944.6h12.5v34.6h-12.5zM1534.3 1036.0h12.5v11.7h-12.5zM1534.3 1361.6h12.5v11.7h-12.5zM1546.5 938.9h12.5v34.6h-12.5zM1546.5 1036.0h12.5v6.0h-12.5zM1546.5 1361.6h12.5v6.0h-12.5zM1558.7 933.2h12.5v40.3h-12.5zM1558.7 1018.9h12.5v6.0h-12.5zM1558.7 1361.6h12.5v6.0h-12.5zM1570.8 927.5h12.5v46.0h-12.5zM1570.8 1007.4h12.5v6.0h-12.5zM1570.8 1018.9h12.5v6.0h-12.5zM1570.8 1355.9h12.5v11.7h-12.5zM1583.0 921.8h12.5v51.7h-12.5zM1583.0 1001.7h12.5v6.0h-12.5zM1583.0 1013.2h12.5v6.0h-12.5zM1583.0 1355.9h12.5v11.7h-12.5zM1595.1 916.1h12.5v51.7h-12.5zM1595.1 996.0h12.5v6.0h-12.5zM1595.1 1007.4h12.5v6.0h-12.5zM1595.1 1355.9h12.5v11.7h-12.5zM1607.2 910.3h12.5v57.4h-12.5zM1607.2 990.3h12.5v6.0h-12.5zM1607.2 1355.9h12.5v11.7h-12.5zM1619.4 904.6h12.5v63.1h-12.5zM1619.4 984.6h12.5v6.0h-12.5zM1619.4 1355.9h12.5v6.0h-12.5zM1631.5 893.2h12.5v40.3h-12.5zM1631.5 978.9h12.5v6.0h-12.5zM1631.5 1355.9h12.5v6.0h-12.5zM1643.7 887.5h12.5v46.0h-12.5zM1643.7 973.2h12.5v6.0h-12.5zM1643.7 990.3h12.5v6.0h-12.5zM1643.7 1355.9h12.5v6.0h-12.5zM1655.8 887.5h12.5v40.3h-12.5zM1655.8 967.5h12.5v6.0h-12.5zM1655.8 984.6h12.5v6.0h-12.5zM1655.8 1355.9h12.5v6.0h-12.5zM1668.0 887.5h12.5v40.3h-12.5zM1668.0 961.8h12.5v6.0h-12.5zM1668.0 1355.9h12.5v6.0h-12.5zM1680.2 887.5h12.5v40.3h-12.5zM1680.2 956.0h12.5v6.0h-12.5zM1680.2 978.9h12.5v6.0h-12.5zM1680.2 1355.9h12.5v6.0h-12.5zM1692.3 887.5h12.5v40.3h-12.5zM1692.3 956.0h12.5v6.0h-12.5zM1692.3 973.2h12.5v6.0h-12.5zM1692.3 1355.9h12.5v6.0h-12.5zM1704.5 887.5h12.5v40.3h-12.5zM1704.5 950.3h12.5v6.0h-12.5zM1704.5 1355.9h12.5v6.0h-12.5zM1716.6 887.5h12.5v34.6h-12.5zM1716.6 944.6h12.5v6.0h-12.5zM1716.6 967.5h12.5v6.0h-12.5zM1716.6 1355.9h12.5v6.0h-12.5zM1728.8 887.5h12.5v34.6h-12.5zM1728.8 961.8h12.5v6.0h-12.5zM1728.8 1350.2h12.5v11.7h-12.5zM1740.9 887.5h12.5v34.6h-12.5zM1740.9 938.9h12.5v6.0h-12.5zM1740.9 1350.2h12.5v11.7h-12.5zM1753.1 887.5h12.5v34.6h-12.5zM1753.1 933.2h12.5v6.0h-12.5zM1753.1 956.0h12.5v6.0h-12.5zM1753.1 1350.2h12.5v11.7h-12.5zM1765.2 887.5h12.5v28.9h-12.5zM1765.2 950.3h12.5v6.0h-12.5zM1765.2 1350.2h12.5v6.0h-12.5zM1777.3 887.5h12.5v28.9h-12.5zM1777.3 927.5h12.5v6.0h-12.5zM1777.3 1350.2h12.5v6.0h-12.5z"/>
<path fill="#8484ff" d="M1182.0 1058.9h12.5v11.7h-12.5zM1182.0 1401.6h12.5v11.7h-12.5zM1194.2 1058.9h12.5v11.7h-12.5zM1194.2 1401.6h12.5v6.0h-12.5zM1206.3 1058.9h12.5v11.7h-12.5zM1206.3 1401.6h12.5v6.0h-12.5zM1218.5 1053.1h12.5v11.7h-12.5zM1218.5 1401.6h12.5v6.0h-12.5zM1230.6 1053.1h12.5v11.7h-12.5zM1230.6 1401.6h12.5v6.0h-12.5zM1242.8 1047.4h12.5v17.4h-12.5zM1242.8 1395.9h12.5v11.7h-12.5zM1254.9 1047.4h12.5v11.7h-12.5zM1254.9 1395.9h12.5v6.0h-12.5zM1267.0 1041.7h12.5v17.4h-12.5zM1267.0 1395.9h12.5v6.0h-12.5zM1279.2 1041.7h12.5v6.0h-12.5zM1279.2 1395.9h12.5v6.0h-12.5zM1291.3 1041.7h12.5v6.0h-12.5zM1291.3 1390.1h12.5v11.7h-12.5zM1303.5 1041.7h12.5v6.0h-12.5zM1303.5 1390.1h12.5v11.7h-12.5zM1315.7 1036.0h12.5v11.7h-12.5zM1315.7 1390.1h12.5v6.0h-12.5zM1327.8 1036.0h12.5v11.7h-12.5zM1327.8 1384.4h12.5v11.7h-12.5zM1340.0 1030.3h12.5v17.4h-12.5zM1340.0 1384.4h12.5v6.0h-12.5zM1352.1 1030.3h12.5v11.7h-12.5zM1352.1 1384.4h12.5v6.0h-12.5zM1364.2 1024.6h12.5v11.7h-12.5zM1364.2 1378.7h12.5v11.7h-12.5zM1376.4 1024.6h12.5v11.7h-12.5zM1376.4 1378.7h12.5v6.0h-12.5zM1388.5 1024.6h12.5v11.7h-12.5zM1388.5 1373.0h12.5v11.7h-12.5zM1400.7 1018.9h12.5v11.7h-12.5zM1400.7 1373.0h12.5v11.7h-12.5zM1412.8 1018.9h12.5v11.7h-12.5zM1412.8 1373.0h12.5v6.0h-12.5zM1425.0 1013.2h12.5v17.4h-12.5zM1425.0 1373.0h12.5v6.0h-12.5zM1437.2 1013.2h12.5v17.4h-12.5zM1437.2 1367.3h12.5v11.7h-12.5zM1449.3 1007.4h12.5v17.4h-12.5zM1449.3 1093.1h12.5v6.0h-12.5zM1449.3 1367.3h12.5v11.7h-12.5zM1461.5 1001.7h12.5v17.4h-12.5zM1461.5 1087.4h12.5v6.0h-12.5zM1461.5 1367.3h12.5v6.0h-12.5zM1473.6 1001.7h12.5v17.4h-12.5zM1473.6 1081.7h12.5v6.0h-12.5zM1473.6 1367.3h12.5v6.0h-12.5zM1485.8 996.0h12.5v28.9h-12.5zM1485.8 1076.0h12.5v6.0h-12.5zM1485.8 1361.6h12.5v11.7h-12.5zM1497.9 990.3h12.5v34.6h-12.5zM1497.9 1064.6h12.5v6.0h-12.5zM1497.9 1361.6h12.5v6.0h-12.5zM1510.0 984.6h12.5v40.3h-12.5zM1510.0 1053.1h12.5v11.7h-12.5zM1510.0 1361.6h12.5v6.0h-12.5zM1522.2 978.9h12.5v46.0h-12.5zM1522.2 1041.7h12.5v6.0h-12.5zM1522.2 1053.1h12.5v6.0h-12.5zM1522.2 1355.9h12.5v11.7h-12.5zM1534.3 978.9h12.5v46.0h-12.5zM1534.3 1030.3h12.5v6.0h-12.5zM1534.3 1047.4h12.5v6.0h-12.5zM1534.3 1355.9h12.5v6.0h-12.5zM1546.5 973.2h12.5v57.4h-12.5zM1546.5 1355.9h12.5v6.0h-12.5zM1558.7 973.2h12.5v46.0h-12.5zM1558.7 1030.3h12.5v6.0h-12.5zM1558.7 1350.2h12.5v11.7h-12.5zM1570.8 973.2h12.5v34.6h-12.5zM1570.8 1024.6h12.5v6.0h-12.5zM1570.8 1350.2h12.5v6.0h-12.5zM1583.0 973.2h12.5v28.9h-12.5zM1583.0 1018.9h12.5v6.0h-12.5zM1583.0 1350.2h12.5v6.0h-12.5zM1595.1 967.5h12.5v28.9h-12.5zM1595.1 1013.2h12.5v11.7h-12.5zM1595.1 1350.2h12.5v6.0h-12.5zM1607.2 967.5h12.5v23.1h-12.5zM1607.2 1007.4h12.5v17.4h-12.5zM1607.2 1350.2h12.5v6.0h-12.5zM1619.4 967.5h12.5v17.4h-12.5zM1619.4 1001.7h12.5v23.1h-12.5zM1619.4 1350.2h12.5v6.0h-12.5zM1631.5 933.2h12.5v46.0h-12.5zM1631.5 996.0h12.5v17.4h-12.5zM1631.5 1350.2h12.5v6.0h-12.5zM1643.7 933.2h12.5v40.3h-12.5zM1643.7 996.0h12.5v11.7h-12.5zM1643.7 1350.2h12.5v6.0h-12.5zM1655.8 927.5h12.5v40.3h-12.5zM1655.8 990.3h12.5v17.4h-12.5zM1655.8 1350.2h12.5v6.0h-12.5zM1668.0 927.5h12.5v34.6h-12.5zM1668.0 984.6h12.5v17.4h-12.5zM1668.0 1344.5h12.5v11.7h-12.5zM1680.2 927.5h12.5v28.9h-12.5zM1680.2 984.6h12.5v17.4h-12.5zM1680.2 1344.5h12.5v11.7h-12.5zM1692.3 927.5h12.5v28.9h-12.5zM1692.3 978.9h12.5v23.1h-12.5zM1692.3 1344.5h12.5v11.7h-12.5zM1704.5 927.5h12.5v23.1h-12.5zM1704.5 973.2h12.5v28.9h-12.5zM1704.5 1344.5h12.5v11.7h-12.5zM1716.6 921.8h12.5v23.1h-12.5zM1716.6 973.2h12.5v23.1h-12.5zM1716.6 1344.5h12.5v11.7h-12.5zM1728.8 921.8h12.5v23.1h-12.5zM1728.8 967.5h12.5v28.9h-12.5zM1728.8 1344.5h12.5v6.0h-12.5zM1740.9 921.8h12.5v17.4h-12.5zM1740.9 961.8h12.5v34.6h-12.5zM1740.9 1344.5h12.5v6.0h-12.5zM1753.1 921.8h12.5v11.7h-12.5zM1753.1 961.8h12.5v34.6h-12.5zM1753.1 1344.5h12.5v6.0h-12.5zM1765.2 916.1h12.5v17.4h-12.5zM1765.2 956.0h12.5v40.3h-12.5zM1765.2 1338.7h12.5v11.7h-12.5zM1777.3 916.1h12.5v11.7h-12.5zM1777.3 950.3h12.5v40.3h-12.5zM1777.3 1338.7h12.5v11.7h-12.5z"/>
<path fill="#7b7bff" d="M1182.0 1070.3h12.5v28.9h-12.5zM1182.0 1390.1h12.5v11.7h-12.5zM1194.2 1070.3h12.5v28.9h-12.5zM1194.2 1390.1h12.5v11.7h-12.5zM1206.3 1070.3h12.5v23.1h-12.5zM1206.3 1390.1h12.5v11.7h-12.5zM1218.5 1064.6h12.5v23.1h-12.5zM1218.5 1390.1h12.5v11.7h-12.5zM1230.6 1064.6h12.5v23.1h-12.5zM1230.6 1390.1h12.5v11.7h-12.5zM1242.8 1064.6h12.5v17.4h-12.5zM1242.8 1390.1h12.5v6.0h-12.5zM1254.9 1058.9h12.5v17.4h-12.5zM1254.9 1384.4h12.5v11.7h-12.5zM1267.0 1058.9h12.5v17.4h-12.5zM1267.0 1384.4h12.5v11.7h-12.5zM1279.2 1047.4h12.5v23.1h-12.5zM1279.2 1190.2h12.5v6.0h-12.5zM1279.2 1384.4h12.5v11.7h-12.5zM1291.3 1047.4h12.5v23.1h-12.5zM1291.3 1184.5h12.5v6.0h-12.5zM1291.3 1384.4h12.5v6.0h-12.5zM1303.5 1047.4h12.5v23.1h-12.5zM1303.5 1173.1h12.5v11.7h-12.5zM1303.5 1384.4h12.5v6.0h-12.5zM1315.7 1047.4h12.5v17.4h-12.5zM1315.7 1167.4h12.5v6.0h-12.5zM1315.7 1378.7h12.5v11.7h-12.5zM1327.8 1047.4h12.5v17.4h-12.5zM1327.8 1161.7h12.5v6.0h-12.5zM1327.8 1378.7h12.5v6.0h-12.5zM1340.0 1047.4h12.5v17.4h-12.5zM1340.0 1156.0h12.5v6.0h-12.5zM1340.0 1373.0h12.5v11.7h-12.5zM1352.1 1041.7h12.5v17.4h-12.5zM1352.1 1373.0h12.5v11.7h-12.5zM1364.2 1036.0h12.5v23.1h-12.5zM1364.2 1138.8h12.5v6.0h-12.5zM1364.2 1367.3h12.5v11.7h-12.5zM1376.4 1036.0h12.5v23.1h-12.5zM1376.4 1133.1h12.5v6.0h-12.5zM1376.4 1367.3h12.5v11.7h-12.5zM1388.5 1036.0h12.5v23.1h-12.5zM1388.5 1121.7h12.5v11.7h-12.5zM1388.5 1367.3h12.5v6.0h-12.5zM1400.7 1030.3h12.5v28.9h-12.5zM1400.7 1116.0h12.5v11.7h-12.5zM1400.7 1361.6h12.5v11.7h-12.5zM1412.8 1030.3h12.5v28.9h-12.5zM1412.8 1110.3h12.5v11.7h-12.5zM1412.8 1361.6h12.5v11.7h-12.5zM1425.0 1030.3h12.5v28.9h-12.5zM1425.0 1104.6h12.5v11.7h-12.5zM1425.0 1361.6h12.5v11.7h-12.5zM1437.2 1030.3h12.5v34.6h-12.5zM1437.2 1098.8h12.5v11.7h-12.5zM1437.2 1361.6h12.5v6.0h-12.5zM1449.3 1024.6h12.5v40.3h-12.5zM1449.3 1087.4h12.5v6.0h-12.5zM1449.3 1098.8h12.5v6.0h-12.5zM1449.3 1355.9h12.5v11.7h-12.5zM1461.5 1018.9h12.5v46.0h-12.5zM1461.5 1081.7h12.5v6.0h-12.5zM1461.5 1093.1h12.5v6.0h-12.5zM1461.5 1355.9h12.5v11.7h-12.5zM1473.6 1018.9h12.5v40.3h-12.5zM1473.6 1076.0h12.5v6.0h-12.5zM1473.6 1087.4h12.5v6.0h-12.5zM1473.6 1355.9h12.5v11.7h-12.5zM1485.8 1024.6h12.5v28.9h-12.5zM1485.8 1070.3h12.5v6.0h-12.5zM1485.8 1081.7h12.5v6.0h-12.5zM1485.8 1355.9h12.5v6.0h-12.5zM1497.9 1024.6h12.5v28.9h-12.5zM1497.9 1058.9h12.5v6.0h-12.5zM1497.9 1070.3h12.5v6.0h-12.5zM1497.9 1350.2h12.5v11.7h-12.5zM1510.0 1024.6h12.5v28.9h-12.5zM1510.0 1064.6h12.5v6.0h-12.5zM1510.0 1350.2h12.5v11.7h-12.5zM1522.2 1024.6h12.5v17.4h-12.5zM1522.2 1350.2h12.5v6.0h-12.5zM1534.3 1024.6h12.5v6.0h-12.5zM1534.3 1350.2h12.5v6.0h-12.5zM1546.5 1041.7h12.5v6.0h-12.5zM1546.5 1344.5h12.5v11.7h-12.5zM1558.7 1036.0h12.5v11.7h-12.5zM1558.7 1344.5h12.5v6.0h-12.5zM1570.8 1030.3h12.5v17.4h-12.5zM1570.8 1344.5h12.5v6.0h-12.5zM1583.0 1024.6h12.5v17.4h-12.5zM1583.0 1344.5h12.5v6.0h-12.5zM1595.1 1024.6h12.5v17.4h-12.5zM1595.1 1344.5h12.5v6.0h-12.5zM1607.2 1024.6h12.5v17.4h-12.5zM1607.2 1344.5h12.5v6.0h-12.5zM1619.4 1024.6h12.5v17.4h-12.5zM1619.4 1338.7h12.5v11.7h-12.5zM1631.5 1013.2h12.5v28.9h-12.5zM1631.5 1338.7h12.5v11.7h-12.5zM1643.7 1007.4h12.5v34.6h-12.5zM1643.7 1338.7h12.5v11.7h-12.5zM1655.8 1007.4h12.5v34.6h-12.5zM1655.8 1338.7h12.5v11.7h-12.5zM1668.0 1001.7h12.5v40.3h-12.5zM1668.0 1338.7h12.5v6.0h-12.5zM1680.2 1001.7h12.5v40.3h-12.5zM1680.2 1338.7h12.5v6.0h-12.5zM1692.3 1001.7h12.5v40.3h-12.5zM1692.3 1338.7h12.5v6.0h-12.5zM1704.5 1001.7h12.5v40.3h-12.5zM1704.5 1338.7h12.5v6.0h-12.5zM1716.6 996.0h12.5v46.0h-12.5zM1716.6 1338.7h12.5v6.0h-12.5zM1728.8 996.0h12.5v46.0h-12.5zM1728.8 1333.0h12.5v11.7h-12.5zM1740.9 996.0h12.5v46.0h-12.5zM1740.9 1333.0h12.5v11.7h-12.5zM1753.1 996.0h12.5v46.0h-12.5zM1753.1 1333.0h12.5v11.7h-12.5zM1765.2 996.0h12.5v46.0h-12.5zM1765.2 1333.0h12.5v6.0h-12.5zM1777.3 990.3h12.5v51.7h-12.5zM1777.3 1333.0h12.5v6.0h-12.5z"/>
<path fill="#7373ff" d="M1182.0 1098.8h12.5v57.4h-12.5zM1182.0 1378.7h12.5v11.7h-12.5zM1194.2 1098.8h12.5v57.4h-12.5zM1194.2 1378.7h12.5v11.7h-12.5zM1206.3 1093.1h12.5v57.4h-12.5zM1206.3 1378.7h12.5v11.7h-12.5zM1218.5 1087.4h12.5v63.1h-12.5zM1218.5 1213.1h12.5v6.0h-12.5zM1218.5 1378.7h12.5v11.7h-12.5zM1230.6 1087.4h12.5v57.4h-12.5zM1230.6 1207.4h12.5v6.0h-12.5zM1230.6 1378.7h12.5v11.7h-12.5zM1242.8 1081.7h12.5v63.1h-12.5zM1242.8 1201.7h12.5v6.0h-12.5zM1242.8 1378.7h12.5v11.7h-12.5zM1254.9 1076.0h12.5v63.1h-12.5zM1254.9 1195.9h12.5v11.7h-12.5zM1254.9 1378.7h12.5v6.0h-12.5zM1267.0 1076.0h12.5v57.4h-12.5zM1267.0 1190.2h12.5v11.7h-12.5zM1267.0 1373.0h12.5v11.7h-12.5zM1279.2 1070.3h12.5v63.1h-12.5zM1279.2 1184.5h12.5v6.0h-12.5zM1279.2 1373.0h12.5v11.7h-12.5zM1291.3 1070.3h12.5v57.4h-12.5zM1291.3 1178.8h12.5v6.0h-12.5zM1291.3 1373.0h12.5v11.7h-12.5zM1303.5 1070.3h12.5v51.7h-12.5zM1303.5 1373.0h12.5v11.7h-12.5zM1315.7 1064.6h12.5v57.4h-12.5zM1315.7 1173.1h12.5v6.0h-12.5zM1315.7 1367.3h12.5v11.7h-12.5zM1327.8 1064.6h12.5v57.4h-12.5zM1327.8 1156.0h12.5v6.0h-12.5zM1327.8 1167.4h12.5v6.0h-12.5zM1327.8 1367.3h12.5v11.7h-12.5zM1340.0 1064.6h12.5v57.4h-12.5zM1340.0 1150.2h12.5v6.0h-12.5zM1340.0 1367.3h12.5v6.0h-12.5zM1352.1 1058.9h12.5v63.1h-12.5zM1352.1 1144.5h12.5v11.7h-12.5zM1352.1 1361.6h12.5v11.7h-12.5zM1364.2 1058.9h12.5v63.1h-12.5zM1364.2 1133.1h12.5v6.0h-12.5zM1364.2 1144.5h12.5v6.0h-12.5zM1364.2 1361.6h12.5v6.0h-12.5zM1376.4 1058.9h12.5v74.6h-12.5zM1376.4 1138.8h12.5v6.0h-12.5zM1376.4 1355.9h12.5v11.7h-12.5zM1388.5 1058.9h12.5v63.1h-12.5zM1388.5 1133.1h12.5v6.0h-12.5zM1388.5 1355.9h12.5v11.7h-12.5zM1400.7 1058.9h12.5v57.4h-12.5zM1400.7 1127.4h12.5v6.0h-12.5zM1400.7 1355.9h12.5v6.0h-12.5zM1412.8 1058.9h12.5v51.7h-12.5zM1412.8 1121.7h12.5v6.0h-12.5zM1412.8 1350.2h12.5v11.7h-12.5zM1425.0 1058.9h12.5v46.0h-12.5zM1425.0 1116.0h12.5v6.0h-12.5zM1425.0 1350.2h12.5v11.7h-12.5zM1437.2 1064.6h12.5v34.6h-12.5zM1437.2 1110.3h12.5v6.0h-12.5zM1437.2 1350.2h12.5v11.7h-12.5zM1449.3 1064.6h12.5v23.1h-12.5zM1449.3 1104.6h12.5v6.0h-12.5zM1449.3 1350.2h12.5v6.0h-12.5zM1461.5 1064.6h12.5v17.4h-12.5zM1461.5 1098.8h12.5v6.0h-12.5zM1461.5 1350.2h12.5v6.0h-12.5zM1473.6 1058.9h12.5v17.4h-12.5zM1473.6 1093.1h12.5v6.0h-12.5zM1473.6 1344.5h12.5v11.7h-12.5zM1485.8 1053.1h12.5v17.4h-12.5zM1485.8 1087.4h12.5v6.0h-12.5zM1485.8 1344.5h12.5v11.7h-12.5zM1497.9 1053.1h12.5v6.0h-12.5zM1497.9 1076.0h12.5v11.7h-12.5zM1497.9 1344.5h12.5v6.0h-12.5zM1510.0 1344.5h12.5v6.0h-12.5zM1522.2 1058.9h12.5v6.0h-12.5zM1522.2 1338.7h12.5v11.7h-12.5zM1534.3 1053.1h12.5v11.7h-12.5zM1534.3 1087.4h12.5v6.0h-12.5zM1534.3 1338.7h12.5v11.7h-12.5zM1546.5 1047.4h12.5v17.4h-12.5zM1546.5 1087.4h12.5v11.7h-12.5zM1546.5 1338.7h12.5v6.0h-12.5zM1558.7 1047.4h12.5v17.4h-12.5zM1558.7 1087.4h12.5v11.7h-12.5zM1558.7 1338.7h12.5v6.0h-12.5zM1570.8 1047.4h12.5v11.7h-12.5zM1570.8 1087.4h12.5v11.7h-12.5zM1570.8 1333.0h12.5v11.7h-12.5zM1583.0 1041.7h12.5v17.4h-12.5zM1583.0 1087.4h12.5v11.7h-12.5zM1583.0 1333.0h12.5v11.7h-12.5zM1595.1 1041.7h12.5v17.4h-12.5zM1595.1 1333.0h12.5v11.7h-12.5zM1607.2 1041.7h12.5v17.4h-12.5zM1607.2 1333.0h12.5v11.7h-12.5zM1619.4 1041.7h12.5v17.4h-12.5zM1619.4 1333.0h12.5v6.0h-12.5zM1631.5 1041.7h12.5v17.4h-12.5zM1631.5 1333.0h12.5v6.0h-12.5zM1643.7 1041.7h12.5v17.4h-12.5zM1643.7 1333.0h12.5v6.0h-12.5zM1655.8 1041.7h12.5v17.4h-12.5zM1655.8 1333.0h12.5v6.0h-12.5zM1668.0 1041.7h12.5v17.4h-12.5zM1668.0 1327.3h12.5v11.7h-12.5zM1680.2 1041.7h12.5v17.4h-12.5zM1680.2 1327.3h12.5v11.7h-12.5zM1692.3 1041.7h12.5v23.1h-12.5zM1692.3 1327.3h12.5v11.7h-12.5zM1704.5 1041.7h12.5v23.1h-12.5zM1704.5 1327.3h12.5v11.7h-12.5zM1716.6 1041.7h12.5v23.1h-12.5zM1716.6 1327.3h12.5v11.7h-12.5zM1728.8 1041.7h12.5v23.1h-12.5zM1728.8 1327.3h12.5v6.0h-12.5zM1740.9 1041.7h12.5v28.9h-12.5zM1740.9 1327.3h12.5v6.0h-12.5zM1753.1 1041.7h12.5v28.9h-12.5zM1753.1 1321.6h12.5v11.7h-12.5zM1765.2 1041.7h12.5v28.9h-12.5zM1765.2 1321.6h12.5v11.7h-12.5zM1777.3 1041.7h12.5v28.9h-12.5zM1777.3 1321.6h12.5v11.7h-12.5z"/>
<path fill="#6b6bff" d="M1182.0 1156.0h12.5v17.4h-12.5zM1182.0 1224.5h12.5v6.0h-12.5zM1182.0 1367.3h12.5v11.7h-12.5zM1194.2 1156.0h12.5v11.7h-12.5zM1194.2 1218.8h12.5v11.7h-12.5zM1194.2 1367.3h12.5v11.7h-12.5zM1206.3 1150.2h12.5v17.4h-12.5zM1206.3 1213.1h12.5v11.7h-12.5zM1206.3 1367.3h12.5v11.7h-12.5zM1218.5 1150.2h12.5v17.4h-12.5zM1218.5 1207.4h12.5v6.0h-12.5zM1218.5 1367.3h12.5v11.7h-12.5zM1230.6 1144.5h12.5v17.4h-12.5zM1230.6 1201.7h12.5v6.0h-12.5zM1230.6 1367.3h12.5v11.7h-12.5zM1242.8 1144.5h12.5v17.4h-12.5zM1242.8 1207.4h12.5v6.0h-12.5zM1242.8 1367.3h12.5v11.7h-12.5zM1254.9 1138.8h12.5v23.1h-12.5zM1254.9 1361.6h12.5v17.4h-12.5zM1267.0 1133.1h12.5v28.9h-12.5zM1267.0 1361.6h12.5v11.7h-12.5zM1279.2 1133.1h12.5v28.9h-12.5zM1279.2 1361.6h12.5v11.7h-12.5zM1291.3 1127.4h12.5v34.6h-12.5zM1291.3 1361.6h12.5v11.7h-12.5zM1303.5 1121.7h12.5v40.3h-12.5zM1303.5 1167.4h12.5v6.0h-12.5zM1303.5 1361.6h12.5v11.7h-12.5zM1315.7 1121.7h12.5v46.0h-12.5zM1315.7 1355.9h12.5v11.7h-12.5zM1327.8 1121.7h12.5v34.6h-12.5zM1327.8 1355.9h12.5v11.7h-12.5zM1340.0 1121.7h12.5v28.9h-12.5zM1340.0 1161.7h12.5v6.0h-12.5zM1340.0 1355.9h12.5v11.7h-12.5zM1352.1 1121.7h12.5v23.1h-12.5zM1352.1 1156.0h12.5v6.0h-12.5zM1352.1 1350.2h12.5v11.7h-12.5zM1364.2 1121.7h12.5v11.7h-12.5zM1364.2 1350.2h12.5v11.7h-12.5zM1376.4 1350.2h12.5v6.0h-12.5zM1388.5 1344.5h12.5v11.7h-12.5zM1400.7 1344.5h12.5v11.7h-12.5zM1412.8 1127.4h12.5v6.0h-12.5zM1412.8 1344.5h12.5v6.0h-12.5zM1425.0 1121.7h12.5v6.0h-12.5zM1425.0 1344.5h12.5v6.0h-12.5zM1437.2 1116.0h12.5v6.0h-12.5zM1437.2 1338.7h12.5v11.7h-12.5zM1449.3 1110.3h12.5v6.0h-12.5zM1449.3 1338.7h12.5v11.7h-12.5zM1461.5 1104.6h12.5v11.7h-12.5zM1461.5 1338.7h12.5v11.7h-12.5zM1473.6 1098.8h12.5v11.7h-12.5zM1473.6 1338.7h12.5v6.0h-12.5zM1485.8 1093.1h12.5v17.4h-12.5zM1485.8 1338.7h12.5v6.0h-12.5zM1497.9 1087.4h12.5v28.9h-12.5zM1497.9 1333.0h12.5v11.7h-12.5zM1510.0 1070.3h12.5v46.0h-12.5zM1510.0 1333.0h12.5v11.7h-12.5zM1522.2 1064.6h12.5v51.7h-12.5zM1522.2 1333.0h12.5v6.0h-12.5zM1534.3 1064.6h12.5v23.1h-12.5zM1534.3 1093.1h12.5v23.1h-12.5zM1534.3 1327.3h12.5v11.7h-12.5zM1546.5 1064.6h12.5v23.1h-12.5zM1546.5 1098.8h12.5v17.4h-12.5zM1546.5 1327.3h12.5v11.7h-12.5zM1558.7 1064.6h12.5v23.1h-12.5zM1558.7 1098.8h12.5v17.4h-12.5zM1558.7 1327.3h12.5v11.7h-12.5zM1570.8 1058.9h12.5v28.9h-12.5zM1570.8 1098.8h12.5v17.4h-12.5zM1570.8 1327.3h12.5v6.0h-12.5zM1583.0 1058.9h12.5v28.9h-12.5zM1583.0 1098.8h12.5v17.4h-12.5zM1583.0 1321.6h12.5v11.7h-12.5zM1595.1 1058.9h12.5v57.4h-12.5zM1595.1 1321.6h12.5v11.7h-12.5zM1607.2 1058.9h12.5v57.4h-12.5zM1607.2 1321.6h12.5v11.7h-12.5zM1619.4 1058.9h12.5v51.7h-12.5zM1619.4 1321.6h12.5v11.7h-12.5zM1631.5 1058.9h12.5v51.7h-12.5zM1631.5 1321.6h12.5v11.7h-12.5zM1643.7 1058.9h12.5v51.7h-12.5zM1643.7 1321.6h12.5v11.7h-12.5zM1655.8 1058.9h12.5v51.7h-12.5zM1655.8 1321.6h12.5v11.7h-12.5zM1668.0 1058.9h12.5v51.7h-12.5zM1668.0 1315.9h12.5v11.7h-12.5zM1680.2 1058.9h12.5v51.7h-12.5zM1680.2 1315.9h12.5v11.7h-12.5zM1692.3 1064.6h12.5v46.0h-12.5zM1692.3 1315.9h12.5v11.7h-12.5zM1704.5 1064.6h12.5v46.0h-12.5zM1704.5 1315.9h12.5v11.7h-12.5zM1716.6 1064.6h12.5v40.3h-12.5zM1716.6 1315.9h12.5v11.7h-12.5zM1728.8 1064.6h12.5v40.3h-12.5zM1728.8 1315.9h12.5v11.7h-12.5zM1740.9 1070.3h12.5v34.6h-12.5zM1740.9 1310.2h12.5v17.4h-12.5zM1753.1 1070.3h12.5v34.6h-12.5zM1753.1 1310.2h12.5v11.7h-12.5zM1765.2 1070.3h12.5v34.6h-12.5zM1765.2 1310.2h12.5v11.7h-12.5zM1777.3 1070.3h12.5v34.6h-12.5zM1777.3 1310.2h12.5v11.7h-12.5z"/>
<path fill="#6363ff" d="M1182.0 1173.1h12.5v11.7h-12.5zM1182.0 1230.2h12.5v6.0h-12.5zM1182.0 1355.9h12.5v11.7h-12.5zM1194.2 1167.4h12.5v17.4h-12.5zM1194.2 1355.9h12.5v11.7h-12.5zM1206.3 1167.4h12.5v17.4h-12.5zM1206.3 1355.9h12.5v11.7h-12.5zM1218.5 1167.4h12.5v17.4h-12.5zM1218.5 1355.9h12.5v11.7h-12.5zM1230.6 1161.7h12.5v23.1h-12.5zM1230.6 1213.1h12.5v6.0h-12.5zM1230.6 1355.9h12.5v11.7h-12.5zM1242.8 1161.7h12.5v23.1h-12.5zM1242.8 1195.9h12.5v6.0h-12.5zM1242.8 1350.2h12.5v17.4h-12.5zM1254.9 1161.7h12.5v23.1h-12.5zM1254.9 1190.2h12.5v6.0h-12.5zM1254.9 1350.2h12.5v11.7h-12.5zM1267.0 1161.7h12.5v28.9h-12.5zM1267.0 1350.2h12.5v11.7h-12.5zM1279.2 1161.7h12.5v23.1h-12.5zM1279.2 1195.9h12.5v6.0h-12.5zM1279.2 1350.2h12.5v11.7h-12.5zM1291.3 1161.7h12.5v17.4h-12.5zM1291.3 1190.2h12.5v6.0h-12.5zM1291.3 1350.2h12.5v11.7h-12.5zM1303.5 1161.7h12.5v6.0h-12.5zM1303.5 1184.5h12.5v6.0h-12.5zM1303.5 1350.2h12.5v11.7h-12.5zM1315.7 1178.8h12.5v6.0h-12.5zM1315.7 1344.5h12.5v11.7h-12.5zM1327.8 1344.5h12.5v11.7h-12.5zM1340.0 1344.5h12.5v11.7h-12.5zM1352.1 1338.7h12.5v11.7h-12.5zM1364.2 1150.2h12.5v6.0h-12.5zM1364.2 1338.7h12.5v11.7h-12.5zM1376.4 1144.5h12.5v6.0h-12.5zM1376.4 1333.0h12.5v17.4h-12.5zM1388.5 1138.8h12.5v6.0h-12.5zM1388.5 1333.0h12.5v11.7h-12.5zM1400.7 1133.1h12.5v6.0h-12.5zM1400.7 1333.0h12.5v11.7h-12.5zM1412.8 1133.1h12.5v6.0h-12.5zM1412.8 1333.0h12.5v11.7h-12.5zM1425.0 1127.4h12.5v11.7h-12.5zM1425.0 1333.0h12.5v11.7h-12.5zM1437.2 1121.7h12.5v11.7h-12.5zM1437.2 1333.0h12.5v6.0h-12.5zM1449.3 1116.0h12.5v17.4h-12.5zM1449.3 1333.0h12.5v6.0h-12.5zM1461.5 1116.0h12.5v11.7h-12.5zM1461.5 1333.0h12.5v6.0h-12.5zM1473.6 1110.3h12.5v17.4h-12.5zM1473.6 1327.3h12.5v11.7h-12.5zM1485.8 1110.3h12.5v17.4h-12.5zM1485.8 1327.3h12.5v11.7h-12.5zM1497.9 1116.0h12.5v11.7h-12.5zM1497.9 1327.3h12.5v6.0h-12.5zM1510.0 1116.0h12.5v11.7h-12.5zM1510.0 1321.6h12.5v11.7h-12.5zM1522.2 1116.0h12.5v11.7h-12.5zM1522.2 1321.6h12.5v11.7h-12.5zM1534.3 1116.0h12.5v6.0h-12.5zM1534.3 1321.6h12.5v6.0h-12.5zM1546.5 1116.0h12.5v6.0h-12.5zM1546.5 1321.6h12.5v6.0h-12.5zM1558.7 1116.0h12.5v6.0h-12.5zM1558.7 1315.9h12.5v11.7h-12.5zM1570.8 1116.0h12.5v6.0h-12.5zM1570.8 1315.9h12.5v11.7h-12.5zM1583.0 1116.0h12.5v6.0h-12.5zM1583.0 1315.9h12.5v6.0h-12.5zM1595.1 1116.0h12.5v6.0h-12.5zM1595.1 1315.9h12.5v6.0h-12.5zM1607.2 1116.0h12.5v6.0h-12.5zM1607.2 1310.2h12.5v11.7h-12.5zM1619.4 1110.3h12.5v11.7h-12.5zM1619.4 1310.2h12.5v11.7h-12.5zM1631.5 1110.3h12.5v11.7h-12.5zM1631.5 1310.2h12.5v11.7h-12.5zM1643.7 1110.3h12.5v11.7h-12.5zM1643.7 1310.2h12.5v11.7h-12.5zM1655.8 1110.3h12.5v11.7h-12.5zM1655.8 1310.2h12.5v11.7h-12.5zM1668.0 1110.3h12.5v11.7h-12.5zM1668.0 1310.2h12.5v6.0h-12.5zM1680.2 1110.3h12.5v11.7h-12.5zM1680.2 1310.2h12.5v6.0h-12.5zM1692.3 1110.3h12.5v11.7h-12.5zM1692.3 1304.5h12.5v11.7h-12.5zM1704.5 1110.3h12.5v11.7h-12.5zM1704.5 1304.5h12.5v11.7h-12.5zM1716.6 1104.6h12.5v17.4h-12.5zM1716.6 1304.5h12.5v11.7h-12.5zM1728.8 1104.6h12.5v17.4h-12.5zM1728.8 1304.5h12.5v11.7h-12.5zM1740.9 1104.6h12.5v17.4h-12.5zM1740.9 1304.5h12.5v6.0h-12.5zM1753.1 1104.6h12.5v17.4h-12.5zM1753.1 1304.5h12.5v6.0h-12.5zM1765.2 1104.6h12.5v11.7h-12.5zM1765.2 1298.8h12.5v11.7h-12.5zM1777.3 1104.6h12.5v11.7h-12.5zM1777.3 1298.8h12.5v11.7h-12.5z"/>
<path fill="#5a5aff" d="M1182.0 1184.5h12.5v23.1h-12.5zM1182.0 1218.8h12.5v6.0h-12.5zM1182.0 1344.5h12.5v11.7h-12.5zM1194.2 1184.5h12.5v34.6h-12.5zM1194.2 1344.5h12.5v11.7h-12.5zM1206.3 1184.5h12.5v28.9h-12.5zM1206.3 1224.5h12.5v6.0h-12.5zM1206.3 1344.5h12.5v11.7h-12.5zM1218.5 1184.5h12.5v23.1h-12.5zM1218.5 1218.8h12.5v6.0h-12.5zM1218.5 1344.5h12.5v11.7h-12.5zM1230.6 1184.5h12.5v17.4h-12.5zM1230.6 1338.7h12.5v17.4h-12.5zM1242.8 1184.5h12.5v11.7h-12.5zM1242.8 1338.7h12.5v11.7h-12.5zM1254.9 1184.5h12.5v6.0h-12.5zM1254.9 1207.4h12.5v6.0h-12.5zM1254.9 1338.7h12.5v11.7h-12.5zM1267.0 1201.7h12.5v6.0h-12.5zM1267.0 1338.7h12.5v11.7h-12.5zM1279.2 1338.7h12.5v11.7h-12.5zM1291.3 1333.0h12.5v17.4h-12.5zM1303.5 1333.0h12.5v17.4h-12.5zM1315.7 1333.0h12.5v11.7h-12.5zM1327.8 1173.1h12.5v6.0h-12.5zM1327.8 1333.0h12.5v11.7h-12.5zM1340.0 1167.4h12.5v6.0h-12.5zM1340.0 1327.3h12.5v17.4h-12.5zM1352.1 1161.7h12.5v6.0h-12.5zM1352.1 1327.3h12.5v11.7h-12.5zM1364.2 1156.0h12.5v6.0h-12.5zM1364.2 1321.6h12.5v17.4h-12.5zM1376.4 1150.2h12.5v6.0h-12.5zM1376.4 1321.6h12.5v11.7h-12.5zM1388.5 1144.5h12.5v6.0h-12.5zM1388.5 1321.6h12.5v11.7h-12.5zM1400.7 1138.8h12.5v11.7h-12.5zM1400.7 1321.6h12.5v11.7h-12.5zM1412.8 1138.8h12.5v6.0h-12.5zM1412.8 1321.6h12.5v11.7h-12.5zM1425.0 1138.8h12.5v6.0h-12.5zM1425.0 1321.6h12.5v11.7h-12.5zM1437.2 1133.1h12.5v6.0h-12.5zM1437.2 1321.6h12.5v11.7h-12.5zM1449.3 1133.1h12.5v6.0h-12.5zM1449.3 1321.6h12.5v11.7h-12.5zM1461.5 1127.4h12.5v11.7h-12.5zM1461.5 1321.6h12.5v11.7h-12.5zM1473.6 1127.4h12.5v6.0h-12.5zM1473.6 1321.6h12.5v6.0h-12.5zM1485.8 1127.4h12.5v6.0h-12.5zM1485.8 1315.9h12.5v11.7h-12.5zM1497.9 1127.4h12.5v6.0h-12.5zM1497.9 1315.9h12.5v11.7h-12.5zM1510.0 1127.4h12.5v6.0h-12.5zM1510.0 1315.9h12.5v6.0h-12.5zM1522.2 1127.4h12.5v6.0h-12.5zM1522.2 1310.2h12.5v11.7h-12.5zM1534.3 1121.7h12.5v11.7h-12.5zM1534.3 1310.2h12.5v11.7h-12.5zM1546.5 1121.7h12.5v11.7h-12.5zM1546.5 1310.2h12.5v11.7h-12.5zM1558.7 1121.7h12.5v11.7h-12.5zM1558.7 1310.2h12.5v6.0h-12.5zM1570.8 1121.7h12.5v6.0h-12.5zM1570.8 1304.5h12.5v11.7h-12.5zM1583.0 1121.7h12.5v6.0h-12.5zM1583.0 1304.5h12.5v11.7h-12.5zM1595.1 1121.7h12.5v6.0h-12.5zM1595.1 1304.5h12.5v11.7h-12.5zM1607.2 1121.7h12.5v6.0h-12.5zM1607.2 1304.5h12.5v6.0h-12.5zM1619.4 1121.7h12.5v6.0h-12.5zM1619.4 1304.5h12.5v6.0h-12.5zM1631.5 1121.7h12.5v6.0h-12.5zM1631.5 1298.8h12.5v11.7h-12.5zM1643.7 1121.7h12.5v11.7h-12.5zM1643.7 1298.8h12.5v11.7h-12.5zM1655.8 1121.7h12.5v11.7h-12.5zM1655.8 1298.8h12.5v11.7h-12.5zM1668.0 1121.7h12.5v11.7h-12.5zM1668.0 1298.8h12.5v11.7h-12.5zM1680.2 1121.7h12.5v11.7h-12.5zM1680.2 1298.8h12.5v11.7h-12.5zM1692.3 1121.7h12.5v11.7h-12.5zM1692.3 1298.8h12.5v6.0h-12.5zM1704.5 1121.7h12.5v11.7h-12.5zM1704.5 1293.0h12.5v11.7h-12.5zM1716.6 1121.7h12.5v11.7h-12.5zM1716.6 1293.0h12.5v11.7h-12.5zM1728.8 1121.7h12.5v11.7h-12.5zM1728.8 1293.0h12.5v11.7h-12.5zM1740.9 1121.7h12.5v11.7h-12.5zM1740.9 1293.0h12.5v11.7h-12.5zM1753.1 1121.7h12.5v11.7h-12.5zM1753.1 1293.0h12.5v11.7h-12.5zM1765.2 1116.0h12.5v17.4h-12.5zM1765.2 1293.0h12.5v6.0h-12.5zM1777.3 1116.0h12.5v17.4h-12.5zM1777.3 1293.0h12.5v6.0h-12.5z"/>
<path fill="#5252ff" d="M1182.0 1207.4h12.5v11.7h-12.5zM1182.0 1235.9h12.5v6.0h-12.5zM1182.0 1321.6h12.5v23.1h-12.5zM1194.2 1230.2h12.5v6.0h-12.5zM1194.2 1321.6h12.5v23.1h-12.5zM1206.3 1321.6h12.5v23.1h-12.5zM1218.5 1321.6h12.5v23.1h-12.5zM1230.6 1218.8h12.5v6.0h-12.5zM1230.6 1321.6h12.5v17.4h-12.5zM1242.8 1213.1h12.5v6.0h-12.5zM1242.8 1321.6h12.5v17.4h-12.5zM1254.9 1321.6h12.5v17.4h-12.5zM1267.0 1321.6h12.5v17.4h-12.5zM1279.2 1201.7h12.5v6.0h-12.5zM1279.2 1321.6h12.5v17.4h-12.5zM1291.3 1195.9h12.5v6.0h-12.5zM1291.3 1321.6h12.5v11.7h-12.5zM1303.5 1190.2h12.5v6.0h-12.5zM1303.5 1315.9h12.5v17.4h-12.5zM1315.7 1184.5h12.5v6.0h-12.5zM1315.7 1315.9h12.5v17.4h-12.5zM1327.8 1178.8h12.5v6.0h-12.5zM1327.8 1315.9h12.5v17.4h-12.5zM1340.0 1173.1h12.5v6.0h-12.5zM1340.0 1315.9h12.5v11.7h-12.5zM1352.1 1167.4h12.5v6.0h-12.5zM1352.1 1310.2h12.5v17.4h-12.5zM1364.2 1161.7h12.5v6.0h-12.5zM1364.2 1310.2h12.5v11.7h-12.5zM1376.4 1156.0h12.5v6.0h-12.5zM1376.4 1310.2h12.5v11.7h-12.5zM1388.5 1150.2h12.5v6.0h-12.5zM1388.5 1304.5h12.5v17.4h-12.5zM1400.7 1150.2h12.5v6.0h-12.5zM1400.7 1304.5h12.5v17.4h-12.5zM1412.8 1144.5h12.5v6.0h-12.5zM1412.8 1304.5h12.5v17.4h-12.5zM1425.0 1144.5h12.5v6.0h-12.5zM1425.0 1304.5h12.5v17.4h-12.5zM1437.2 1138.8h12.5v6.0h-12.5zM1437.2 1304.5h12.5v17.4h-12.5zM1449.3 1138.8h12.5v6.0h-12.5zM1449.3 1310.2h12.5v11.7h-12.5zM1461.5 1138.8h12.5v6.0h-12.5zM1461.5 1310.2h12.5v11.7h-12.5zM1473.6 1133.1h12.5v6.0h-12.5zM1473.6 1310.2h12.5v11.7h-12.5zM1485.8 1133.1h12.5v6.0h-12.5zM1485.8 1304.5h12.5v11.7h-12.5zM1497.9 1133.1h12.5v6.0h-12.5zM1497.9 1304.5h12.5v11.7h-12.5zM1510.0 1133.1h12.5v6.0h-12.5zM1510.0 1304.5h12.5v11.7h-12.5zM1522.2 1133.1h12.5v6.0h-12.5zM1522.2 1298.8h12.5v11.7h-12.5zM1534.3 1133.1h12.5v6.0h-12.5zM1534.3 1298.8h12.5v11.7h-12.5zM1546.5 1133.1h12.5v6.0h-12.5zM1546.5 1298.8h12.5v11.7h-12.5zM1558.7 1293.0h12.5v17.4h-12.5zM1570.8 1127.4h12.5v6.0h-12.5zM1570.8 1293.0h12.5v11.7h-12.5zM1583.0 1127.4h12.5v6.0h-12.5zM1583.0 1293.0h12.5v11.7h-12.5zM1595.1 1127.4h12.5v6.0h-12.5zM1595.1 1293.0h12.5v11.7h-12.5zM1607.2 1127.4h12.5v6.0h-12.5zM1607.2 1287.3h12.5v17.4h-12.5zM1619.4 1127.4h12.5v6.0h-12.5zM1619.4 1287.3h12.5v17.4h-12.5zM1631.5 1127.4h12.5v6.0h-12.5zM1631.5 1287.3h12.5v11.7h-12.5zM1643.7 1287.3h12.5v11.7h-12.5zM1655.8 1287.3h12.5v11.7h-12.5zM1668.0 1287.3h12.5v11.7h-12.5zM1680.2 1287.3h12.5v11.7h-12.5zM1692.3 1287.3h12.5v11.7h-12.5zM1704.5 1133.1h12.5v6.0h-12.5zM1704.5 1281.6h12.5v11.7h-12.5zM1716.6 1133.1h12.5v6.0h-12.5zM1716.6 1281.6h12.5v11.7h-12.5zM1728.8 1133.1h12.5v6.0h-12.5zM1728.8 1281.6h12.5v11.7h-12.5zM1740.9 1133.1h12.5v6.0h-12.5zM1740.9 1281.6h12.5v11.7h-12.5zM1753.1 1133.1h12.5v6.0h-12.5zM1753.1 1281.6h12.5v11.7h-12.5zM1765.2 1133.1h12.5v6.0h-12.5zM1765.2 1281.6h12.5v11.7h-12.5zM1777.3 1281.6h12.5v11.7h-12.5z"/>
<path fill="#4a4aff" d="M1182.0 1241.6h12.5v6.0h-12.5zM1182.0 1298.8h12.5v23.1h-12.5zM1194.2 1235.9h12.5v6.0h-12.5zM1194.2 1298.8h12.5v23.1h-12.5zM1206.3 1230.2h12.5v6.0h-12.5zM1206.3 1298.8h12.5v23.1h-12.5zM1218.5 1224.5h12.5v6.0h-12.5zM1218.5 1298.8h12.5v23.1h-12.5zM1230.6 1298.8h12.5v23.1h-12.5zM1242.8 1218.8h12.5v6.0h-12.5zM1242.8 1298.8h12.5v23.1h-12.5zM1254.9 1213.1h12.5v6.0h-12.5zM1254.9 1298.8h12.5v23.1h-12.5zM1267.0 1207.4h12.5v6.0h-12.5zM1267.0 1298.8h12.5v23.1h-12.5zM1279.2 1298.8h12.5v23.1h-12.5zM1291.3 1201.7h12.5v6.0h-12.5zM1291.3 1298.8h12.5v23.1h-12.5zM1303.5 1195.9h12.5v6.0h-12.5zM1303.5 1298.8h12.5v17.4h-12.5zM1315.7 1298.8h12.5v17.4h-12.5zM1327.8 1293.0h12.5v23.1h-12.5zM1340.0 1293.0h12.5v23.1h-12.5zM1352.1 1293.0h12.5v17.4h-12.5zM1364.2 1293.0h12.5v17.4h-12.5zM1376.4 1293.0h12.5v17.4h-12.5zM1388.5 1156.0h12.5v6.0h-12.5zM1388.5 1287.3h12.5v17.4h-12.5zM1400.7 1287.3h12.5v17.4h-12.5zM1412.8 1150.2h12.5v6.0h-12.5zM1412.8 1293.0h12.5v11.7h-12.5zM1425.0 1293.0h12.5v11.7h-12.5zM1437.2 1144.5h12.5v6.0h-12.5zM1437.2 1293.0h12.5v11.7h-12.5zM1449.3 1144.5h12.5v6.0h-12.5zM1449.3 1293.0h12.5v17.4h-12.5zM1461.5 1144.5h12.5v6.0h-12.5zM1461.5 1293.0h12.5v17.4h-12.5zM1473.6 1138.8h12.5v6.0h-12.5zM1473.6 1293.0h12.5v17.4h-12.5zM1485.8 1138.8h12.5v6.0h-12.5zM1485.8 1293.0h12.5v11.7h-12.5zM1497.9 1138.8h12.5v6.0h-12.5zM1497.9 1287.3h12.5v17.4h-12.5zM1510.0 1138.8h12.5v6.0h-12.5zM1510.0 1287.3h12.5v17.4h-12.5zM1522.2 1287.3h12.5v11.7h-12.5zM1534.3 1281.6h12.5v17.4h-12.5zM1546.5 1281.6h12.5v17.4h-12.5zM1558.7 1133.1h12.5v6.0h-12.5zM1558.7 1281.6h12.5v11.7h-12.5zM1570.8 1133.1h12.5v6.0h-12.5zM1570.8 1275.9h12.5v17.4h-12.5zM1583.0 1133.1h12.5v6.0h-12.5zM1583.0 1275.9h12.5v17.4h-12.5zM1595.1 1133.1h12.5v6.0h-12.5zM1595.1 1275.9h12.5v17.4h-12.5zM1607.2 1133.1h12.5v6.0h-12.5zM1607.2 1275.9h12.5v11.7h-12.5zM1619.4 1133.1h12.5v6.0h-12.5zM1619.4 1275.9h12.5v11.7h-12.5zM1631.5 1133.1h12.5v6.0h-12.5zM1631.5 1275.9h12.5v11.7h-12.5zM1643.7 1133.1h12.5v6.0h-12.5zM1643.7 1275.9h12.5v11.7h-12.5zM1655.8 1133.1h12.5v6.0h-12.5zM1655.8 1275.9h12.5v11.7h-12.5zM1668.0 1133.1h12.5v6.0h-12.5zM1668.0 1275.9h12.5v11.7h-12.5zM1680.2 1133.1h12.5v6.0h-12.5zM1680.2 1275.9h12.5v11.7h-12.5zM1692.3 1133.1h12.5v6.0h-12.5zM1692.3 1270.2h12.5v17.4h-12.5zM1704.5 1270.2h12.5v11.7h-12.5zM1716.6 1270.2h12.5v11.7h-12.5zM1728.8 1270.2h12.5v11.7h-12.5zM1740.9 1270.2h12.5v11.7h-12.5zM1753.1 1270.2h12.5v11.7h-12.5zM1765.2 1270.2h12.5v11.7h-12.5zM1777.3 1133.1h12.5v6.0h-12.5zM1777.3 1270.2h12.5v11.7h-12.5z"/>
<path fill="#4242ff" d="M1182.0 1247.3h12.5v11.7h-12.5zM1182.0 1281.6h12.5v17.4h-12.5zM1194.2 1241.6h12.5v11.7h-12.5zM1194.2 1281.6h12.5v17.4h-12.5zM1206.3 1235.9h12.5v11.7h-12.5zM1206.3 1281.6h12.5v17.4h-12.5zM1218.5 1230.2h12.5v11.7h-12.5zM1218.5 1281.6h12.5v17.4h-12.5zM1230.6 1224.5h12.5v11.7h-12.5zM1230.6 1275.9h12.5v23.1h-12.5zM1242.8 1224.5h12.5v6.0h-12.5zM1242.8 1275.9h12.5v23.1h-12.5zM1254.9 1218.8h12.5v6.0h-12.5zM1254.9 1275.9h12.5v23.1h-12.5zM1267.0 1213.1h12.5v11.7h-12.5zM1267.0 1275.9h12.5v23.1h-12.5zM1279.2 1207.4h12.5v11.7h-12.5zM1279.2 1275.9h12.5v23.1h-12.5zM1291.3 1207.4h12.5v6.0h-12.5zM1291.3 1275.9h12.5v23.1h-12.5zM1303.5 1201.7h12.5v6.0h-12.5zM1303.5 1275.9h12.5v23.1h-12.5zM1315.7 1190.2h12.5v6.0h-12.5zM1315.7 1275.9h12.5v23.1h-12.5zM1327.8 1184.5h12.5v6.0h-12.5zM1327.8 1275.9h12.5v17.4h-12.5zM1340.0 1178.8h12.5v6.0h-12.5zM1340.0 1275.9h12.5v17.4h-12.5zM1352.1 1173.1h12.5v6.0h-12.5zM1352.1 1275.9h12.5v17.4h-12.5zM1364.2 1167.4h12.5v6.0h-12.5zM1364.2 1275.9h12.5v17.4h-12.5zM1376.4 1161.7h12.5v6.0h-12.5zM1376.4 1275.9h12.5v17.4h-12.5zM1388.5 1275.9h12.5v11.7h-12.5zM1400.7 1270.2h12.5v17.4h-12.5zM1412.8 1275.9h12.5v17.4h-12.5zM1425.0 1150.2h12.5v6.0h-12.5zM1425.0 1275.9h12.5v17.4h-12.5zM1437.2 1150.2h12.5v6.0h-12.5zM1437.2 1275.9h12.5v17.4h-12.5zM1449.3 1275.9h12.5v17.4h-12.5zM1461.5 1281.6h12.5v11.7h-12.5zM1473.6 1144.5h12.5v6.0h-12.5zM1473.6 1281.6h12.5v11.7h-12.5zM1485.8 1144.5h12.5v6.0h-12.5zM1485.8 1275.9h12.5v17.4h-12.5zM1497.9 1275.9h12.5v11.7h-12.5zM1510.0 1275.9h12.5v11.7h-12.5zM1522.2 1138.8h12.5v6.0h-12.5zM1522.2 1270.2h12.5v17.4h-12.5zM1534.3 1138.8h12.5v6.0h-12.5zM1534.3 1270.2h12.5v11.7h-12.5zM1546.5 1138.8h12.5v6.0h-12.5zM1546.5 1270.2h12.5v11.7h-12.5zM1558.7 1264.5h12.5v17.4h-12.5zM1570.8 1264.5h12.5v11.7h-12.5zM1583.0 1264.5h12.5v11.7h-12.5zM1595.1 1264.5h12.5v11.7h-12.5zM1607.2 1264.5h12.5v11.7h-12.5zM1619.4 1258.8h12.5v17.4h-12.5zM1631.5 1258.8h12.5v17.4h-12.5zM1643.7 1258.8h12.5v17.4h-12.5zM1655.8 1258.8h12.5v17.4h-12.5zM1668.0 1258.8h12.5v17.4h-12.5zM1680.2 1258.8h12.5v17.4h-12.5zM1692.3 1258.8h12.5v11.7h-12.5zM1704.5 1258.8h12.5v11.7h-12.5zM1716.6 1258.8h12.5v11.7h-12.5zM1728.8 1253.1h12.5v17.4h-12.5zM1740.9 1253.1h12.5v17.4h-12.5zM1753.1 1253.1h12.5v17.4h-12.5zM1765.2 1253.1h12.5v17.4h-12.5zM1777.3 1253.1h12.5v17.4h-12.5z"/>
<path fill="#3a3aff" d="M1182.0 1258.8h12.5v23.1h-12.5zM1194.2 1253.1h12.5v28.9h-12.5zM1206.3 1247.3h12.5v34.6h-12.5zM1218.5 1241.6h12.5v40.3h-12.5zM1230.6 1235.9h12.5v40.3h-12.5zM1242.8 1230.2h12.5v46.0h-12.5zM1254.9 1224.5h12.5v51.7h-12.5zM1267.0 1224.5h12.5v6.0h-12.5zM1267.0 1241.6h12.5v34.6h-12.5zM1279.2 1218.8h12.5v6.0h-12.5zM1279.2 1241.6h12.5v34.6h-12.5zM1291.3 1213.1h12.5v6.0h-12.5zM1291.3 1241.6h12.5v34.6h-12.5zM1303.5 1207.4h12.5v6.0h-12.5zM1303.5 1247.3h12.5v28.9h-12.5zM1315.7 1195.9h12.5v6.0h-12.5zM1315.7 1247.3h12.5v28.9h-12.5zM1327.8 1190.2h12.5v6.0h-12.5zM1327.8 1253.1h12.5v23.1h-12.5zM1340.0 1258.8h12.5v17.4h-12.5zM1352.1 1258.8h12.5v17.4h-12.5zM1364.2 1258.8h12.5v17.4h-12.5zM1376.4 1258.8h12.5v17.4h-12.5zM1388.5 1258.8h12.5v17.4h-12.5zM1400.7 1156.0h12.5v6.0h-12.5zM1400.7 1258.8h12.5v11.7h-12.5zM1412.8 1258.8h12.5v17.4h-12.5zM1425.0 1258.8h12.5v17.4h-12.5zM1437.2 1258.8h12.5v17.4h-12.5zM1449.3 1150.2h12.5v6.0h-12.5zM1449.3 1264.5h12.5v11.7h-12.5zM1461.5 1264.5h12.5v17.4h-12.5zM1473.6 1264.5h12.5v17.4h-12.5zM1485.8 1264.5h12.5v11.7h-12.5zM1497.9 1144.5h12.5v6.0h-12.5zM1497.9 1258.8h12.5v17.4h-12.5zM1510.0 1144.5h12.5v6.0h-12.5zM1510.0 1258.8h12.5v17.4h-12.5zM1522.2 1253.1h12.5v17.4h-12.5zM1534.3 1253.1h12.5v17.4h-12.5zM1546.5 1253.1h12.5v17.4h-12.5zM1558.7 1138.8h12.5v6.0h-12.5zM1558.7 1247.3h12.5v17.4h-12.5zM1570.8 1138.8h12.5v6.0h-12.5zM1570.8 1247.3h12.5v17.4h-12.5zM1583.0 1138.8h12.5v6.0h-12.5zM1583.0 1247.3h12.5v17.4h-12.5zM1595.1 1138.8h12.5v6.0h-12.5zM1595.1 1247.3h12.5v17.4h-12.5zM1607.2 1138.8h12.5v6.0h-12.5zM1607.2 1247.3h12.5v17.4h-12.5zM1619.4 1138.8h12.5v6.0h-12.5zM1619.4 1247.3h12.5v11.7h-12.5zM1631.5 1138.8h12.5v6.0h-12.5zM1631.5 1247.3h12.5v11.7h-12.5zM1643.7 1138.8h12.5v6.0h-12.5zM1643.7 1247.3h12.5v11.7h-12.5zM1655.8 1138.8h12.5v6.0h-12.5zM1655.8 1247.3h12.5v11.7h-12.5zM1668.0 1138.8h12.5v6.0h-12.5zM1668.0 1247.3h12.5v11.7h-12.5zM1680.2 1138.8h12.5v6.0h-12.5zM1680.2 1241.6h12.5v17.4h-12.5zM1692.3 1138.8h12.5v6.0h-12.5zM1692.3 1241.6h12.5v17.4h-12.5zM1704.5 1138.8h12.5v6.0h-12.5zM1704.5 1241.6h12.5v17.4h-12.5zM1716.6 1138.8h12.5v6.0h-12.5zM1716.6 1241.6h12.5v17.4h-12.5zM1728.8 1138.8h12.5v6.0h-12.5zM1728.8 1241.6h12.5v11.7h-12.5zM1740.9 1138.8h12.5v6.0h-12.5zM1740.9 1241.6h12.5v11.7h-12.5zM1753.1 1138.8h12.5v6.0h-12.5zM1753.1 1241.6h12.5v11.7h-12.5zM1765.2 1138.8h12.5v6.0h-12.5zM1765.2 1241.6h12.5v11.7h-12.5zM1777.3 1138.8h12.5v6.0h-12.5zM1777.3 1241.6h12.5v11.7h-12.5z"/>
<path fill="#3131ff" d="M1267.0 1230.2h12.5v11.7h-12.5zM1279.2 1224.5h12.5v17.4h-12.5zM1291.3 1218.8h12.5v23.1h-12.5zM1303.5 1213.1h12.5v34.6h-12.5zM1315.7 1201.7h12.5v6.0h-12.5zM1315.7 1224.5h12.5v23.1h-12.5zM1327.8 1195.9h12.5v6.0h-12.5zM1327.8 1224.5h12.5v28.9h-12.5zM1340.0 1184.5h12.5v6.0h-12.5zM1340.0 1224.5h12.5v34.6h-12.5zM1352.1 1178.8h12.5v6.0h-12.5zM1352.1 1218.8h12.5v40.3h-12.5zM1364.2 1173.1h12.5v6.0h-12.5zM1364.2 1218.8h12.5v40.3h-12.5zM1376.4 1167.4h12.5v6.0h-12.5zM1376.4 1224.5h12.5v34.6h-12.5zM1388.5 1161.7h12.5v6.0h-12.5zM1388.5 1230.2h12.5v28.9h-12.5zM1400.7 1235.9h12.5v23.1h-12.5zM1412.8 1156.0h12.5v6.0h-12.5zM1412.8 1235.9h12.5v23.1h-12.5zM1425.0 1235.9h12.5v23.1h-12.5zM1437.2 1235.9h12.5v23.1h-12.5zM1449.3 1241.6h12.5v23.1h-12.5zM1461.5 1150.2h12.5v6.0h-12.5zM1461.5 1241.6h12.5v23.1h-12.5zM1473.6 1241.6h12.5v23.1h-12.5zM1485.8 1241.6h12.5v23.1h-12.5zM1497.9 1241.6h12.5v17.4h-12.5zM1510.0 1235.9h12.5v23.1h-12.5zM1522.2 1144.5h12.5v6.0h-12.5zM1522.2 1235.9h12.5v17.4h-12.5zM1534.3 1144.5h12.5v6.0h-12.5zM1534.3 1230.2h12.5v23.1h-12.5zM1546.5 1230.2h12.5v23.1h-12.5zM1558.7 1230.2h12.5v17.4h-12.5zM1570.8 1230.2h12.5v17.4h-12.5zM1583.0 1230.2h12.5v17.4h-12.5zM1595.1 1230.2h12.5v17.4h-12.5zM1607.2 1230.2h12.5v17.4h-12.5zM1619.4 1230.2h12.5v17.4h-12.5zM1631.5 1230.2h12.5v17.4h-12.5zM1643.7 1230.2h12.5v17.4h-12.5zM1655.8 1230.2h12.5v17.4h-12.5zM1668.0 1230.2h12.5v17.4h-12.5zM1680.2 1230.2h12.5v11.7h-12.5zM1692.3 1230.2h12.5v11.7h-12.5zM1704.5 1230.2h12.5v11.7h-12.5zM1716.6 1230.2h12.5v11.7h-12.5zM1728.8 1230.2h12.5v11.7h-12.5zM1740.9 1230.2h12.5v11.7h-12.5zM1753.1 1230.2h12.5v11.7h-12.5zM1765.2 1230.2h12.5v11.7h-12.5zM1777.3 1230.2h12.5v11.7h-12.5z"/>
<path fill="#2929ff" d="M1315.7 1207.4h12.5v17.4h-12.5zM1327.8 1201.7h12.5v6.0h-12.5zM1327.8 1218.8h12.5v6.0h-12.5zM1340.0 1190.2h12.5v6.0h-12.5zM1340.0 1213.1h12.5v11.7h-12.5zM1352.1 1184.5h12.5v6.0h-12.5zM1352.1 1213.1h12.5v6.0h-12.5zM1364.2 1207.4h12.5v11.7h-12.5zM1376.4 1207.4h12.5v17.4h-12.5zM1388.5 1201.7h12.5v28.9h-12.5zM1400.7 1201.7h12.5v34.6h-12.5zM1412.8 1201.7h12.5v34.6h-12.5zM1425.0 1156.0h12.5v6.0h-12.5zM1425.0 1207.4h12.5v28.9h-12.5zM1437.2 1156.0h12.5v6.0h-12.5zM1437.2 1207.4h12.5v28.9h-12.5zM1449.3 1213.1h12.5v28.9h-12.5zM1461.5 1213.1h12.5v28.9h-12.5zM1473.6 1150.2h12.5v6.0h-12.5zM1473.6 1213.1h12.5v28.9h-12.5zM1485.8 1150.2h12.5v6.0h-12.5zM1485.8 1213.1h12.5v28.9h-12.5zM1497.9 1213.1h12.5v28.9h-12.5zM1510.0 1213.1h12.5v23.1h-12.5zM1522.2 1213.1h12.5v23.1h-12.5zM1534.3 1213.1h12.5v17.4h-12.5zM1546.5 1144.5h12.5v6.0h-12.5zM1546.5 1213.1h12.5v17.4h-12.5zM1558.7 1144.5h12.5v6.0h-12.5zM1558.7 1213.1h12.5v17.4h-12.5zM1570.8 1213.1h12.5v17.4h-12.5zM1583.0 1213.1h12.5v17.4h-12.5zM1595.1 1213.1h12.5v17.4h-12.5zM1607.2 1213.1h12.5v17.4h-12.5zM1619.4 1213.1h12.5v17.4h-12.5zM1631.5 1213.1h12.5v17.4h-12.5zM1643.7 1213.1h12.5v17.4h-12.5zM1655.8 1213.1h12.5v17.4h-12.5zM1668.0 1213.1h12.5v17.4h-12.5zM1680.2 1213.1h12.5v17.4h-12.5zM1692.3 1213.1h12.5v17.4h-12.5zM1704.5 1213.1h12.5v17.4h-12.5zM1716.6 1213.1h12.5v17.4h-12.5zM1728.8 1213.1h12.5v17.4h-12.5zM1740.9 1213.1h12.5v17.4h-12.5zM1753.1 1213.1h12.5v17.4h-12.5zM1765.2 1213.1h12.5v17.4h-12.5zM1777.3 1213.1h12.5v17.4h-12.5z"/>
<path fill="#2121ff" d="M1327.8 1207.4h12.5v11.7h-12.5zM1340.0 1195.9h12.5v6.0h-12.5zM1340.0 1207.4h12.5v6.0h-12.5zM1352.1 1207.4h12.5v6.0h-12.5zM1364.2 1178.8h12.5v6.0h-12.5zM1364.2 1201.7h12.5v6.0h-12.5zM1376.4 1173.1h12.5v6.0h-12.5zM1376.4 1201.7h12.5v6.0h-12.5zM1388.5 1195.9h12.5v6.0h-12.5zM1400.7 1161.7h12.5v6.0h-12.5zM1400.7 1195.9h12.5v6.0h-12.5zM1412.8 1195.9h12.5v6.0h-12.5zM1425.0 1195.9h12.5v11.7h-12.5zM1437.2 1201.7h12.5v6.0h-12.5zM1449.3 1156.0h12.5v6.0h-12.5zM1449.3 1201.7h12.5v11.7h-12.5zM1461.5 1201.7h12.5v11.7h-12.5zM1473.6 1201.7h12.5v11.7h-12.5zM1485.8 1201.7h12.5v11.7h-12.5zM1497.9 1150.2h12.5v6.0h-12.5zM1497.9 1201.7h12.5v11.7h-12.5zM1510.0 1150.2h12.5v6.0h-12.5zM1510.0 1201.7h12.5v11.7h-12.5zM1522.2 1201.7h12.5v11.7h-12.5zM1534.3 1201.7h12.5v11.7h-12.5zM1546.5 1201.7h12.5v11.7h-12.5zM1558.7 1201.7h12.5v11.7h-12.5zM1570.8 1144.5h12.5v6.0h-12.5zM1570.8 1201.7h12.5v11.7h-12.5zM1583.0 1144.5h12.5v6.0h-12.5zM1583.0 1201.7h12.5v11.7h-12.5zM1595.1 1144.5h12.5v6.0h-12.5zM1595.1 1201.7h12.5v11.7h-12.5zM1607.2 1144.5h12.5v6.0h-12.5zM1607.2 1201.7h12.5v11.7h-12.5zM1619.4 1144.5h12.5v6.0h-12.5zM1619.4 1201.7h12.5v11.7h-12.5zM1631.5 1144.5h12.5v6.0h-12.5zM1631.5 1201.7h12.5v11.7h-12.5zM1643.7 1144.5h12.5v6.0h-12.5zM1643.7 1201.7h12.5v11.7h-12.5zM1655.8 1144.5h12.5v6.0h-12.5zM1655.8 1201.7h12.5v11.7h-12.5zM1668.0 1201.7h12.5v11.7h-12.5zM1680.2 1201.7h12.5v11.7h-12.5zM1692.3 1201.7h12.5v11.7h-12.5zM1704.5 1201.7h12.5v11.7h-12.5zM1716.6 1201.7h12.5v11.7h-12.5zM1728.8 1201.7h12.5v11.7h-12.5zM1740.9 1201.7h12.5v11.7h-12.5zM1753.1 1201.7h12.5v11.7h-12.5zM1765.2 1195.9h12.5v17.4h-12.5zM1777.3 1195.9h12.5v17.4h-12.5z"/>
<path fill="#1919ff" d="M1340.0 1201.7h12.5v6.0h-12.5zM1352.1 1190.2h12.5v6.0h-12.5zM1352.1 1201.7h12.5v6.0h-12.5zM1364.2 1184.5h12.5v6.0h-12.5zM1376.4 1195.9h12.5v6.0h-12.5zM1388.5 1167.4h12.5v6.0h-12.5zM1400.7 1190.2h12.5v6.0h-12.5zM1412.8 1161.7h12.5v6.0h-12.5zM1412.8 1190.2h12.5v6.0h-12.5zM1437.2 1195.9h12.5v6.0h-12.5zM1449.3 1195.9h12.5v6.0h-12.5zM1461.5 1156.0h12.5v6.0h-12.5zM1461.5 1195.9h12.5v6.0h-12.5zM1473.6 1195.9h12.5v6.0h-12.5zM1485.8 1195.9h12.5v6.0h-12.5zM1497.9 1195.9h12.5v6.0h-12.5zM1510.0 1195.9h12.5v6.0h-12.5zM1522.2 1150.2h12.5v6.0h-12.5zM1522.2 1190.2h12.5v11.7h-12.5zM1534.3 1190.2h12.5v11.7h-12.5zM1546.5 1190.2h12.5v11.7h-12.5zM1558.7 1190.2h12.5v11.7h-12.5zM1570.8 1190.2h12.5v11.7h-12.5zM1583.0 1190.2h12.5v11.7h-12.5zM1595.1 1190.2h12.5v11.7h-12.5zM1607.2 1190.2h12.5v11.7h-12.5zM1619.4 1190.2h12.5v11.7h-12.5zM1631.5 1190.2h12.5v11.7h-12.5zM1643.7 1190.2h12.5v11.7h-12.5zM1655.8 1190.2h12.5v11.7h-12.5zM1668.0 1144.5h12.5v6.0h-12.5zM1668.0 1190.2h12.5v11.7h-12.5zM1680.2 1144.5h12.5v6.0h-12.5zM1680.2 1190.2h12.5v11.7h-12.5zM1692.3 1144.5h12.5v6.0h-12.5zM1692.3 1190.2h12.5v11.7h-12.5zM1704.5 1144.5h12.5v6.0h-12.5zM1704.5 1190.2h12.5v11.7h-12.5zM1716.6 1144.5h12.5v6.0h-12.5zM1716.6 1190.2h12.5v11.7h-12.5zM1728.8 1190.2h12.5v11.7h-12.5zM1740.9 1190.2h12.5v11.7h-12.5zM1753.1 1190.2h12.5v11.7h-12.5zM1765.2 1190.2h12.5v6.0h-12.5zM1777.3 1190.2h12.5v6.0h-12.5z"/>
<path fill="#1010ff" d="M1352.1 1195.9h12.5v6.0h-12.5zM1364.2 1190.2h12.5v11.7h-12.5zM1376.4 1178.8h12.5v6.0h-12.5zM1388.5 1173.1h12.5v6.0h-12.5zM1388.5 1190.2h12.5v6.0h-12.5zM1400.7 1167.4h12.5v6.0h-12.5zM1425.0 1161.7h12.5v6.0h-12.5zM1425.0 1190.2h12.5v6.0h-12.5zM1437.2 1190.2h12.5v6.0h-12.5zM1449.3 1190.2h12.5v6.0h-12.5zM1461.5 1190.2h12.5v6.0h-12.5zM1473.6 1156.0h12.5v6.0h-12.5zM1473.6 1190.2h12.5v6.0h-12.5zM1485.8 1190.2h12.5v6.0h-12.5zM1497.9 1190.2h12.5v6.0h-12.5zM1510.0 1190.2h12.5v6.0h-12.5zM1522.2 1184.5h12.5v6.0h-12.5zM1534.3 1150.2h12.5v6.0h-12.5zM1534.3 1184.5h12.5v6.0h-12.5zM1546.5 1150.2h12.5v6.0h-12.5zM1546.5 1184.5h12.5v6.0h-12.5zM1558.7 1184.5h12.5v6.0h-12.5zM1570.8 1184.5h12.5v6.0h-12.5zM1583.0 1184.5h12.5v6.0h-12.5zM1595.1 1184.5h12.5v6.0h-12.5zM1607.2 1184.5h12.5v6.0h-12.5zM1619.4 1184.5h12.5v6.0h-12.5zM1631.5 1184.5h12.5v6.0h-12.5zM1643.7 1184.5h12.5v6.0h-12.5zM1655.8 1184.5h12.5v6.0h-12.5zM1668.0 1184.5h12.5v6.0h-12.5zM1680.2 1184.5h12.5v6.0h-12.5zM1692.3 1184.5h12.5v6.0h-12.5zM1704.5 1184.5h12.5v6.0h-12.5zM1716.6 1184.5h12.5v6.0h-12.5zM1728.8 1144.5h12.5v6.0h-12.5zM1728.8 1184.5h12.5v6.0h-12.5zM1740.9 1144.5h12.5v6.0h-12.5zM1740.9 1184.5h12.5v6.0h-12.5zM1753.1 1144.5h12.5v6.0h-12.5zM1753.1 1184.5h12.5v6.0h-12.5zM1765.2 1178.8h12.5v11.7h-12.5zM1777.3 1178.8h12.5v11.7h-12.5z"/>
<path fill="#0808ff" d="M1376.4 1184.5h12.5v11.7h-12.5zM1412.8 1167.4h12.5v6.0h-12.5zM1412.8 1184.5h12.5v6.0h-12.5zM1425.0 1184.5h12.5v6.0h-12.5zM1437.2 1161.7h12.5v6.0h-12.5zM1437.2 1184.5h12.5v6.0h-12.5zM1449.3 1184.5h12.5v6.0h-12.5zM1461.5 1184.5h12.5v6.0h-12.5zM1473.6 1184.5h12.5v6.0h-12.5zM1485.8 1156.0h12.5v6.0h-12.5zM1485.8 1184.5h12.5v6.0h-12.5zM1497.9 1156.0h12.5v6.0h-12.5zM1497.9 1184.5h12.5v6.0h-12.5zM1510.0 1184.5h12.5v6.0h-12.5zM1534.3 1178.8h12.5v6.0h-12.5zM1546.5 1178.8h12.5v6.0h-12.5zM1558.7 1150.2h12.5v6.0h-12.5zM1558.7 1178.8h12.5v6.0h-12.5zM1570.8 1150.2h12.5v6.0h-12.5zM1570.8 1178.8h12.5v6.0h-12.5zM1583.0 1150.2h12.5v6.0h-12.5zM1583.0 1178.8h12.5v6.0h-12.5zM1595.1 1150.2h12.5v6.0h-12.5zM1595.1 1178.8h12.5v6.0h-12.5zM1607.2 1150.2h12.5v6.0h-12.5zM1607.2 1178.8h12.5v6.0h-12.5zM1619.4 1178.8h12.5v6.0h-12.5zM1631.5 1178.8h12.5v6.0h-12.5zM1643.7 1178.8h12.5v6.0h-12.5zM1655.8 1178.8h12.5v6.0h-12.5zM1668.0 1178.8h12.5v6.0h-12.5zM1680.2 1178.8h12.5v6.0h-12.5zM1692.3 1178.8h12.5v6.0h-12.5zM1704.5 1178.8h12.5v6.0h-12.5zM1716.6 1178.8h12.5v6.0h-12.5zM1728.8 1178.8h12.5v6.0h-12.5zM1740.9 1178.8h12.5v6.0h-12.5zM1753.1 1178.8h12.5v6.0h-12.5zM1765.2 1144.5h12.5v6.0h-12.5zM1777.3 1173.1h12.5v6.0h-12.5z"/>
<path fill="#0000ff" d="M1388.5 1178.8h12.5v11.7h-12.5zM1400.7 1173.1h12.5v17.4h-12.5zM1412.8 1173.1h12.5v11.7h-12.5zM1425.0 1167.4h12.5v17.4h-12.5zM1437.2 1167.4h12.5v17.4h-12.5zM1449.3 1161.7h12.5v23.1h-12.5zM1461.5 1161.7h12.5v23.1h-12.5zM1473.6 1161.7h12.5v23.1h-12.5zM1485.8 1161.7h12.5v23.1h-12.5zM1497.9 1161.7h12.5v23.1h-12.5zM1510.0 1156.0h12.5v28.9h-12.5zM1522.2 1156.0h12.5v28.9h-12.5zM1534.3 1156.0h12.5v23.1h-12.5zM1546.5 1156.0h12.5v23.1h-12.5zM1558.7 1156.0h12.5v23.1h-12.5zM1570.8 1156.0h12.5v23.1h-12.5zM1583.0 1156.0h12.5v23.1h-12.5zM1595.1 1156.0h12.5v23.1h-12.5zM1607.2 1156.0h12.5v23.1h-12.5zM1619.4 1150.2h12.5v28.9h-12.5zM1631.5 1150.2h12.5v28.9h-12.5zM1643.7 1150.2h12.5v28.9h-12.5zM1655.8 1150.2h12.5v28.9h-12.5zM1668.0 1150.2h12.5v28.9h-12.5zM1680.2 1150.2h12.5v28.9h-12.5zM1692.3 1150.2h12.5v28.9h-12.5zM1704.5 1150.2h12.5v28.9h-12.5zM1716.6 1150.2h12.5v28.9h-12.5zM1728.8 1150.2h12.5v28.9h-12.5zM1740.9 1150.2h12.5v28.9h-12.5zM1753.1 1150.2h12.5v28.9h-12.5zM1765.2 1150.2h12.5v28.9h-12.5zM1777.3 1144.5h12.5v28.9h-12.5z"/>
</g>
<g shape-rendering="crispEdges">
<rect x="1808.80" y="901.90" width="46.70" height="17.73" fill="#0000ff"/>
<rect x="1808.80" y="919.03" width="46.70" height="17.73" fill="#0808ff"/>
<rect x="1808.80" y="936.17" width="46.70" height="17.73" fill="#1010ff"/>
<rect x="1808.80" y="953.30" width="46.70" height="17.73" fill="#1919ff"/>
<rect x="1808.80" y="970.44" width="46.70" height="17.73" fill="#2121ff"/>
<rect x="1808.80" y="987.57" width="46.70" height="17.73" fill="#2929ff"/>
<rect x="1808.80" y="1004.71" width="46.70" height="17.73" fill="#3131ff"/>
<rect x="1808.80" y="1021.84" width="46.70" height="17.73" fill="#3a3aff"/>
<rect x="1808.80" y="1038.97" width="46.70" height="17.73" fill="#4242ff"/>
<rect x="1808.80" y="1056.11" width="46.70" height="17.73" fill="#4a4aff"/>
<rect x="1808.80" y="1073.24" width="46.70" height="17.73" fill="#5252ff"/>
<rect x="1808.80" y="1090.38" width="46.70" height="17.73" fill="#5a5aff"/>
<rect x="1808.80" y="1107.51" width="46.70" height="17.73" fill="#6363ff"/>
<rect x="1808.80" y="1124.65" width="46.70" height="17.73" fill="#6b6bff"/>
<rect x="1808.80" y="1141.78" width="46.70" height="17.73" fill="#7373ff"/>
<rect x="1808.80" y="1158.92" width="46.70" height="17.73" fill="#7b7bff"/>
<rect x="1808.80" y="1176.05" width="46.70" height="17.73" fill="#8484ff"/>
<rect x="1808.80" y="1193.18" width="46.70" height="17.73" fill="#8c8cff"/>
<rect x="1808.80" y="1210.32" width="46.70" height="17.73" fill="#9494ff"/>
<rect x="1808.80" y="1227.45" width="46.70" height="17.73" fill="#9c9cff"/>
<rect x="1808.80" y="1244.59" width="46.70" height="17.73" fill="#a5a5ff"/>
<rect x="1808.80" y="1261.72" width="46.70" height="17.73" fill="#adadff"/>
<rect x="1808.80" y="1278.86" width="46.70" height="17.73" fill="#b5b5ff"/>
<rect x="1808.80" y="1295.99" width="46.70" height="17.73" fill="#bdbdff"/>
<rect x="1808.80" y="1313.12" width="46.70" height="17.73" fill="#c5c5ff"/>
<rect x="1808.80" y="1330.26" width="46.70" height="17.73" fill="#ceceff"/>
<rect x="1808.80" y="1347.39" width="46.70" height="17.73" fill="#d6d6ff"/>
<rect x="1808.80" y="1364.53" width="46.70" height="17.73" fill="#dedeff"/>
<rect x="1808.80" y="1381.66" width="46.70" height="17.73" fill="#e6e6ff"/>
<rect x="1808.80" y="1398.80" width="46.70" height="17.73" fill="#efefff"/>
<rect x="1808.80" y="1415.93" width="46.70" height="17.73" fill="#f7f7ff"/>
<rect x="1808.80" y="1433.07" width="46.70" height="17.73" fill="#ffffff"/>
</g>
<rect x="1808.80" y="901.90" width="46.70" height="548.30" fill="none" stroke="#000" stroke-width="1.3"/>
<line x1="1855.50" y1="901.90" x2="1866.00" y2="901.90" stroke="#000" stroke-width="1.3"/>
<line x1="1855.50" y1="1176.05" x2="1866.00" y2="1176.05" stroke="#000" stroke-width="1.3"/>
<line x1="1855.50" y1="1450.20" x2="1866.00" y2="1450.20" stroke="#000" stroke-width="1.3"/>
<text x="1881.37" y="915.07" font-size="38.30">80.00</text>
<text x="1881.47" y="1189.22" font-size="38.30">52.50</text>
<text x="1881.09" y="1463.37" font-size="38.30">25.00</text>
<rect x="1182.00" y="887.50" width="607.50" height="576.90" fill="none" stroke="#000" stroke-width="2.3"/>
<line x1="1171.00" y1="890.80" x2="1182.00" y2="890.80" stroke="#000" stroke-width="2"/>
<text x="1098.37" y="902.17" font-size="38.30">800</text>
<line x1="1171.00" y1="1004.92" x2="1182.00" y2="1004.92" stroke="#000" stroke-width="2"/>
<text x="1098.37" y="1016.29" font-size="38.30">780</text>
<line x1="1171.00" y1="1119.04" x2="1182.00" y2="1119.04" stroke="#000" stroke-width="2"/>
<text x="1098.37" y="1130.41" font-size="38.30">760</text>
<line x1="1171.00" y1="1233.16" x2="1182.00" y2="1233.16" stroke="#000" stroke-width="2"/>
<text x="1098.37" y="1244.53" font-size="38.30">740</text>
<line x1="1171.00" y1="1347.28" x2="1182.00" y2="1347.28" stroke="#000" stroke-width="2"/>
<text x="1098.37" y="1358.65" font-size="38.30">720</text>
<line x1="1171.00" y1="1461.40" x2="1182.00" y2="1461.40" stroke="#000" stroke-width="2"/>
<text x="1098.37" y="1472.77" font-size="38.30">700</text>
<line x1="1187.20" y1="1464.40" x2="1187.20" y2="1475.40" stroke="#000" stroke-width="2"/>
<text x="1151.66" y="1513.43" font-size="36.50">0.60</text>
<line x1="1336.40" y1="1464.40" x2="1336.40" y2="1475.40" stroke="#000" stroke-width="2"/>
<text x="1300.95" y="1513.43" font-size="36.50">0.63</text>
<line x1="1485.60" y1="1464.40" x2="1485.60" y2="1475.40" stroke="#000" stroke-width="2"/>
<text x="1450.15" y="1513.43" font-size="36.50">0.66</text>
<line x1="1634.80" y1="1464.40" x2="1634.80" y2="1475.40" stroke="#000" stroke-width="2"/>
<text x="1599.39" y="1513.43" font-size="36.50">0.69</text>
<line x1="1784.00" y1="1464.40" x2="1784.00" y2="1475.40" stroke="#000" stroke-width="2"/>
<text x="1748.69" y="1513.43" font-size="36.50">0.72</text>
<text x="1588.78" y="850.40" font-size="38.40">Collection efficiency (%)</text>
<text x="1396.64" y="1577.30" font-size="38.30">Duty cycle</text>
<text x="0" y="0" font-size="38.10" transform="translate(1065.60 1319.29) rotate(-90)">Wavelength (nm)</text>
<text x="1028.78" y="908.90" font-size="47.50" letter-spacing="3">d)</text>
</svg></body></html>
